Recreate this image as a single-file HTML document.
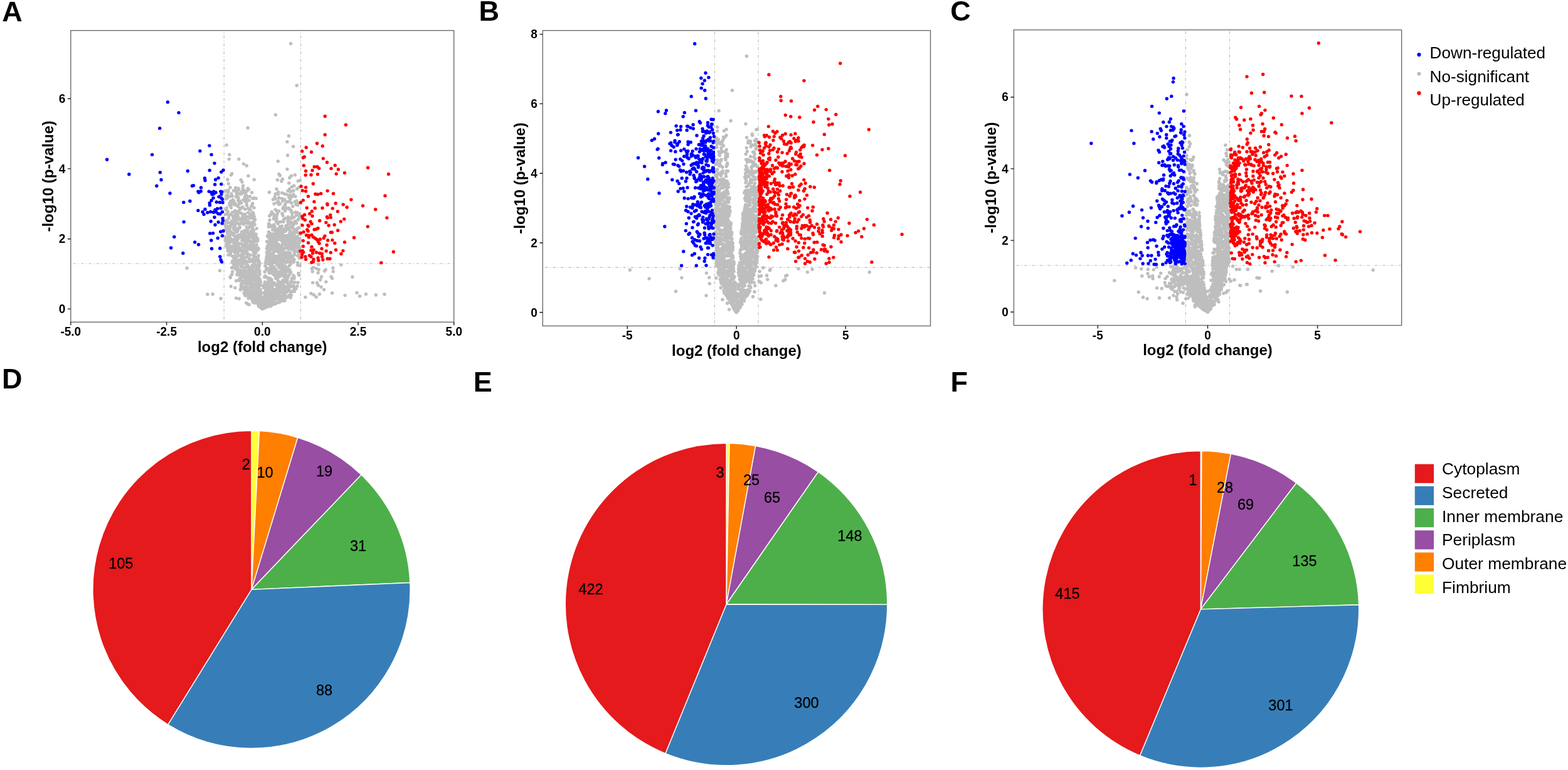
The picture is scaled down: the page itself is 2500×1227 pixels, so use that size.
<!DOCTYPE html>
<html lang="en"><head><meta charset="utf-8"><title>Figure</title>
<style>html,body{margin:0;padding:0;background:#fff}body{width:2500px;height:1227px;overflow:hidden}svg{display:block}text{font-family:'Liberation Sans', Arial, Helvetica, sans-serif}</style>
</head><body>
<svg width="2500" height="1227" viewBox="0 0 2500 1227">
<rect width="2500" height="1227" fill="#fff"/>
<g font-weight="bold" font-size="45" fill="#000">
<text x="3.3" y="33.8">A</text>
<text x="763.6" y="32.9">B</text>
<text x="1515.3" y="33.1">C</text>
<text x="3" y="618.9">D</text>
<text x="754.8" y="623.9">E</text>
<text x="1515.6" y="623.9">F</text>
</g>
<g id="plotA">
<path d="M357.20 513.3V48.6" stroke="#b9b9b9" stroke-width="1.13" fill="none" stroke-dasharray="1.13 3.39 4.52 3.39"/>
<path d="M479.40 513.3V48.6" stroke="#b9b9b9" stroke-width="1.13" fill="none" stroke-dasharray="1.13 3.39 4.52 3.39"/>
<path d="M112.8 420.00H723.8" stroke="#b9b9b9" stroke-width="1.13" fill="none" stroke-dasharray="1.13 3.39 4.52 3.39" stroke-dashoffset="0.6"/>
<path d="M411.4 398.1h0M405.6 442.2h0M404.8 356.3h0M398.3 413.7h0M371 384.9h0M395.3 404.6h0M405.7 376.7h0M391.2 431.9h0M410.2 446.5h0M376.3 337.6h0M415.1 489.5h0M398.7 370.8h0M372.5 303.7h0M402.7 446.2h0M413 486h0M415 477.7h0M388.1 436.1h0M401.4 472.2h0M415.9 454.7h0M372.7 375h0M405.9 405.2h0M399.2 346.5h0M412.2 396.3h0M359.8 351.7h0M415.7 472.8h0M409.2 378.6h0M397.1 319.3h0M385 421.9h0M375.7 354.4h0M387.6 403.2h0M411.7 457.9h0M364.9 384.6h0M403.7 368.9h0M404.3 445.7h0M375 343h0M383.2 332.4h0M402.4 422.7h0M404.2 407.3h0M394.4 405.1h0M402.7 394.4h0M410.6 468h0M358.6 304.7h0M395.7 364.3h0M407 395.1h0M364 303.3h0M386.5 390h0M383.9 416.4h0M405.5 399h0M387.5 457.3h0M411.8 433.4h0M404.2 341.2h0M413.5 465.7h0M404.8 415h0M380.1 300.2h0M369.6 352.3h0M390.4 380.9h0M359.1 377h0M389.9 379.1h0M377.7 376.9h0M386.5 436h0M403.2 338.6h0M389.1 374.5h0M380.7 336.7h0M403.3 345.2h0M374.5 364.9h0M412.2 442.3h0M364 406.1h0M369.8 395.6h0M376.4 313.5h0M404.8 375.6h0M366.7 375h0M368.2 383.9h0M417.2 489.5h0M411.7 420.1h0M390.1 449h0M375.7 369.6h0M410.5 465.1h0M382.9 395.8h0M368.7 341.8h0M396.8 437.4h0M380.6 302.8h0M415.4 461.6h0M378.5 387.2h0M403.3 460.2h0M381.8 363.5h0M400.4 438.5h0M374.4 402.2h0M402.1 339.6h0M402.7 479.5h0M370.5 417.4h0M385.8 383.1h0M379.3 340.5h0M405.9 456.5h0M380 430.3h0M367.6 397.9h0M379.5 318.9h0M372.7 374.6h0M375.7 338.5h0M411.7 479.4h0M381.7 437.2h0M385.3 305.5h0M363.2 390.6h0M380.4 435.8h0M413.3 454.7h0M383.6 436.3h0M375.1 364.2h0M397.3 435.3h0M405.8 417.3h0M413.5 423.2h0M394 364.2h0M389.5 440.5h0M391.4 392.4h0M394.1 449.4h0M397.5 470.5h0M388.2 400.7h0M381.2 445.3h0M408.1 427.8h0M391.8 451.3h0M400.8 428.9h0M405.3 458.6h0M362 386.7h0M380.6 429.1h0M384.7 339.8h0M371.1 397.1h0M409.2 464.7h0M374.2 385h0M403.5 399.6h0M367 402.7h0M386.7 459.7h0M386.5 411.1h0M381.9 357.7h0M360.2 365.9h0M402.3 458.7h0M374.5 419.1h0M392.5 445h0M402.7 361.2h0M402.2 474.8h0M383 414.7h0M383 332.9h0M373.9 346.5h0M390.4 400.2h0M396.5 426.2h0M388.1 412.2h0M386.3 403.8h0M394.6 466.9h0M394 403h0M371.7 385h0M413.8 433.4h0M390.2 415.2h0M385.9 401.4h0M374.5 359.4h0M366.5 313.1h0M404.6 403.5h0M375.6 304.6h0M408.3 459.4h0M388 318.5h0M407.8 451.4h0M371.3 382.4h0M372.5 421.3h0M390.1 346.7h0M402.7 465.1h0M391.2 320.9h0M395.1 444.3h0M400.6 427h0M364.3 365.9h0M404.2 446.6h0M414.9 464.6h0M392.5 434.9h0M360.9 389.4h0M412.2 452h0M398.5 415.2h0M375 337.9h0M392.8 443.5h0M388.3 379.5h0M401.9 369.3h0M359 358.3h0M407.1 478.5h0M410.5 410h0M399.6 385.5h0M396.7 443.7h0M397.8 472.1h0M371.4 408.8h0M382.7 309.2h0M401.9 394.5h0M401.6 362.2h0M414.8 487.1h0M375.7 379h0M382.8 413.4h0M410.1 468.9h0M393.4 445.7h0M407.2 410.1h0M405.3 376.3h0M359.4 383.8h0M388.4 369.8h0M390.1 416.8h0M401.1 450.4h0M392.8 457h0M405.9 475.6h0M371.3 318.4h0M407.3 433.8h0M390.7 442.2h0M381.8 357.7h0M391.5 436.7h0M397.4 416.8h0M407.5 472.1h0M374.1 410.7h0M391.8 426h0M402.7 324.3h0M374.5 323.9h0M379.7 407.3h0M361.6 360.8h0M369.2 399.6h0M396.7 436.8h0M394.3 470.6h0M365.6 391.4h0M410.8 470.3h0M398.7 359.2h0M365.8 367h0M362.6 362.8h0M363.1 377.1h0M361.4 351.5h0M406.7 379.1h0M394.3 417.2h0M360.6 392h0M380.3 377.2h0M377.4 353.8h0M410.6 427.7h0M411.8 430.5h0M408.1 373.2h0M372.2 347.3h0M361.3 383.2h0M412.8 457.1h0M362.6 370.9h0M391.2 368.3h0M364.9 343.4h0M365.6 398.5h0M359.5 360h0M395.6 458.8h0M361.9 382.5h0M362.8 368.4h0M406.1 358h0M412.2 426.9h0M374.5 415.6h0M395.8 431.7h0M392 453.3h0M409.3 462.6h0M377.8 409.2h0M387.9 439.2h0M367.8 360.6h0M402.7 365.1h0M383.5 416.7h0M409.4 381.9h0M375.6 299.3h0M379.8 346h0M406.2 471.2h0M389.2 411h0M376.9 429.6h0M378.5 369.1h0M406.9 473.2h0M374.8 393.7h0M392 455.6h0M394.1 396.8h0M379.9 392.4h0M393.5 461.5h0M367.3 401.9h0M396.9 452.6h0M405.2 399.7h0M393.9 417h0M389 450.9h0M402.6 427.8h0M401.7 438.5h0M405.8 469.8h0M398.1 462.7h0M392 469h0M400.7 370h0M378.3 438h0M411.6 484.8h0M368.5 382.6h0M410.2 429.2h0M377.5 307.8h0M400.5 357.7h0M388.2 357.3h0M377.3 351.7h0M392.6 436.1h0M383.6 378.3h0M364.6 384.4h0M399 389.7h0M370.8 399.2h0M398.4 376.7h0M394.4 355.7h0M383.4 432.6h0M409.2 364.1h0M383.7 437.6h0M375.7 420.4h0M416 482.6h0M412.6 474.9h0M361.5 331.1h0M373.1 355h0M388.7 410.1h0M400.4 368.1h0M372.8 320.7h0M362.1 368.1h0M363.5 368.1h0M401.4 441.6h0M383.6 373.6h0M389.9 384.5h0M397.2 362.2h0M383 350.9h0M368.4 380.4h0M392.4 458.1h0M384 418.2h0M395.2 423.1h0M400 433.3h0M392.7 462.9h0M378.5 424.9h0M415.1 484.2h0M393 439.7h0M390.2 410.8h0M397 440.6h0M395.1 385.2h0M391 319h0M402.4 373h0M377.5 389.5h0M392.4 347.5h0M399.7 387h0M393.8 376.5h0M370.5 357.4h0M400.6 328.7h0M404.6 366.9h0M390.2 389.7h0M404.1 370.7h0M406.8 403.3h0M377.4 421.2h0M372 373.6h0M382.1 420.2h0M379.8 430.7h0M412.6 417.2h0M379.7 436.5h0M410.6 453.4h0M395.1 371h0M405.1 423.4h0M385.2 447.1h0M406.4 422.9h0M408.3 401.7h0M409.2 415.2h0M394.4 449.5h0M391 388.8h0M403.1 388h0M404.4 424.1h0M390.3 416.8h0M397 437.4h0M385 308.9h0M367.8 320.4h0M389.8 448.3h0M394.6 352.2h0M373.1 427h0M406.4 459.2h0M390.1 426.9h0M368.8 381.2h0M405.9 445.3h0M396.7 395.6h0M379.8 400.5h0M393.6 442h0M369.9 393.3h0M364.3 392.2h0M365.7 326.3h0M404 459.7h0M371.1 371.6h0M382 388h0M399 396.7h0M364.6 384h0M399.7 467h0M401.5 306.8h0M402.1 361.3h0M376.9 398.6h0M393.2 324h0M378.9 328.5h0M384.7 452.2h0M404.3 384.6h0M372.2 322.7h0M394.9 404.6h0M396.5 428.4h0M406.9 441.5h0M415.5 449.5h0M392.6 403.3h0M373.8 420.1h0M375.1 411.4h0M380.4 356.7h0M393.4 446.3h0M390.9 436.5h0M376.5 384.4h0M380.9 375.3h0M377.3 397.9h0M385.3 388.7h0M379.2 374.9h0M395.6 338.9h0M390 400.7h0M400.9 377.2h0M393.8 447.4h0M374.7 326.4h0M358.6 355.7h0M384 431.5h0M399 393.4h0M393.1 353.2h0M410.8 467h0M393.9 317.2h0M389.5 349.4h0M395.9 375.1h0M387.2 354h0M393.7 409.3h0M391.6 307.4h0M389.7 367.4h0M390 459.9h0M372.9 375.3h0M396.7 354.2h0M390.9 402.9h0M407 436.5h0M412.9 462.9h0M372.6 350.6h0M369.8 371.2h0M398.1 347.9h0M403.8 469.5h0M408 391.9h0M398.5 442.6h0M409.6 470.3h0M398.9 406.5h0M379.2 403.9h0M374.6 407.6h0M384.8 407h0M380.4 375.7h0M368.5 331h0M402.4 413h0M390.1 372.4h0M363.2 399.7h0M393.7 304.2h0M413.2 449.8h0M390.6 438.8h0M374.2 390.4h0M386 331.1h0M372.8 419h0M374.1 371.1h0M374.9 400.6h0M391.2 471h0M405 352.9h0M399.2 334.5h0M377.9 436.8h0M386.9 392.8h0M378.8 327.2h0M379.8 396.7h0M410.7 412.5h0M379.4 432.1h0M398.4 434h0M367.8 341.6h0M402.4 444.6h0M384.7 378.4h0M360.4 334.5h0M382.1 445.5h0M376 409.1h0M372.5 362.9h0M401.2 385.2h0M362.9 340.2h0M402.4 326h0M382.5 331.3h0M410.3 453.4h0M378.8 363.9h0M377.7 402.1h0M401.5 469.3h0M372.4 410.4h0M363.3 337h0M412.4 442.7h0M391.6 445.9h0M396.6 411.5h0M387.1 414.6h0M405.7 385.1h0M390.9 333.5h0M393.2 361.4h0M387 391.9h0M405.2 433.1h0M390.4 398.5h0M384.2 397.4h0M386 442h0M387.3 399.8h0M417.4 473.3h0M367 368.7h0M390.1 395.3h0M391.8 467.7h0M413.7 419.1h0M414.6 472.3h0M377 421.1h0M397.9 431.6h0M395.8 331.9h0M368 329.7h0M403.1 393.4h0M397.2 333.3h0M390 396.9h0M377.9 383.2h0M375.8 336.1h0M364.7 347.9h0M385.5 369.5h0M391.5 309h0M401.2 453.6h0M362.9 371.7h0M406.9 398.3h0M376.6 348h0M392.4 448.3h0M384.3 419.2h0M400.3 340.9h0M404.8 471.3h0M386.8 435.4h0M389.1 305.2h0M401.5 424.9h0M364.3 361.1h0M390.2 461.7h0M411.6 476.3h0M384.6 323.5h0M408.7 411.4h0M393.1 454.1h0M382.3 362.5h0M376.8 417.5h0M363.3 393.5h0M373 387.3h0M394 345.5h0M398.8 342.9h0M394.6 385.5h0M404.3 469.8h0M362.1 368.1h0M379.2 391.8h0M384.5 454h0M393.6 312.5h0M380.1 314.9h0M383.1 356.1h0M390.4 320.2h0M366.1 323.5h0M401.8 426.4h0M366.3 379.2h0M387.2 348.2h0M362.2 361.9h0M364.2 384.8h0M389.3 437.5h0M400.3 437.3h0M359.5 341.6h0M393.2 439.4h0M409.1 390h0M362.6 395.4h0M373.2 413.2h0M391.9 393.9h0M409.5 380.1h0M394.4 368.7h0M406.8 480.3h0M386.6 409.8h0M371.6 344.9h0M403.3 416.3h0M374 349.6h0M383.8 435.5h0M374.5 426.3h0M360 377.9h0M367.8 328.6h0M390.2 355.8h0M374.8 366.3h0M407.4 375.4h0M362.7 354.3h0M396.9 458.5h0M411.9 414.3h0M386.2 306.6h0M391.7 470.6h0M393.2 449.8h0M398.3 371.7h0M385.7 347.3h0M414.1 451.1h0M368 395.9h0M370.3 324.1h0M386.6 342h0M399 444.2h0M378.4 415.1h0M386.9 424.9h0M396.6 302h0M400 432h0M412.3 418.5h0M408.3 447.2h0M372.9 397.5h0M362.5 309.9h0M388.8 303.5h0M372.5 425h0M400.2 456.9h0M389.1 448.9h0M406.1 432.7h0M367.9 354.9h0M407.1 393.3h0M362.7 311.4h0M375.8 394.9h0M379.2 308.8h0M405.3 345.3h0M362.9 384.9h0M375.5 415h0M385.8 431.9h0M411.8 441.6h0M404 436.9h0M401.9 442h0M393.5 441.2h0M395.4 395.9h0M403.5 348h0M367.1 298.8h0M402.3 437.2h0M404.6 452.2h0M386.1 451.9h0M388 404.4h0M381.4 324.8h0M380.1 433.4h0M360 365.3h0M412.5 426h0M375.9 396.5h0M387.1 371h0M390.9 401.2h0M373.1 337.7h0M377.8 342.7h0M384.1 399.6h0M385.8 415.7h0M416.2 466.3h0M373.6 357.8h0M385.7 418.5h0M389.5 306.4h0M385.7 306.1h0M368 406.6h0M411 422.2h0M379.3 381.2h0M389.2 371.4h0M386.1 458.3h0M374.2 381.1h0M384.4 437.6h0M395.8 392.3h0M375.5 356.1h0M405.1 331.1h0M366.4 364.7h0M391.8 402.9h0M392.9 390.3h0M378.6 418h0M410.2 384.3h0M363.3 379.2h0M382.4 320.1h0M398.7 474.3h0M410.9 380.9h0M389.6 345.9h0M365.7 395h0M406.1 466.7h0M389.7 432.7h0M375.1 335.6h0M401 390h0M365.2 384h0M404.5 440.8h0M374 381.8h0M401.9 444.2h0M406.9 382.5h0M372.9 388.8h0M370.3 312.6h0M409.8 476.7h0M388.9 405.1h0M397 380.9h0M385.5 409.6h0M406.3 466.3h0M370.4 338.4h0M368.2 357.4h0M388 417.4h0M407.3 437.2h0M396.4 447.7h0M402.7 431h0M378.9 327h0M372.8 365.9h0M406.7 434.3h0M394.5 434.1h0M410.8 383.8h0M381.8 435.3h0M411.5 427.8h0M392.2 383.3h0M394.7 397h0M402.5 474.8h0M402.6 383.7h0M408.6 426.5h0M360.1 317.1h0M386.4 418.6h0M379.4 344.8h0M370.5 416.2h0M390.5 446.1h0M401.7 416.3h0M398.3 377.1h0M405.3 408.4h0M403.8 376h0M399.1 431.3h0M383.1 440h0M396.1 475.2h0M408.4 439.9h0M387.1 348.7h0M396.3 428.2h0M386.1 377.5h0M363.9 365.7h0M400.2 346.5h0M398.3 452.5h0M412.3 444.9h0M374.8 427h0M380.1 347.9h0M371.7 384.7h0M411.4 463.4h0M372.3 325.2h0M409.7 478.5h0M392.4 458.3h0M394.8 352.5h0M387.6 404.1h0M413 437.3h0M405.8 378.7h0M382.3 333.7h0M385 430.2h0M409.5 440.3h0M403.2 380.3h0M406 466.2h0M407.3 444.8h0M390 469h0M363.1 354.2h0M380.9 394h0M414.7 466.6h0M401 434.7h0M385 408.4h0M397.2 459.2h0M368.7 392.8h0M394.5 381.3h0M389.8 466.3h0M404.1 371.5h0M411.4 409.3h0M381.9 420.4h0M405.9 436.3h0M392.4 321.6h0M373.7 326.3h0M412.6 469.1h0M406 420.4h0M403 316.4h0M390.4 341.3h0M414.9 449.9h0M406.9 473.1h0M386.9 330h0M386.3 401.3h0M384.8 442.3h0M406.6 349.9h0M380.7 321.5h0M404.1 417.7h0M367.3 360.2h0M407.3 478.3h0M372.5 372h0M378 387.4h0M366.3 386.8h0M393.3 327.3h0M394.3 398.1h0M411.9 407.1h0M393.6 461.5h0M376.2 351.7h0M367.9 402.5h0M413.6 463.6h0M383.2 407.3h0M401.1 439.3h0M400.8 397.8h0M395.6 423.6h0M413 417.1h0M401.9 354.2h0M379.2 367.1h0M407.3 402.9h0M405.7 464.5h0M371.7 384.2h0M363.9 355.1h0M401.1 475.9h0M408.3 458.6h0M376.6 384.7h0M411.6 395.3h0M406.9 391h0M379.4 377.1h0M411.1 478.8h0M390.5 450.7h0M395.8 396.8h0M384.1 424.6h0M359.5 379.1h0M381.6 447.1h0M454.2 465.8h0M419.1 491.2h0M457.7 427.3h0M431.6 391.2h0M428.7 477.9h0M465.5 384h0M464.1 379.3h0M478.1 403.7h0M463.8 449.8h0M437 324.8h0M478.2 371.2h0M423 473.9h0M450.7 371.7h0M430.8 453.6h0M455.1 410.7h0M431.7 446.8h0M428.8 447.1h0M423.6 468.7h0M449 405.1h0M445.4 440.5h0M425.1 426.7h0M432.2 419.9h0M436.7 384.7h0M424.2 451.1h0M428 456.2h0M436.9 362.3h0M445.1 468.3h0M469.4 464.6h0M459.3 411.2h0M453.2 376.1h0M455.8 387h0M444.9 368.8h0M437.2 464h0M426.3 476.3h0M446.7 397.4h0M462.6 313.7h0M434.2 404.5h0M424.4 475.7h0M435.3 461.9h0M433.9 416.9h0M428.8 448.6h0M429.7 483.6h0M467.8 455h0M434 467.2h0M425.2 441.9h0M460.2 349.1h0M470.4 391.3h0M449.4 367.7h0M449.8 415.9h0M445.3 437.4h0M429.7 378.2h0M449.7 307.4h0M435.6 390.3h0M449.5 409h0M437.1 345h0M449.9 435h0M446.6 324.9h0M458.9 321.2h0M452.5 386.7h0M426.6 413.1h0M458.2 448h0M459.9 432.5h0M443.8 306.3h0M472.4 386.7h0M425.3 401.9h0M420.9 456.2h0M443.9 467.4h0M453.4 431.2h0M435.4 475.5h0M431.5 408.1h0M457.2 432.8h0M462.8 316.9h0M434.7 366.3h0M432.6 469.2h0M425.6 457.8h0M462.3 434h0M467.1 389h0M421.8 441.2h0M433.8 417.9h0M475.2 392.7h0M461.5 388.1h0M456.7 432.1h0M434.6 340.2h0M462.3 374.5h0M452.3 459.6h0M458.7 443.2h0M458 331.9h0M422 433.2h0M453.1 415.7h0M445 433.6h0M424.5 487.8h0M476.5 404.2h0M426.6 392h0M440.7 380.4h0M424.2 470.1h0M439.4 476.4h0M441.6 408.1h0M437.6 389.7h0M443.4 475.6h0M447.9 437h0M461.6 406.3h0M444 353.7h0M422.7 475.6h0M464.3 385.7h0M453.5 457.7h0M434.8 473.9h0M445.2 401.1h0M449.7 449.3h0M454.9 364.3h0M443.6 442.1h0M465.3 443.7h0M475 450.3h0M437.2 379.3h0M428 443.2h0M460.6 471.9h0M453.1 411.2h0M424.1 459.3h0M447.7 480h0M428.7 462.7h0M456.7 457.4h0M450.2 408.7h0M446.6 439.7h0M433.1 486.2h0M464.8 346.6h0M477.2 372.9h0M445.9 361.2h0M469.3 366.1h0M471.6 394.8h0M461.9 430h0M445.8 459.7h0M423.7 476.5h0M455.4 417.8h0M447.4 455.3h0M442.3 340.1h0M441.9 458.6h0M454.3 328.8h0M463.1 361.2h0M461.9 392.9h0M465.4 348h0M463.2 417.7h0M460.8 314.7h0M472.6 342.9h0M421.9 490.7h0M428.8 486.4h0M429.9 350.8h0M426.8 394.9h0M433.5 478h0M443.3 397.9h0M438.6 375.3h0M469.8 406.1h0M440.3 436.2h0M437.8 416.4h0M465.6 464.7h0M456.2 448.4h0M454.4 348h0M465.2 338.3h0M434.7 412.5h0M424.9 412.9h0M440.4 440.2h0M455.9 418.3h0M467.8 439h0M435.9 476.8h0M453.3 332.7h0M443.7 471.6h0M433 420.9h0M438.9 473.3h0M436.8 482.9h0M457.3 416.8h0M432 421.4h0M456.4 402.3h0M428.7 451h0M445.5 456.8h0M439.8 418.8h0M461.9 321.4h0M439.7 399.8h0M441.1 381.2h0M429.6 373.2h0M454.3 376.1h0M453.3 460.9h0M432.1 470h0M438.2 367.1h0M448.7 416.4h0M443.9 469.3h0M428.1 454.9h0M465.6 371.3h0M427.4 420.2h0M469.6 402.7h0M474.1 370h0M448.5 398.7h0M460.4 348.2h0M437.7 431.1h0M443 472.9h0M450.8 415.7h0M475 350.5h0M445 315.1h0M464.6 381.8h0M428.7 468.2h0M451.8 479.2h0M457.7 473.9h0M427.3 471.4h0M453.3 469.2h0M440.7 419.1h0M450.5 365.7h0M451.3 462.1h0M432.9 472.1h0M433.2 390.5h0M471 338.3h0M436.4 389.4h0M460.6 417.1h0M444.8 465.7h0M444.3 366.7h0M442.6 355.9h0M425.7 482.4h0M450.2 411h0M454 457.7h0M442 382.5h0M421.4 484.8h0M440.6 372h0M451.7 439.1h0M432.3 434.9h0M458.4 427.5h0M439.7 430h0M429.6 418.6h0M440.5 383.4h0M454.2 441.5h0M471 313.1h0M418.9 475.9h0M446.9 452.9h0M461.2 431.2h0M436.5 358.3h0M465.8 313.3h0M425.4 384.9h0M450.4 416.5h0M466.9 355.1h0M425.8 396.1h0M451 452.3h0M472.7 386.3h0M434.7 418.3h0M451.3 430.5h0M421.4 481.6h0M468.9 443.7h0M477.4 340.8h0M450.4 425.5h0M461.3 423.4h0M457.7 385.7h0M422.9 423.8h0M453.2 470h0M462.1 452.9h0M428.6 390h0M458.4 440.7h0M448.2 353.5h0M466.4 392.6h0M443.5 432.7h0M437.5 344.9h0M459 461.7h0M433.9 474.7h0M427.4 408.2h0M463.3 455.3h0M443.2 356.3h0M465.9 339.9h0M458 464.7h0M471.1 387.9h0M437.7 478.5h0M429.1 447.9h0M420.3 466.9h0M430 417.4h0M444 396.5h0M460.8 378.9h0M424.6 429.3h0M464.6 323.4h0M427.7 482.6h0M476.4 392.5h0M454.1 447.1h0M427.1 375h0M456.6 322h0M465.1 397.4h0M432.1 408h0M423.7 465h0M433.7 422.8h0M459.8 355.7h0M455.5 466.3h0M476.8 438.6h0M467.7 463.4h0M428.1 398.9h0M468.4 356.6h0M447.2 372.8h0M428.7 386.4h0M437.2 469.7h0M426.9 386.1h0M436.7 451.7h0M440.3 454h0M439.8 432.2h0M439 465.1h0M443.5 375.7h0M460.4 439.2h0M433.8 459.1h0M429.5 416.4h0M423.3 457h0M444.2 374.2h0M458.8 393.6h0M468.5 384.6h0M451 477.5h0M437.7 395h0M468 378.5h0M470.4 388.1h0M430.2 371.8h0M453.9 378.3h0M459.2 412h0M446.2 324.5h0M454.4 325.6h0M463.1 421.6h0M451.1 375.6h0M425.9 453.1h0M437.8 362h0M474.8 400h0M458.8 392.8h0M446.7 474h0M436.5 360h0M476.2 380.2h0M434.1 449.1h0M430.6 360.5h0M439.6 436.6h0M442.5 456.8h0M426.5 406.7h0M450.2 365h0M454.4 464.2h0M430.1 401.6h0M447.8 407h0M436.7 484.6h0M420.6 458.4h0M443.6 368.7h0M460.5 388.3h0M469.9 386.5h0M448 439.1h0M442.6 400.9h0M431.2 455.6h0M455.8 408.1h0M454.8 423.9h0M467.8 462.9h0M456.9 362.1h0M426.9 458.7h0M443.3 470.4h0M451.7 473.8h0M461.9 463.1h0M452.8 435.1h0M463.5 374.1h0M439.5 467.1h0M432.8 384.5h0M457.8 388.6h0M443.6 320.8h0M437.9 364h0M439.8 395.2h0M460 429.4h0M431.5 397.2h0M447.2 458.5h0M448.6 437.3h0M436.3 453.7h0M430.6 358.4h0M462.1 310.9h0M450.8 421.9h0M453.5 385.5h0M449.5 391.3h0M444.7 336.4h0M440.1 463.4h0M419 473.9h0M431.4 488.1h0M477.4 411.4h0M432.6 456.1h0M451.9 370h0M460.7 457.1h0M450.8 387.1h0M463.3 474.3h0M463.5 353.6h0M455.1 444h0M458.2 375.6h0M419.3 483.5h0M429.6 435.1h0M476.4 382.4h0M466.8 382.1h0M439.5 410.1h0M430.5 414.1h0M455.5 347.9h0M429.8 380.2h0M432.1 465.8h0M473.5 326.2h0M458.8 440.5h0M428.6 433h0M443.4 447.8h0M464.6 447.5h0M451.5 412h0M464.5 456.8h0M450.9 365.8h0M462 371.2h0M464 335.5h0M453.1 448.6h0M429.8 344h0M438.7 410.2h0M425.6 471.4h0M471.4 377.6h0M443.8 408.3h0M472.1 400.5h0M459.6 396.7h0M463.6 466.1h0M440.3 353.2h0M436.4 425.3h0M448.1 418.9h0M425.4 455.4h0M464.2 362.2h0M447.5 478.6h0M478.1 395.4h0M426.8 411.5h0M468.4 417.2h0M458.5 430h0M453.2 441.7h0M431.5 427.4h0M445.8 365.1h0M460.4 375.8h0M446.8 362.5h0M432.3 423.2h0M446 466h0M423.1 439.6h0M441.5 472.9h0M420.7 455.2h0M462.4 435.9h0M435.7 398.6h0M424.4 464.6h0M466.1 416.1h0M428.6 378.5h0M450.6 447h0M463.1 412.5h0M442.5 378.1h0M457.6 310.1h0M431.9 471.3h0M462.6 407.8h0M447.5 455.6h0M426.5 376.4h0M448.9 421.8h0M463.2 305.4h0M425.5 481.5h0M451.8 429.9h0M443.5 452.1h0M435.7 394.5h0M439 334.1h0M441.7 410.4h0M451.2 478.2h0M427.8 385.9h0M443.4 470h0M446.5 472.7h0M443.5 309.6h0M428.6 356.4h0M437.6 388.8h0M435.5 435.9h0M451 472.9h0M456.6 408.2h0M469.2 375.6h0M430.4 382.3h0M435 433.2h0M476 435.4h0M436.5 438h0M461.7 301.2h0M436 358.9h0M445.6 421.8h0M451.2 389.4h0M432.1 466.6h0M468.9 355.4h0M431.1 471.5h0M454.6 334.6h0M466 449.3h0M428 445.5h0M424.8 482.2h0M461.2 396.4h0M439.2 484h0M460.4 350.4h0M472.2 326.1h0M423.4 463.3h0M464.9 384.4h0M434.7 411.4h0M447.5 477.1h0M444.4 448.4h0M429.2 448h0M436.9 384.5h0M443.3 410.6h0M428 405.9h0M475.4 400.4h0M460.8 382.1h0M423.2 474.6h0M427.8 469.3h0M474.6 422.5h0M433.4 407.1h0M450.7 320.4h0M434 473.7h0M425.4 409.4h0M436.1 428.4h0M436 470.3h0M444.8 449h0M434.5 385.6h0M429 412.2h0M465.2 372.4h0M437.5 466.9h0M478.1 380.4h0M446.2 367.2h0M450.8 424.9h0M425.3 463.5h0M469.4 400.7h0M453.2 455.2h0M440.9 419.1h0M425.4 478.3h0M461.7 456.9h0M441.3 398.5h0M447.3 382.2h0M429.2 448.6h0M468.2 379.6h0M450 432h0M476 388.7h0M437 407.7h0M426 406.7h0M423.9 474.6h0M439.4 369.3h0M441.5 468.6h0M449.1 370.6h0M439.8 366.4h0M434.6 410.1h0M437.4 418.6h0M466.4 410.1h0M427.3 393h0M431.3 395.6h0M465.6 356.1h0M434.5 483.1h0M467.9 303.8h0M451.8 398.5h0M465.1 373.3h0M450.3 388.6h0M460.5 402.6h0M462.1 470.8h0M446.9 376.7h0M445 425h0M443.7 389.1h0M441.3 455.6h0M459.7 363.4h0M447.4 362.1h0M443.6 439.9h0M442.3 441.3h0M453.8 318h0M446.7 369.2h0M437 478.9h0M440.8 437.4h0M454 449h0M435.4 474.2h0M473.7 338.7h0M452.4 387.1h0M459.6 417.3h0M464 418.1h0M475.4 324.1h0M428.3 369.7h0M453.7 466.8h0M458.9 352.8h0M442.9 461.5h0M430.1 484.5h0M474.1 377.2h0M456 359.7h0M458.8 461.6h0M438.1 313.6h0M454.7 408.6h0M441.6 369.2h0M435.3 412.4h0M449.2 394.1h0M439.4 308.9h0M437.3 362.9h0M460 376.9h0M423.2 449.8h0M440.7 397.4h0M447.3 403.1h0M449.9 415.1h0M454.7 336.3h0M452.6 386.5h0M448.7 429.4h0M435.2 479.1h0M431.6 342h0M432.6 459.9h0M460.4 331.8h0M469.1 367.4h0M450.9 451.1h0M421.7 441.2h0M442.1 439h0M453.6 409.5h0M472 460h0M467.3 371.6h0M473.9 455.9h0M437.9 413.6h0M432.9 445.4h0M430.2 486.2h0M441.9 365.3h0M458.5 365.5h0M447.1 402h0M424.5 451h0M450 438.1h0M445.8 363.3h0M477.7 344.9h0M456.9 394h0M449.7 316.5h0M477.7 386h0M452.3 468.2h0M448.4 463.5h0M419 482.1h0M445.2 412.6h0M464.5 470.6h0M465.5 344.7h0M449.9 384.1h0M444.3 473.8h0M424.3 415.3h0M453.2 437.1h0M446 422.8h0M419.7 480.7h0M429.9 382.6h0M446.8 440.3h0M427.9 430h0M444.3 377.6h0M452.6 349.3h0M428.9 405.5h0M428.9 448.8h0M453.6 412.7h0M422.6 440.9h0M442.4 475.7h0M428.8 458.2h0M426.8 452.2h0M427.3 407h0M429 407.5h0M475.3 394.8h0M449.9 416.4h0M455.6 438.5h0M440.3 440.6h0M426.9 472h0M434.3 458.9h0M444.3 409.3h0M474.7 363.9h0M457.7 358.9h0M446.6 424.3h0M430.9 443.7h0M444 414.6h0M438.4 427.6h0M441.7 422.3h0M454 479h0M451.7 429.4h0M449.8 407.9h0M441.1 348.5h0M457.9 403.3h0M469.1 441.4h0M430.2 388.5h0M430 427.6h0M441.5 468.5h0M466.8 328.8h0M456.1 426.8h0M470.3 352.5h0M432.6 391.8h0M451.8 381.6h0M452.3 366.4h0M441.4 482.6h0M443.6 367.1h0M431.1 454.3h0M442.8 443h0M437.7 342.4h0M440.5 386.8h0M455.8 375.4h0M456.3 440.8h0M470.1 321.8h0M445.2 481.7h0M438.2 474h0M426.6 484.6h0M462.6 388.2h0M451.1 456.8h0M442.9 422.9h0M470.6 390.5h0M466.6 394h0M430.5 445.9h0M468.5 398.9h0M448.6 429.2h0M433 418.5h0M449.9 340.3h0M459.4 452.9h0M434.6 372.8h0M427.9 467.9h0M467.9 385.9h0M433.2 449.5h0M429.2 473h0M472.7 378.2h0M452.2 403.4h0M455.5 368.3h0M469.2 458.4h0M436.4 385.3h0M447.3 380.5h0M445.4 403.6h0M450.3 379.6h0M428.5 361.5h0M426.5 466.1h0M432.6 450.5h0M450.1 474.1h0M448.3 437.9h0M472.5 355.8h0M432.8 340.2h0M428.7 360.2h0M450.4 428.4h0M429.7 480.3h0M439 365.2h0M444.6 315.4h0M470.6 370.2h0M447.4 401.5h0M433.4 361.3h0M432.9 457.2h0M454.1 388.4h0M436.4 462.6h0M449 472.2h0M445.8 366h0M443.7 393.6h0M452.6 471.8h0M455.7 383.5h0M465.1 387.1h0M469 413.8h0M474.8 326.9h0M435.6 391h0M430.2 398.9h0M436.4 413.4h0M465.4 407.8h0M437.2 376.2h0M451 332.5h0M455.8 449.5h0M458.7 388.7h0M435.4 318h0M422.6 470.7h0M440.5 370.4h0M429.6 370.8h0M426.5 392.4h0M428.2 475.2h0M445.5 439.1h0M474.5 418.6h0M444.6 372.7h0M461.7 333.3h0M436.4 349h0M462.9 403.3h0M471 377.2h0M429.6 473.2h0M437.2 386.7h0M440.7 413h0M423.9 455.5h0M438 360.9h0M459.2 345.6h0M433.5 475.4h0M472.8 365.2h0M461 462.5h0M433.2 337.7h0M470.4 394.9h0M439.2 316.7h0M445.9 470.8h0M450.8 405.5h0M461.6 375.1h0M446.9 457.1h0M460.3 397.3h0M476.7 362.6h0M426 404.8h0M423.3 418.8h0M436.2 386.4h0M459.3 385.4h0M433.2 375.6h0M424.9 410.2h0M439.5 439h0M469.7 394h0M444.9 426.6h0M444.7 325.8h0M441.3 343.4h0M446.2 417.3h0M456.3 393.8h0M448.4 451.8h0M454.3 384h0M451.7 330.4h0M420 489h0M450.4 476.8h0M437.8 451.3h0M454.5 472.3h0M450.9 343.3h0M460.7 363.6h0M454.6 382.1h0M428 469.1h0M439.3 440.6h0M471 381.8h0M436.9 478.2h0M429.2 398.1h0M458.4 381.1h0M457 405.2h0M473 319.9h0M477.2 408h0M445 398.1h0M433.3 470.6h0M462.8 367.9h0M445.3 424.4h0M430.7 471.2h0M450.8 474.3h0M443.9 414.8h0M455.9 442.3h0M455.2 377.3h0M429.9 415.5h0M452.2 425.7h0M428.7 472h0M462 390.6h0M440.7 391.1h0M446.6 392.4h0M446.8 451.4h0M461.2 373.1h0M422.4 449.5h0M466.8 363.4h0M457.8 383.4h0M437.6 473.8h0M439.1 398.6h0M434.1 379.8h0M448 406.5h0M421.7 453h0M438.7 452.6h0M456.5 438.1h0M451.4 407.2h0M439.1 412.6h0M440.3 335.2h0M452 353.2h0M443.4 468h0M468.9 379.1h0M444.3 439.3h0M438.4 461.6h0M441.8 322.8h0M449.1 373.6h0M465.4 385h0M454.1 395.8h0M429.3 415h0M450.3 372.2h0M467.2 359.4h0M463.7 433.9h0M422.9 465.5h0M453.5 435.2h0M437.7 473.2h0M456.3 405.3h0M449.9 370.9h0M474.9 407.7h0M467.9 388.8h0M478.1 423.2h0M445.5 392.6h0M455.7 392.7h0M440.8 410.3h0M454.8 325.4h0M457.1 447h0M469.9 449.9h0M449.1 423.1h0M468.5 376.2h0M460.2 470.6h0M439.5 414h0M446.5 362.5h0M436.1 402.6h0M460.7 356.5h0M466.5 385.5h0M471.6 457.9h0M449.8 394.6h0M466.6 386.8h0M469.1 345.9h0M478 383.5h0M427 411.7h0M469.1 376.9h0M435.1 361h0M438.1 373.4h0M423.4 486h0M438.6 415.7h0M427.1 385.6h0M449.4 360.3h0M477 347.4h0M423 451.5h0M444.8 468h0M446.6 412h0M431.2 430.9h0M467.8 309.8h0M439.7 443.7h0M463.3 386.5h0M431.5 423.2h0M428.5 457.3h0M461.3 457.5h0M452 430.7h0M448.5 450.2h0M436.1 365.2h0M453.4 417.1h0M425.3 396h0M446.3 324.9h0M470.6 370.7h0M465.3 374.4h0M414.4 445h0M415.1 465.2h0M376.5 475.1h0M384.4 420.7h0M367.1 441.1h0M369.4 426.6h0M383.4 461.7h0M379.1 433h0M403.5 481.8h0M385.9 421.3h0M413.7 431.2h0M394.5 445.3h0M390.1 430.8h0M369.7 437.5h0M403 437.4h0M381.2 475.9h0M401.6 427.1h0M397.1 485.4h0M384.2 458.9h0M395.1 423.1h0M395.6 484.8h0M388.7 419.9h0M376.7 447.4h0M367.4 442.6h0M397.4 427.5h0M392.7 482.7h0M374.8 458.6h0M397.4 446.7h0M415.1 477.1h0M384.5 455.3h0M395 440.2h0M370.7 433h0M402 472.7h0M392.3 420.5h0M395.3 443.7h0M392.2 461.5h0M412.2 478.6h0M414 437.2h0M405.9 456.7h0M368.2 456.2h0M375.6 425.8h0M419.1 491.1h0M433.6 480.2h0M444.1 480.4h0M412.3 488.1h0M423 489.3h0M425.6 468.9h0M419.9 485.2h0M446.2 479h0M414.4 486.2h0M416.6 488.9h0M419.6 482.5h0M429.8 460.4h0M417.8 491.7h0M427.1 485.3h0M415.8 478.6h0M419.6 487.3h0M433.3 482h0M417.9 490.5h0M417.1 490.8h0M408.8 473.9h0M418.2 492.2h0M416 490.2h0M432.3 465.9h0M435.1 481.1h0M436.2 475.9h0M421.2 486.8h0M419.9 491.8h0M426.3 489.1h0M421.9 484.6h0M418.6 492.2h0M414.7 485h0M408.4 480.7h0M426.4 476.3h0M418.3 491.5h0M416.2 484.3h0M450 466.1h0M413.6 463.7h0M418.7 490.1h0M418.3 492.3h0M431.9 474.1h0M417.6 490.5h0M419.3 479.6h0M421.7 490.6h0M426.3 488.5h0M401.8 469.8h0M389.2 466.8h0M408 478.7h0M420.9 491.2h0M427.5 486.9h0M417.3 489.6h0M415.5 488.1h0M419.1 485.6h0M434.7 483h0M420.4 491.6h0M417.6 491.6h0M413 487.9h0M417.5 489.4h0M416.6 491h0M417.9 492h0M396.6 467.8h0M415.2 469.2h0M445.8 469.7h0M425.3 468.5h0M418 489.4h0M413.4 487.2h0M420.8 491h0M418.2 477.1h0M406 482.8h0M413.2 486.4h0M414.2 483.4h0M425.5 488.3h0M426.7 488.6h0M454.5 471.2h0M418.9 491.3h0M416 478.7h0M416.4 490.9h0M420.6 488.5h0M453.3 476.6h0M418 491.7h0M407.2 482.2h0M424 489.3h0M418.3 492.1h0M417 489.3h0M418.1 491.2h0M399 464.2h0M395.1 203.7h0M361.2 231.1h0M365.8 246.4h0M365.2 253.6h0M380.8 253.6h0M388.3 261.1h0M393.2 264h0M369.7 276.7h0M368.4 278.7h0M395.8 280.3h0M405.2 286.2h0M362.9 286.2h0M384.1 286.8h0M386 290.1h0M364.2 292.7h0M387.6 296h0M387 300.2h0M395.1 300.2h0M377.9 302.5h0M360.9 304.1h0M364.2 305.7h0M369.1 309h0M380.5 308.4h0M377.2 311.6h0M390.2 313.9h0M398.4 313.2h0M404.9 315.5h0M408.2 316.2h0M362.5 315.5h0M360.9 312.3h0M429.3 306.4h0M298 427.3h0M350.5 431.2h0M330.9 469h0M339.1 468.7h0M352.1 475.8h0M463.6 69.5h0M473.2 136.3h0M439.3 182.9h0M460.5 216.8h0M457.9 225.9h0M467.7 233.4h0M458.6 247.4h0M443.2 256.9h0M457.9 269.6h0M444.9 277.4h0M446.5 279.7h0M470.3 278.7h0M464.4 280.3h0M461.8 283.3h0M442.3 286.8h0M450.4 285.5h0M448.8 288.8h0M478.4 287.5h0M475.2 288.5h0M460.8 291.7h0M441 301.2h0M468.7 296h0M465.4 297.6h0M476.8 298.6h0M458.9 304.1h0M462.1 305.1h0M454 309h0M429.6 306.4h0M473.5 300.9h0M543.9 422.1h0M530.9 427h0M531.2 432.8h0M507.8 421.4h0M519.2 429.6h0M561.9 441.3h0M528 441h0M529.6 443.6h0M519.8 449.1h0M529.6 467h0M550.1 470.6h0M569 466.4h0M573.6 471.9h0M583.4 468.7h0M599.3 470h0M613 469h0M509.4 468.7h0M504.2 473.2h0M496 467.7h0M500.3 469.7h0M486.9 473.6h0M516.6 461.5h0M512 457.3h0M507.4 454.7h0M505.5 450.8h0M498.6 450.4h0M510.7 445.9h0M512.6 441h0M507.1 434.8h0M498.3 432.8h0M497.3 427.9h0M499.6 426.3h0M504.5 427.9h0M508.4 429.6h0M517.5 431.9h0" fill="none" stroke="#bebebe" stroke-width="5.4" stroke-linecap="round"/>
<path d="M267.4 162.7h0M285 179.6h0M254.7 204.4h0M333.9 232.1h0M318.9 240.6h0M337.1 246.4h0M242.6 246.4h0M170.6 254.3h0M342 260.1h0M334.2 271.5h0M299.3 272.5h0M356 271.2h0M352.8 274.1h0M205.8 277.7h0M255.3 274.8h0M326.4 283.9h0M348.2 283.6h0M343.6 286.2h0M327 287.5h0M257 286.5h0M342.7 294h0M352.8 293.4h0M249.8 296.3h0M308.5 295.6h0M306.5 296.3h0M320.5 298.9h0M333.2 305.1h0M337.1 306.7h0M340.7 305.1h0M344 306.7h0M351.8 305.1h0M353.7 305.7h0M315.9 305.1h0M320.2 304.8h0M316.9 306.7h0M271 308h0M338.1 309.7h0M340.7 309h0M352.8 309.7h0M348.9 313.6h0M340.1 315.5h0M352.8 315.5h0M354.4 317.5h0M337.1 319.4h0M302.9 320.4h0M292.8 322.4h0M345.3 322h0M350.5 322.4h0M355.1 322.7h0M334.2 323.7h0M334.5 326.9h0M346.6 332.5h0M352.1 331.8h0M327 333.4h0M343 334.4h0M315.9 335.4h0M323.1 337.7h0M330.9 338.7h0M335.8 337.4h0M340.4 338.3h0M344.6 337.7h0M354.4 337.7h0M325.1 341.6h0M347.9 340.6h0M350.8 340.9h0M342 346.2h0M355.1 348.1h0M355.4 351.4h0M336.2 352.7h0M293.1 353.6h0M348.2 354h0M354.1 355.9h0M343 358.2h0M356 368h0M351.8 369.3h0M334.8 371.9h0M339.7 371.6h0M354.4 375.8h0M277.8 377.4h0M347.2 379.4h0M336.8 383h0M310.7 385.9h0M316.6 389.8h0M272.6 395h0M337.5 396.3h0M350.8 395.7h0M291.8 403.5h0M350.8 409h0M352.1 414.3h0M353.4 417.2h0" fill="none" stroke="#0000ff" stroke-width="5.4" stroke-linecap="round"/>
<path d="M518.2 185.2h0M551.4 198.9h0M518.2 214.8h0M505.5 228.5h0M514.3 232.7h0M488.2 235h0M481.7 240.9h0M496.4 242.2h0M485.3 250h0M483.3 251.3h0M515.3 252.6h0M521.4 258.8h0M484.3 263.7h0M534.2 263.4h0M501.2 265.7h0M505.8 265.7h0M508.7 268.3h0M528 268.6h0M539.4 269.9h0M498 271.5h0M487.6 272.5h0M586.6 267.3h0M549.5 275.4h0M619.5 277.4h0M536.1 277.1h0M506.5 277.7h0M496 278.7h0M487.2 279h0M499.3 292.7h0M480.1 296.9h0M487.6 298.6h0M482.3 303.8h0M487.6 304.8h0M522.1 304.1h0M531.5 308.4h0M502.9 309.3h0M506.8 309.7h0M511.7 308.4h0M491.5 312.9h0M614 311.9h0M559.9 318.1h0M483.3 319.1h0M479.4 322.7h0M500.9 321.4h0M535.1 324h0M521.8 325h0M522.1 326.3h0M547.2 325.9h0M578.5 327.9h0M553.1 330.2h0M489.2 331.2h0M502.2 331.8h0M514 331.5h0M530.2 332.1h0M598.7 333.8h0M497.3 336.7h0M538.4 337h0M493.7 340.6h0M485.6 342.2h0M482 344.8h0M498 344.2h0M526.7 342.6h0M521.4 345.8h0M527.3 346.5h0M522.1 347.1h0M482.7 348.1h0M486.3 350.4h0M616.9 347.1h0M548.8 349.1h0M509.7 351.7h0M543.3 353h0M495.1 353.3h0M519.8 354.6h0M497 356.6h0M482 358.9h0M491.1 358.9h0M492.1 360.2h0M524.1 359.2h0M533.2 358.2h0M586.3 361.1h0M507.1 363.7h0M501.2 365.7h0M504.5 365.1h0M489.8 366h0M491.1 368.3h0M538.7 367.3h0M484 369.6h0M479.4 371.6h0M527.3 370.3h0M529.3 370.3h0M488.5 374.8h0M492.1 375.5h0M497 374.5h0M517.9 376.1h0M499.3 377.8h0M492.4 378.1h0M502.5 379.7h0M505.2 381.7h0M510.4 381.3h0M516.2 379.4h0M564.5 378.7h0M483.3 383.6h0M522.7 383h0M529.9 382.6h0M507.4 385.3h0M509.1 387.9h0M491.5 386.9h0M533.8 387.5h0M549.5 385.9h0M521.1 390.5h0M483.3 392.4h0M497 393.4h0M496 398.9h0M500.3 398.3h0M513 396.3h0M482.3 399.6h0M478.8 400.2h0M520.1 399.9h0M535.5 398.3h0M546.9 399.6h0M483.6 401.9h0M504.5 402.2h0M509.7 403.5h0M513.3 404.5h0M527.3 402.5h0M543.9 404.5h0M481.7 405.5h0M498.6 403.5h0M493.4 407.1h0M486.9 409h0M496 409h0M513.6 409h0M481 410h0M499.9 413.3h0M507.1 411h0M514.9 413.9h0M522.1 412.3h0M526 412.3h0M487.6 413.3h0M507.8 414.9h0M496.7 418.2h0M499.3 417.2h0M627.4 401.2h0M607.8 418.8h0" fill="none" stroke="#ff0000" stroke-width="5.4" stroke-linecap="round"/>
<rect x="112.8" y="48.6" width="610.9" height="464.7" fill="none" stroke="#6c6c6c" stroke-width="1.4"/>
<path d="M112.8 513.3v4.9M265.6 513.3v4.9M418.3 513.3v4.9M571 513.3v4.9M723.8 513.3v4.9M112.8 492.4h-4.9M112.8 380.7h-4.9M112.8 268.9h-4.9M112.8 157.2h-4.9" stroke="#1a1a1a" stroke-width="1.4" fill="none"/>
<g font-weight="bold" font-size="19" fill="#000">
<text transform="translate(112.8 535.3) scale(1 1.02)" text-anchor="middle">-5.0</text>
<text transform="translate(265.6 535.3) scale(1 1.02)" text-anchor="middle">-2.5</text>
<text transform="translate(418.3 535.3) scale(1 1.02)" text-anchor="middle">0.0</text>
<text transform="translate(571 535.3) scale(1 1.02)" text-anchor="middle">2.5</text>
<text transform="translate(723.8 535.3) scale(1 1.02)" text-anchor="middle">5.0</text>
<text transform="translate(104.2 499.1) scale(1 1.02)" text-anchor="end">0</text>
<text transform="translate(104.2 387.4) scale(1 1.02)" text-anchor="end">2</text>
<text transform="translate(104.2 275.7) scale(1 1.02)" text-anchor="end">4</text>
<text transform="translate(104.2 163.9) scale(1 1.02)" text-anchor="end">6</text>
</g>
<text x="418.3" y="560.5" text-anchor="middle" font-weight="bold" font-size="24">log2 (fold change)</text>
<text transform="translate(84.8 280.9) rotate(-90)" text-anchor="middle" font-weight="bold" font-size="24">-log10 (p-value)</text>
</g>
<g id="plotB">
<path d="M1139.45 519.4V48.6" stroke="#b9b9b9" stroke-width="1.13" fill="none" stroke-dasharray="1.13 3.39 4.52 3.39"/>
<path d="M1209.05 519.4V48.6" stroke="#b9b9b9" stroke-width="1.13" fill="none" stroke-dasharray="1.13 3.39 4.52 3.39"/>
<path d="M865.3 426.10H1483.5" stroke="#b9b9b9" stroke-width="1.13" fill="none" stroke-dasharray="1.13 3.39 4.52 3.39" stroke-dashoffset="0.6"/>
<path d="M1168 445.2h0M1163.3 457.2h0M1162.6 342.4h0M1164 336.1h0M1148 404.7h0M1150.3 240.3h0M1163.6 418.6h0M1163.8 404.6h0M1143.5 335.4h0M1152.9 288.7h0M1162.9 397.2h0M1158.9 434.1h0M1163.5 470.5h0M1151.9 298.9h0M1173.6 473h0M1141.3 280.7h0M1168.9 484.7h0M1153.1 408.4h0M1142.3 398.5h0M1158.7 298.3h0M1150.8 434.5h0M1160 305.3h0M1167.5 397.1h0M1156.3 445.8h0M1150.2 317h0M1157.8 431.6h0M1158.9 423h0M1158.6 423.7h0M1154.4 450.9h0M1169.9 471.3h0M1164.5 355h0M1154.9 351.2h0M1141 262.1h0M1154.6 418.8h0M1149 279h0M1144.5 255.7h0M1153.4 232.2h0M1147.1 264.4h0M1163.7 434.7h0M1153.8 430.5h0M1158.8 340.7h0M1172.6 465.6h0M1156.9 374.7h0M1151.4 225.1h0M1147.5 365.9h0M1143.1 401.8h0M1153.5 218.5h0M1167.2 412h0M1161.2 434.5h0M1150.9 441.3h0M1145.3 395.4h0M1157.1 248.6h0M1161.3 431.4h0M1164.2 459.6h0M1141.1 388.7h0M1155 359.5h0M1158.8 314.4h0M1159.8 249.4h0M1161.2 415.5h0M1147.9 429.1h0M1146.4 295.7h0M1156.4 416.3h0M1159.7 245.3h0M1166.1 380.3h0M1172 473.9h0M1157.8 356.5h0M1170.7 469.7h0M1162.7 478.3h0M1148.3 288.6h0M1145.3 318.5h0M1154.9 433.8h0M1159.6 357h0M1148.2 397.4h0M1152.1 315.9h0M1145.4 421.6h0M1144.1 406.3h0M1155.1 323.5h0M1143.8 407.5h0M1159.6 259.9h0M1143.3 363.7h0M1156.4 305.8h0M1170.8 491.7h0M1151.9 414.4h0M1157.4 354.6h0M1157.1 421.4h0M1145.5 286.1h0M1141.4 339h0M1146 275.9h0M1160.1 293.1h0M1143.1 378.6h0M1154 446h0M1158.7 398.3h0M1156.4 449.9h0M1153.4 433.6h0M1147.1 316.8h0M1159.1 452.1h0M1160.4 376.2h0M1161.3 457.4h0M1156.3 241.5h0M1160.8 384.8h0M1162.4 388.1h0M1154.2 379.5h0M1165.2 388.6h0M1147 325.6h0M1161.8 427.1h0M1156.4 444.7h0M1155.4 324h0M1168.1 458.7h0M1162.2 450h0M1155.7 381.9h0M1144.2 402.2h0M1153.1 440.5h0M1142.6 361.7h0M1170.7 455.1h0M1150.8 450.2h0M1144.5 395.7h0M1152.1 439.1h0M1140.9 278.8h0M1154.7 383h0M1159.8 317.8h0M1147.3 227.3h0M1160.6 317.3h0M1140.8 412.9h0M1152.2 414.7h0M1169.9 471.6h0M1150.2 275.3h0M1146.7 340.9h0M1148 351.9h0M1143.6 208.9h0M1153.8 340.5h0M1157.6 344.5h0M1154.9 334.8h0M1147.5 261h0M1146.8 246.5h0M1146.9 333.8h0M1154.8 419.9h0M1151.5 312.9h0M1144.7 413.4h0M1157.4 288.2h0M1166.1 446.2h0M1151.4 367.1h0M1167.7 440.8h0M1147 415.5h0M1159.6 454.8h0M1156.8 423h0M1152.8 295.3h0M1154.7 335.5h0M1142.4 336.3h0M1162.4 365.1h0M1165 358.9h0M1158.1 215.7h0M1146.6 420.6h0M1154.5 405.6h0M1148.3 445.2h0M1154.9 375.8h0M1162.1 338.5h0M1147.6 379.4h0M1145.1 364.8h0M1157.5 370.6h0M1166.8 484.7h0M1160.3 440.5h0M1144 397.8h0M1157.1 254.4h0M1159.3 347.8h0M1142.8 290.8h0M1172.1 450.2h0M1156.8 393.3h0M1143 234.8h0M1150.9 325.4h0M1158.1 378.9h0M1161.3 341.7h0M1145.6 418.5h0M1162.3 336h0M1155.4 219.1h0M1161.6 298.1h0M1154.4 208.4h0M1159.7 292.9h0M1156.2 399.6h0M1159.5 437h0M1151.1 434.7h0M1161.2 320.1h0M1161.5 293h0M1161.3 362h0M1168.1 456.7h0M1162.5 416.5h0M1169.8 477.5h0M1152.8 223.2h0M1146.4 434.9h0M1155.9 467.6h0M1162.3 437.7h0M1147.7 427.6h0M1156.5 354.8h0M1159.2 445.9h0M1147 387.4h0M1150.8 431h0M1167.1 466h0M1152.7 358.6h0M1164.7 422.4h0M1145.2 222.2h0M1147.5 422.5h0M1143.1 358.8h0M1152.8 346.6h0M1162.2 476.8h0M1160 441.2h0M1161.1 415.4h0M1150.2 412.3h0M1162.8 466.1h0M1152.6 299.4h0M1168.2 407.7h0M1148.6 404.2h0M1148.1 339.1h0M1149.8 299.6h0M1155.8 396h0M1159.2 370.3h0M1159.5 377.8h0M1158 435.7h0M1154.7 434.5h0M1154.9 397.9h0M1141.2 324h0M1155.2 447.2h0M1157.3 456h0M1143.2 229.4h0M1146.8 384h0M1153.1 399.7h0M1161.6 475.6h0M1149.1 371.4h0M1153.3 311.6h0M1158.6 357.2h0M1153.7 325.4h0M1154.7 455.4h0M1153.6 380.2h0M1154.2 314.4h0M1161.4 351.4h0M1162.9 363.3h0M1158 308.5h0M1155.5 432.8h0M1145.1 262.2h0M1173 469.6h0M1147.4 339.8h0M1148.7 229.5h0M1150 254.3h0M1144.9 403.9h0M1156.2 390.6h0M1162.6 430.7h0M1166.4 455.4h0M1173.5 474.9h0M1143.1 280.5h0M1146.4 310.8h0M1158.9 316.7h0M1152.1 431.4h0M1141.8 290.2h0M1160 364.7h0M1145 433.5h0M1141.3 352.2h0M1144.9 306.4h0M1153.8 357.3h0M1140.7 332.4h0M1146.8 350.2h0M1142 316.3h0M1149.8 373.4h0M1166 434.5h0M1156.8 364h0M1149.2 312.9h0M1148.4 318.6h0M1159.2 290.4h0M1143.4 299.5h0M1153.3 285.1h0M1162.8 429.2h0M1160.7 345.7h0M1159.9 315.4h0M1143.3 351.1h0M1159.9 246.2h0M1157.3 314.3h0M1154 463.1h0M1147.3 247.8h0M1154.6 445.3h0M1160.3 435.9h0M1151.9 266.4h0M1142.1 333h0M1162.8 357h0M1157.5 406.4h0M1162.1 391.1h0M1171.2 455.4h0M1154.8 394.6h0M1161 308.7h0M1155.5 457.7h0M1151.3 312.6h0M1156.9 308.5h0M1140.6 234.7h0M1144.9 412.7h0M1161.6 379.6h0M1155 290.8h0M1156.6 448.2h0M1159.2 314.8h0M1156.1 416.6h0M1159.1 419.5h0M1167.1 419.1h0M1145.7 387.7h0M1151.1 435.4h0M1163.1 367.1h0M1151.2 438.4h0M1140.9 338.7h0M1164.6 456h0M1167.9 437h0M1147.9 430.9h0M1151.8 353.8h0M1169 477.2h0M1144.1 324.1h0M1163.9 375.6h0M1161 461.9h0M1150.2 396.6h0M1166.5 429.3h0M1169.9 417h0M1162.2 475.9h0M1163 331.1h0M1167.9 475.1h0M1150.8 389.2h0M1149.1 316.1h0M1157.7 280.9h0M1144.7 322.2h0M1157.2 329.9h0M1154.8 392.8h0M1166.9 370.4h0M1146.3 359.5h0M1154.1 419.6h0M1164.1 472.7h0M1151.5 275.9h0M1149.9 438.7h0M1145.8 426.8h0M1144.2 324.5h0M1148.2 387.8h0M1164.3 395.6h0M1143 319.4h0M1153.3 454h0M1168.4 397.9h0M1157.3 349h0M1142.4 377.8h0M1168.2 424.8h0M1155.6 374.4h0M1153.1 325.6h0M1156.4 296.8h0M1151.8 401.4h0M1149.3 385.7h0M1163.9 386.6h0M1152.3 419.8h0M1161.3 450.1h0M1148.2 349.4h0M1151.3 397.4h0M1172.3 467.2h0M1172.4 471.6h0M1148.2 414.4h0M1142.9 260.2h0M1151.2 399.1h0M1152.8 344.9h0M1153 454.4h0M1147.3 326.5h0M1144.8 329.2h0M1157.6 309.2h0M1170.1 478.3h0M1170.1 456.5h0M1150.9 426.9h0M1146.7 379.7h0M1145.6 412.1h0M1157.9 303.6h0M1144.9 411.8h0M1164.1 437.5h0M1157.6 468.7h0M1164.8 364h0M1148 398.3h0M1158 206.3h0M1153.3 374h0M1147.3 415.5h0M1155.1 326.2h0M1151.8 341.8h0M1159.2 460.5h0M1146.6 351.3h0M1166 430.5h0M1162.9 315.1h0M1161.2 321h0M1166.4 373.7h0M1151.6 338.9h0M1154 374.8h0M1158.8 294.3h0M1156.1 312.2h0M1141.5 355.3h0M1146 437.5h0M1153.4 358.8h0M1153.8 381.4h0M1156.7 367.3h0M1170.5 440.5h0M1158.6 449.7h0M1156.8 453.2h0M1158.9 399.5h0M1145 390.8h0M1145.7 364.1h0M1144.1 320.5h0M1145 364.2h0M1155.7 416.4h0M1168.8 410.3h0M1148.6 410.6h0M1160.8 446.1h0M1166.1 422.3h0M1141.8 386.4h0M1146.9 378.8h0M1158 421.3h0M1151.3 395.5h0M1156.3 252.4h0M1162.4 392h0M1160.9 426.5h0M1143.6 332.3h0M1149.6 280h0M1167.7 389.9h0M1151.6 331.7h0M1167.2 393.1h0M1160.4 454.6h0M1162.7 425.8h0M1155.4 426.6h0M1151.8 330.4h0M1142.5 395.8h0M1158.4 391.9h0M1146.6 319.9h0M1160.1 395h0M1155.5 337.8h0M1148.5 323h0M1168 411.8h0M1164.3 422.1h0M1143.5 329.5h0M1143 393.9h0M1155.2 365.1h0M1141.3 369.4h0M1162.8 317h0M1159.5 350.3h0M1141 336.9h0M1153.4 324.8h0M1141.6 343.1h0M1158.6 327.7h0M1165.3 380.2h0M1159.6 374.5h0M1142.4 225.2h0M1141.5 380.5h0M1174 480h0M1152.4 272.5h0M1162.9 449.2h0M1153.4 311.9h0M1160.8 470.2h0M1146.1 366.3h0M1159.2 338.6h0M1146.5 383.6h0M1158.6 420.4h0M1166.7 484.4h0M1159 334.9h0M1151.5 311h0M1172.1 457.4h0M1161.6 358.3h0M1143.2 355h0M1158.8 380.4h0M1149 316.9h0M1142.4 376.1h0M1168.4 394.8h0M1155.1 458h0M1159.6 370.8h0M1150.9 294.1h0M1150.5 404.1h0M1162.6 336.8h0M1158.3 272.5h0M1156.7 454.9h0M1158.8 388.6h0M1148.7 418.9h0M1156.5 458.1h0M1146.6 430h0M1156.9 447.1h0M1154.5 380h0M1141.2 311.4h0M1153.9 462.7h0M1151.2 352.4h0M1172.1 461.3h0M1156.6 292.3h0M1167 430.8h0M1161.8 385.1h0M1143.4 255h0M1158.7 467.2h0M1145.9 397.3h0M1157.2 344.9h0M1149.8 308.4h0M1158.5 349.9h0M1159.4 378.3h0M1172.2 451.8h0M1167 393.9h0M1148.8 378.2h0M1159.6 461.1h0M1147 333.6h0M1142.9 298.7h0M1166 401.5h0M1149.4 243.1h0M1147.3 411.9h0M1157.5 437.3h0M1143.7 391.7h0M1158.3 238.5h0M1163.9 368.8h0M1145.3 314.1h0M1165.7 462.7h0M1168.2 453.1h0M1160.9 379.7h0M1166.6 471.8h0M1163.3 378.9h0M1141.5 359.1h0M1147 303.2h0M1151.1 381.8h0M1153.7 347.4h0M1155.2 288h0M1166.8 405.4h0M1144 305h0M1149.5 346.4h0M1170.1 420.5h0M1152.1 410.1h0M1140.5 222.7h0M1145 323.8h0M1155.9 334.5h0M1171.3 455.6h0M1170.3 477.2h0M1168.3 387.6h0M1165.9 436.7h0M1162.5 451.1h0M1149.5 255.9h0M1151.9 389.9h0M1161.4 318.5h0M1168.3 393.3h0M1158.3 352.4h0M1161.3 328.9h0M1154.5 425.3h0M1149.2 264.2h0M1172.1 461h0M1144.6 324.3h0M1160.9 462.2h0M1165.9 442.2h0M1163.4 432.6h0M1159.4 457.6h0M1159.4 470.2h0M1148.7 373.1h0M1158.8 462.9h0M1152.4 419.1h0M1161 319.3h0M1169.7 454.9h0M1170.5 441.9h0M1152.2 286h0M1159.7 262.1h0M1147.9 372.5h0M1149.5 291.9h0M1148.2 432.4h0M1153.9 435.2h0M1157.5 423h0M1153.6 311.4h0M1152.3 345h0M1166.3 397.8h0M1157.8 333h0M1160.4 364.6h0M1147.1 358.4h0M1159.4 407.9h0M1158.6 335.8h0M1159.9 406.4h0M1163.2 372.1h0M1152.3 318.2h0M1149.9 235.8h0M1163.7 337.8h0M1164.9 439.1h0M1169.3 422.6h0M1160.2 437.4h0M1166 393h0M1155.8 400.8h0M1154.1 350.1h0M1152.8 318.9h0M1147.9 383.9h0M1168.6 428.6h0M1156.6 252.9h0M1143.8 388h0M1142.1 410.4h0M1163.4 329.7h0M1158.9 443.8h0M1157 322h0M1163.3 451h0M1167.9 443.6h0M1143.6 308.9h0M1166 481.9h0M1153.1 419.9h0M1163.3 399.2h0M1153.5 309h0M1155.6 396.9h0M1146.8 399.9h0M1157.6 470.2h0M1165.2 455.2h0M1148 367.7h0M1150.3 444.8h0M1151.5 401.5h0M1171.5 457.2h0M1171.2 469.7h0M1149.5 368.5h0M1166 393.8h0M1165.2 399.2h0M1147.2 432.2h0M1170 432.4h0M1141.5 226.7h0M1169.3 465.4h0M1169.4 427.3h0M1151.1 437.1h0M1157.4 383.8h0M1155.1 358.8h0M1146.1 241.7h0M1166 402.8h0M1142.2 359.3h0M1148.9 438.8h0M1143.9 285.3h0M1160.2 342.8h0M1141.4 405.7h0M1152.8 298.9h0M1142.4 346.5h0M1147.6 243h0M1167.1 399.7h0M1155.9 308.5h0M1167.2 380.6h0M1163.1 439h0M1164.7 366.8h0M1157.1 276.9h0M1159.5 360.2h0M1165.1 385.8h0M1153.4 392.5h0M1157.3 446.9h0M1148.7 383.8h0M1143.5 358.5h0M1146.2 411.1h0M1155.6 288.4h0M1164.6 450.9h0M1170.9 441.5h0M1150.5 415.7h0M1157.4 297.8h0M1143.9 409.4h0M1167.1 475.8h0M1155.2 408.8h0M1161.3 316.1h0M1147.7 422.3h0M1158.2 265.2h0M1159.1 361.3h0M1144.3 388.9h0M1145.4 389.6h0M1160.8 469.2h0M1160.4 272.8h0M1157.2 243.7h0M1143.6 345.3h0M1161.7 465.9h0M1143.5 378.7h0M1169.4 461.3h0M1174.2 491h0M1153.3 388.8h0M1151.3 372.7h0M1167.1 385.8h0M1144.6 314.2h0M1157.7 433.5h0M1140.9 390.3h0M1163.8 337.8h0M1148.5 407.2h0M1159.5 289h0M1147.6 293.9h0M1162.5 335.5h0M1165.7 475.8h0M1160.6 401.7h0M1148 415.9h0M1160.4 358.2h0M1161.5 418h0M1147.9 372.9h0M1144.3 388h0M1142.2 372.7h0M1156.4 416.5h0M1166.2 440.9h0M1142.5 361.4h0M1147.3 430.2h0M1143.9 269.9h0M1148.1 354.1h0M1164.2 419.4h0M1153.6 355.6h0M1145.2 276.9h0M1171 464.8h0M1154.3 413.3h0M1152.7 446.5h0M1143.3 385.4h0M1163.5 408h0M1152.6 288.8h0M1153.8 406.8h0M1140.6 295.7h0M1161.5 366h0M1151.9 286.7h0M1144.2 393.4h0M1149.3 286h0M1155.7 347.1h0M1151 331.7h0M1164.7 480.4h0M1142.3 351.4h0M1165.2 376.9h0M1141.7 287.4h0M1155.5 366.5h0M1162.2 344.3h0M1158.4 263.8h0M1169.1 429.9h0M1149.8 409.8h0M1148.2 359.1h0M1148.2 439.4h0M1159.4 435.7h0M1156.9 375.8h0M1166 451.3h0M1152.5 354.9h0M1167.3 428.5h0M1169.5 444.6h0M1164.3 427.6h0M1154.8 467.1h0M1158.7 301.7h0M1152.8 422.8h0M1150.6 337.5h0M1142.8 415.7h0M1150.1 401.5h0M1168.5 393.4h0M1141.7 327.2h0M1140.6 343.8h0M1159.2 378.3h0M1163.5 431.4h0M1155 432.2h0M1169.3 441h0M1147 386.1h0M1158.8 376.1h0M1150.9 372.4h0M1147.7 338.1h0M1160.4 378.5h0M1151.5 421.6h0M1153 433.3h0M1142.5 314.8h0M1141.7 272.6h0M1144.4 411h0M1170.8 449.9h0M1143.8 348.4h0M1152.7 355.3h0M1162 370h0M1161.7 322.3h0M1173.1 470.7h0M1141.4 339.4h0M1168.1 439.4h0M1146.4 366.3h0M1150.7 331.4h0M1161.2 333.8h0M1164.7 414.5h0M1155.4 372.8h0M1169.4 468h0M1149.2 410h0M1147.5 408.8h0M1164.5 448.2h0M1149.2 335.4h0M1153.9 389.7h0M1151 227.4h0M1169.2 487.6h0M1168 426h0M1145.9 357.1h0M1147.1 318.8h0M1140.6 302.3h0M1159.1 447.4h0M1156 443h0M1143.6 396.7h0M1152.1 241.6h0M1143.2 388.2h0M1144 298.4h0M1150.8 274.2h0M1160.2 475.1h0M1144.6 334.6h0M1165.7 421.8h0M1163.6 473.3h0M1156.1 369.7h0M1141.4 358.5h0M1158 396.3h0M1165.3 355.7h0M1150.8 313.1h0M1159.9 455h0M1156.9 399.3h0M1154.9 401.3h0M1150.3 442.7h0M1148.9 388.2h0M1143.8 202.4h0M1149.4 449.4h0M1153.7 335h0M1145.5 372.6h0M1150.4 451.9h0M1160.4 336.6h0M1162.7 334.4h0M1156.7 370.2h0M1164 391.8h0M1144.5 303.6h0M1147.2 344.7h0M1169 431.5h0M1142.7 354.7h0M1167.6 456.1h0M1162.9 388.3h0M1155.2 327.3h0M1170.4 420.3h0M1164.9 380h0M1158.7 445.4h0M1152.7 390.2h0M1140.7 385.1h0M1152 399h0M1172.7 485.6h0M1153.9 306.3h0M1162.5 368.4h0M1172.5 475.4h0M1149.6 388.1h0M1152.1 421.1h0M1158.7 321.9h0M1150.1 358.7h0M1141.9 220h0M1160.5 393.8h0M1167 468.9h0M1198.1 335.5h0M1179.2 445.3h0M1196.5 413.5h0M1194.4 292.1h0M1204.2 282.8h0M1201.9 351.5h0M1191.4 470.8h0M1197.9 404.3h0M1204.5 286h0M1189.6 254.2h0M1186.2 439.6h0M1179.3 418.6h0M1184.7 476h0M1189.4 264.5h0M1186.8 307.3h0M1208 367.6h0M1198.1 400.8h0M1204.2 298.5h0M1182.3 420.6h0M1204 298.9h0M1187.3 446h0M1187.4 462.4h0M1182.1 425.6h0M1194.5 415.6h0M1205.6 324.7h0M1186.5 337.5h0M1193 368.1h0M1187.5 472.7h0M1189.7 328.5h0M1199.6 399.6h0M1194.6 412.8h0M1205.4 424.7h0M1195.6 322.7h0M1188.6 420.4h0M1199.3 387.7h0M1198.6 355.2h0M1193.5 361.3h0M1202.5 345.1h0M1180.5 462.6h0M1194.7 384.8h0M1201.7 431.6h0M1196.8 458.2h0M1199.7 345.3h0M1197.7 450.3h0M1189.2 443.2h0M1207.2 334.1h0M1184 392h0M1197.4 344.9h0M1185 351.3h0M1190.1 441.1h0M1176.6 453.3h0M1180.3 461.9h0M1184.2 431.7h0M1188.7 370.4h0M1182.6 422.9h0M1188.4 409.2h0M1206.5 382.8h0M1187.2 383.5h0M1201.1 335.8h0M1179.6 488.7h0M1193.3 393.4h0M1183.4 396.9h0M1192.6 443.6h0M1180.7 474.5h0M1188.3 345.2h0M1196.7 442.8h0M1194.1 404.9h0M1189.9 436.4h0M1189.7 394.3h0M1190.8 357.5h0M1189.1 285.2h0M1180.4 425.1h0M1203.3 298.1h0M1207.7 399.6h0M1188 411h0M1184.5 456.7h0M1184 453.3h0M1197.3 422.1h0M1204.4 316.7h0M1199.6 335h0M1197.2 418.8h0M1185.4 412h0M1196.6 257.4h0M1192.7 316.4h0M1205.7 322.2h0M1192.4 370.7h0M1200.4 406.9h0M1204.8 298.9h0M1184.5 349.9h0M1198.1 438h0M1188.1 438.3h0M1204.4 314.6h0M1181.5 413h0M1189.2 336.5h0M1205.3 387.1h0M1177.4 456.7h0M1175.3 487.9h0M1192.1 388h0M1190.6 328.4h0M1182.4 455.7h0M1205.3 304.7h0M1192.4 440.7h0M1198.1 289.8h0M1192.9 303.3h0M1203.4 411.5h0M1192.4 384.6h0M1204.7 348.6h0M1194.5 348.3h0M1194.8 326.2h0M1190.3 337.7h0M1195.4 397h0M1182.7 448.5h0M1202 286.1h0M1182.6 379.4h0M1199.6 215.4h0M1182.2 392.3h0M1205.2 274.2h0M1203.6 429.7h0M1185.1 453.9h0M1185.4 371.4h0M1206.5 382.1h0M1183.7 370.2h0M1203.7 370.1h0M1178.1 423.4h0M1191.7 380.8h0M1203.9 317.1h0M1178.4 457.1h0M1186.7 377.3h0M1191.1 442.4h0M1189.9 303.8h0M1190.9 344.2h0M1189.7 449.6h0M1192.2 425.2h0M1196.4 369h0M1200.3 403.4h0M1192.6 365.2h0M1200.9 343.8h0M1207.4 321.6h0M1205.6 360.2h0M1191.9 332.3h0M1182.6 406.1h0M1190.4 310.8h0M1196.3 367.1h0M1192.6 367.1h0M1199.1 357.4h0M1198.5 297.3h0M1189.4 403.9h0M1196.5 369.1h0M1194.9 342.5h0M1198.5 335.1h0M1186.4 447.1h0M1190.9 297.4h0M1198.4 405.3h0M1206 399.5h0M1192.8 425.7h0M1195.9 327h0M1204.1 253h0M1196.2 434.7h0M1190.2 304.5h0M1204.3 230.2h0M1191.4 395h0M1201.4 261.1h0M1192.3 331.6h0M1184.6 346.7h0M1197.8 291.1h0M1201.6 258.3h0M1184.6 470h0M1200.6 376h0M1184.8 384.9h0M1182.7 448.7h0M1200.8 318.9h0M1198.2 351.5h0M1193.7 320.5h0M1183.9 429.9h0M1195.1 404.5h0M1196.6 249.4h0M1187.2 455.2h0M1195.5 314.2h0M1181.7 370.9h0M1178.4 470.1h0M1174.6 493.3h0M1184 386h0M1203.4 377.9h0M1182.1 476.9h0M1183.1 425.3h0M1196.3 335.9h0M1201 359.3h0M1206.3 350.8h0M1204.9 414.4h0M1207.7 362.9h0M1180.9 386.8h0M1197.5 361.1h0M1187.1 432.7h0M1205.6 353.1h0M1174.3 484.9h0M1191.7 391.1h0M1196.6 354.8h0M1194.2 274h0M1175.1 475h0M1189.7 402.8h0M1184.8 368.5h0M1194.2 397h0M1202.3 307.5h0M1199.2 347.2h0M1191.9 393.8h0M1192.2 355.9h0M1179.7 445.1h0M1193.6 467h0M1187.7 468.9h0M1193.3 320.2h0M1197.5 447.3h0M1189.3 312.1h0M1181.9 397.2h0M1182 408.3h0M1190.9 362h0M1185.1 420.3h0M1194.5 363h0M1178.5 438.1h0M1186.2 479.2h0M1195.9 377.7h0M1201 407.4h0M1199.2 317.7h0M1195.3 318.7h0M1185 471.6h0M1189.7 448.8h0M1203.1 362.5h0M1184.5 413.2h0M1198.5 423.6h0M1191.2 463.1h0M1182.5 373.3h0M1194.7 431.2h0M1180.2 434.4h0M1176.8 471.1h0M1204.5 377.4h0M1195.9 338.2h0M1188.3 328.6h0M1196.7 423h0M1184.1 474.6h0M1203.4 224.3h0M1190.6 422.7h0M1204.5 344.1h0M1202.3 328.1h0M1206 206.5h0M1188.9 429h0M1188.3 467.5h0M1196.1 306.4h0M1200.5 303.5h0M1196.7 286.2h0M1188.8 396.7h0M1183.4 361.3h0M1202.8 351.7h0M1203.2 359.3h0M1187.9 435.4h0M1185.9 373.6h0M1182.5 468.8h0M1203.1 364.7h0M1200.5 401h0M1205.1 383.8h0M1202 250.2h0M1197.9 379.2h0M1196.9 370.9h0M1205.9 360.1h0M1197.8 377.3h0M1188.4 468h0M1185.9 452.4h0M1190.8 349.8h0M1199.5 264.4h0M1189.8 344.5h0M1176.4 493.7h0M1199.4 276.8h0M1200.6 398h0M1192.5 334.1h0M1175.4 478.5h0M1187.2 335.4h0M1181.4 383.9h0M1195.4 463.6h0M1181.3 381.9h0M1190.5 376.5h0M1197.1 427.2h0M1193.1 304.5h0M1192.2 425.4h0M1189.6 444.9h0M1190.3 395.1h0M1200.2 392.7h0M1184.8 429h0M1195.5 403.5h0M1191.6 363.3h0M1205.4 370.2h0M1183.5 431.9h0M1193.9 442.8h0M1198.9 265.9h0M1195.9 343.8h0M1193.9 382.7h0M1193.8 350.9h0M1186.8 383.5h0M1190 356.4h0M1190.4 333.6h0M1193.2 224.6h0M1184.3 341.3h0M1178.5 453h0M1187.8 350.6h0M1185.7 426.6h0M1206.3 309.1h0M1187.1 436.9h0M1182.4 480.9h0M1205.2 406.2h0M1191.9 378.4h0M1194.2 280.6h0M1193.4 335.6h0M1203.2 263.7h0M1207 233.4h0M1190.5 321h0M1190 373.7h0M1180.4 398.5h0M1184.4 342.3h0M1195.5 409.9h0M1194.6 427.7h0M1193.4 345.9h0M1195 408h0M1204.6 303.6h0M1200 279.2h0M1197 385.6h0M1189.2 245.5h0M1190.6 273.9h0M1197.6 358.1h0M1192.9 410.5h0M1188.9 291.1h0M1198.2 436.6h0M1199.6 383.7h0M1200.6 408.7h0M1184.1 358.9h0M1202 417h0M1189.1 425.8h0M1192.6 280.8h0M1204.3 394.1h0M1201.7 362.8h0M1193.4 413.9h0M1199.7 377.8h0M1201.3 330h0M1189.8 297.6h0M1190.9 390.8h0M1178.4 425.3h0M1187.2 435.4h0M1202.6 326.5h0M1206.6 264.9h0M1192.1 464.6h0M1191 314.2h0M1197.9 378h0M1186.9 405.7h0M1204.5 378.2h0M1182.2 368h0M1175.1 484.4h0M1207.7 396.4h0M1184.5 354.1h0M1184.5 394.3h0M1179.3 483.8h0M1195.1 407.8h0M1193.3 382.8h0M1192.4 466.3h0M1205.5 272.8h0M1188.2 364.8h0M1184.7 440h0M1207.2 392.8h0M1195.8 450.5h0M1199.1 365.4h0M1205.9 305.8h0M1196.3 380.8h0M1206.8 346.5h0M1198.2 299.4h0M1197.2 301.6h0M1193.6 395.8h0M1194.6 367.7h0M1183.1 365.9h0M1195.5 336.1h0M1179.9 436.5h0M1194.8 369.3h0M1180 468.4h0M1190.5 272.4h0M1190 342.1h0M1188.5 411.5h0M1205.5 381.8h0M1187.2 367.1h0M1180.5 386h0M1187.6 282.2h0M1197.7 422.2h0M1181.3 476.4h0M1190.8 409.8h0M1207 393.6h0M1190.8 421.5h0M1203.7 421.7h0M1188.7 420.5h0M1189.9 416h0M1183.9 368.5h0M1183 442.6h0M1190.7 362.7h0M1188 404.6h0M1177 455.1h0M1190 351.5h0M1200.8 280.7h0M1203 274h0M1200.6 384.7h0M1201.4 437.3h0M1200.3 305.5h0M1178 455.9h0M1207.6 310.5h0M1205.4 337.3h0M1203.1 245.8h0M1192.7 400.6h0M1184.6 420.4h0M1195.7 456.1h0M1206 344h0M1197.2 413.3h0M1193.2 348.4h0M1200.6 337.5h0M1201.8 275.5h0M1182.5 392.9h0M1187.8 390.7h0M1207.1 361.1h0M1186 432.6h0M1195 428h0M1183 484.5h0M1175.2 491.3h0M1188.1 418.1h0M1188.6 366h0M1187.9 387.3h0M1196.8 273.8h0M1199.2 213.6h0M1195.5 312h0M1184.6 387.8h0M1188.6 383.5h0M1184.6 434.2h0M1199.1 278h0M1207.7 382.6h0M1203.1 317.5h0M1186.8 455.8h0M1193.1 311.5h0M1192 343.8h0M1207.5 402.2h0M1174.9 492.1h0M1204.4 320h0M1179.9 403.2h0M1196.1 318.3h0M1185.7 384.7h0M1206.6 418.7h0M1206.9 304.6h0M1196.2 304.9h0M1204.7 425.9h0M1178 470h0M1181.9 410.5h0M1197.5 333.1h0M1198.9 337.9h0M1206.7 315.3h0M1186 447.8h0M1200 309.4h0M1184.2 387.2h0M1179.6 480h0M1188.8 270.3h0M1186 360.5h0M1195.7 438.8h0M1189.2 407.8h0M1192 421.7h0M1195.5 413.7h0M1202.2 242.5h0M1183.5 417.8h0M1201 418.6h0M1183.6 461.4h0M1186.6 410.7h0M1183.8 472.7h0M1201.3 378.8h0M1186 442.1h0M1199.8 371.7h0M1188.5 387.3h0M1195.9 291.7h0M1204.2 332h0M1201.5 366.2h0M1206.8 378h0M1205.8 411.9h0M1204.7 355.8h0M1203.5 346.7h0M1183.4 362h0M1202.7 329.2h0M1189.1 430.5h0M1191.7 309.2h0M1207.8 408.7h0M1174.7 490h0M1196.1 347.3h0M1185 395.8h0M1207.8 347.3h0M1186.1 357.7h0M1188.6 319h0M1196.4 416.7h0M1185.7 464.3h0M1177.2 454.6h0M1191.1 267.7h0M1188.3 314.7h0M1180.4 461.4h0M1188.1 465.1h0M1199.3 358h0M1202.7 390.7h0M1191.3 339.5h0M1206.4 344.5h0M1181.7 468.4h0M1187.1 334.2h0M1192.6 254.2h0M1185.5 340.9h0M1191.8 387.7h0M1185.1 411.6h0M1199.4 418.3h0M1199 386.8h0M1182.9 463.1h0M1194.8 356.2h0M1192.7 410.3h0M1192.6 351.6h0M1194.5 428.1h0M1190.1 320.7h0M1182.3 380.1h0M1196.3 387.6h0M1181.6 426.2h0M1205.5 237.5h0M1192.9 227.7h0M1191.7 353.2h0M1184.5 359h0M1186.7 464.3h0M1206.5 416.1h0M1190.2 235.6h0M1196 339.1h0M1200.8 388.2h0M1176.5 468.4h0M1182 470.7h0M1181.2 387.2h0M1197 285.5h0M1199.4 258.4h0M1186.6 416.8h0M1197.6 343.4h0M1203 431.4h0M1182.3 480.3h0M1193.1 317h0M1178.2 439.6h0M1191.9 416.3h0M1195.4 340.3h0M1194 362.1h0M1192.7 380.1h0M1184 362.6h0M1202.2 372.7h0M1200.1 336.1h0M1193.8 255.4h0M1180 429h0M1188.7 416.3h0M1184.3 450.5h0M1200.7 301.9h0M1196.1 376.1h0M1196.5 225.3h0M1183.4 364.5h0M1195.7 226h0M1192.7 401h0M1201.7 438.4h0M1198.7 271.3h0M1187.1 364.6h0M1188.2 380.6h0M1203.7 310.3h0M1190 464.2h0M1191.1 338.1h0M1206.9 225.3h0M1188.3 308.5h0M1181.8 480.6h0M1192.1 356.7h0M1177.3 434.3h0M1184.3 451.5h0M1185.2 437h0M1188.7 390.4h0M1200 310.7h0M1180.6 408.4h0M1206.2 368.2h0M1202.6 390h0M1201 316.9h0M1195.6 390.3h0M1201.8 359.3h0M1205.5 301.2h0M1182 439.8h0M1191.1 351.6h0M1185.9 468.7h0M1193.9 399.6h0M1203.7 346.3h0M1201.4 428.2h0M1187.5 331.9h0M1199.3 418.4h0M1198.5 384.4h0M1199.5 437.5h0M1187.6 316.2h0M1177.7 427.8h0M1182.6 429.6h0M1206 393.7h0M1186.2 354.4h0M1202.6 365.1h0M1200.3 435.5h0M1188.1 387.1h0M1192 404h0M1194.6 304.5h0M1199 428h0M1201.3 342.7h0M1194.1 352.3h0M1192.7 418.1h0M1196.3 342.5h0M1194.5 378.6h0M1190.3 328h0M1197.4 365.5h0M1184 420.7h0M1189.9 288.1h0M1197.9 266.5h0M1204.2 337h0M1192.7 418h0M1207.9 265.5h0M1186 478.6h0M1192.5 281.5h0M1181.2 476.4h0M1188.4 348.1h0M1201 323.2h0M1205 420.2h0M1175.2 477.3h0M1204.9 402.7h0M1203.3 432.3h0M1200.3 384.5h0M1205.4 388h0M1184.5 340.5h0M1190.6 219.1h0M1177.4 460.7h0M1192.8 461.7h0M1187.8 362.4h0M1190.9 417.1h0M1201.5 231.2h0M1182.3 410.2h0M1199.8 409.9h0M1201 305.4h0M1196.4 458h0M1178.2 472h0M1193.9 325.9h0M1174.7 478.9h0M1184.7 452.1h0M1183 474h0M1185 476.6h0M1193.9 455.8h0M1198 230.7h0M1206.6 398.6h0M1189.3 348.1h0M1200.6 274.6h0M1199.7 401.6h0M1192.8 358.7h0M1183.6 356.9h0M1203.6 292.1h0M1192.2 400.7h0M1197.7 256.1h0M1180.5 423.8h0M1175.3 487.6h0M1193 447h0M1191.1 269.6h0M1205.2 393h0M1190.5 405h0M1204.4 356.7h0M1195.1 324.1h0M1194.6 275.4h0M1198.8 437.2h0M1185.9 443.3h0M1196.6 287.7h0M1187.5 389h0M1206.1 408.6h0M1200.2 444.5h0M1200.4 407.5h0M1196.3 257.1h0M1188.6 276.5h0M1189.6 391h0M1203.9 365.5h0M1195 376h0M1189.6 418.2h0M1203.6 365.7h0M1202.7 349h0M1203.4 314.4h0M1191.4 467.4h0M1193.8 345.8h0M1174.4 478.4h0M1188.3 332.1h0M1188 333.6h0M1200.9 297.8h0M1193.2 295.2h0M1178.4 461h0M1194.3 376.8h0M1177.7 429.4h0M1196.5 363.4h0M1190.4 416.4h0M1198.5 430.4h0M1201.1 323.5h0M1204.9 402.9h0M1196.2 404.7h0M1200.2 336.1h0M1205.1 236.6h0M1190.7 347.7h0M1200.6 242.1h0M1192.4 442.2h0M1199.7 369.2h0M1198 444.2h0M1196.4 311.2h0M1185.4 429.9h0M1179.4 472.4h0M1181.4 419.2h0M1203.2 350.9h0M1203.8 313.2h0M1184.1 388.2h0M1200.2 370.2h0M1199.5 429.7h0M1204.1 390.3h0M1204.1 350.2h0M1193.7 369.7h0M1198.4 415.3h0M1200.3 398h0M1192.3 270.4h0M1180.2 442.7h0M1187.4 353.9h0M1204.9 334.3h0M1201.4 374.2h0M1199.8 337.4h0M1194.8 363.8h0M1206 378h0M1178.8 461h0M1187.2 428.8h0M1197.1 233.8h0M1188.3 383.1h0M1180.9 447.8h0M1191.4 434.8h0M1192.8 387.1h0M1184.3 367.8h0M1196.4 457h0M1184.5 435.1h0M1204.4 261.9h0M1200.2 307.9h0M1195.8 413.5h0M1182.4 450.7h0M1206.5 327h0M1205.5 363.3h0M1199.9 336.7h0M1190.8 411.4h0M1191.3 241.3h0M1184.1 445.6h0M1205.7 221.9h0M1198.9 344.3h0M1183.9 454.2h0M1199.6 332.1h0M1195.5 419.3h0M1191.5 258.5h0M1186.6 357.1h0M1191.6 329.5h0M1188.4 372.5h0M1188.2 368.4h0M1203 293h0M1199.5 304.1h0M1199.4 442.7h0M1203.4 370.6h0M1183.4 476.3h0M1182.6 379.9h0M1188.8 281h0M1190.9 390.8h0M1199.3 393.8h0M1183.2 445.2h0M1201.2 336.5h0M1192.9 418.5h0M1193.1 384.1h0M1185.2 368.4h0M1188.7 391.5h0M1204.8 353.1h0M1203 362.1h0M1200.2 406.3h0M1188.6 439.1h0M1201.3 331.5h0M1192.3 392.9h0M1182.2 444.5h0M1188.6 326.4h0M1199.3 428.8h0M1175.8 480.5h0M1199.3 375.3h0M1198.1 375.1h0M1195.3 437.7h0M1182.5 408.9h0M1184.8 472.3h0M1181.2 465h0M1204 359.3h0M1188 304.3h0M1207.5 391.8h0M1179.9 489.9h0M1180.4 487.1h0M1172 489.2h0M1173.9 495.6h0M1174.3 496.6h0M1183 484.6h0M1171 493.7h0M1171.8 492.3h0M1180.7 489.2h0M1177 488.9h0M1175.9 494.9h0M1171.9 494.7h0M1174.6 497h0M1164.6 466.7h0M1186.6 479.4h0M1174.8 496h0M1171.9 493.2h0M1174.6 491.2h0M1177 492.2h0M1174.8 497h0M1176.3 494.6h0M1169.3 485.5h0M1173.1 495.9h0M1174.3 497.7h0M1174.8 497.1h0M1168.9 480h0M1175.5 495.5h0M1174.3 497.3h0M1173 496.2h0M1177.2 493.8h0M1179.3 486.4h0M1173 495h0M1173.6 491h0M1175.4 495.1h0M1178.6 488.4h0M1174.8 495.1h0M1171.9 477.6h0M1176 492.8h0M1171.1 491.2h0M1177.5 491.5h0M1173.9 491.2h0M1174.7 491.4h0M1174.2 493.7h0M1173.7 496.6h0M1174.2 497.8h0M1174.2 496.9h0M1168.2 487.6h0M1188 474.2h0M1174.3 497.8h0M1171.6 491.7h0M1182.7 483.9h0M1175.6 492.8h0M1174.4 497.3h0M1160 473.4h0M1174.4 496.4h0M1171.7 485.9h0M1174.3 497.6h0M1174 497.3h0M1164.5 482.5h0M1174 497h0M1175 495.7h0M1173.8 497.1h0M1172.6 495.1h0M1169.2 490.5h0M1175.6 494.5h0M1175.6 493.9h0M1174.2 496.5h0M1173.5 496.9h0M1175.2 493.7h0M1176.3 495.3h0M1175.8 492.1h0M1174.4 495h0M1172.9 495.7h0M1173.9 481.2h0M1172.6 489h0M1173.1 494.8h0M1175.9 489.9h0M1182.9 485h0M1004.3 430.3h0M1035.1 444h0M1386.2 433.7h0M1190.5 89.5h0M1167.4 144h0M1146.2 176.5h0M1165.1 192.5h0M1188.9 197.4h0M1207.5 206.2h0M1084.3 428.4h0M1086.9 442.6h0M1077.5 464.2h0M1126.4 435.1h0M1130.8 442.2h0M1131.3 452h0M1126 470.9h0M1141.9 419.4h0M1142.3 423.5h0M1146.7 426.7h0M1141.9 443h0M1145.1 434.9h0M1147.6 436.5h0M1149.2 458.5h0M1152 477.4h0M1159.5 483.3h0M1162.7 493.2h0M1206.2 418.4h0M1216.8 426.7h0M1211.1 432.5h0M1210.3 440.6h0M1213.6 439.8h0M1222.5 439h0M1223.8 445.2h0M1210.3 447.9h0M1213.2 450.4h0M1227.4 430.8h0M1228.2 429.2h0M1254.8 438.6h0M1252.7 439.8h0M1251.9 445.5h0M1248.9 447.4h0M1236.9 455.1h0M1273.1 428.2h0M1287.4 433.6h0M1295.1 429.2h0M1314.6 466.8h0M1212.8 476.9h0M1200.5 472.7h0M1203.8 455.3h0M1202.2 450.1h0M1203 465h0" fill="none" stroke="#bebebe" stroke-width="5.4" stroke-linecap="round"/>
<path d="M1122.3 232.4h0M1114.3 230.5h0M1125.5 286.6h0M1116 283.1h0M1114.2 326h0M1121 224.6h0M1137.1 343.9h0M1121.4 237.8h0M1134.4 406.1h0M1106.1 279.5h0M1131.9 294.8h0M1136.2 391.1h0M1095 283.9h0M1122.3 245.7h0M1106.4 267.8h0M1134.6 312.1h0M1133.7 304.4h0M1126.6 256.6h0M1137.1 227.2h0M1107.1 313.6h0M1128.4 199.9h0M1124.9 311.1h0M1077.2 254.3h0M1116.7 287.3h0M1137.3 379.2h0M1109.6 326.3h0M1080.8 263.6h0M1137.4 299.7h0M1106.8 260.6h0M1106.2 353.3h0M1137 380.2h0M1130 202.2h0M1137.7 273.9h0M1135.3 307.7h0M1129.6 395.1h0M1105.8 315.9h0M1137.1 287.3h0M1114.5 342.2h0M1123.7 374h0M1136.6 289.4h0M1101.3 226.8h0M1128.8 281.3h0M1136 320.3h0M1128.5 195.4h0M1102 340.1h0M1133.6 361.6h0M1126.8 290.4h0M1116.1 278.2h0M1127.7 281.6h0M1115 258.6h0M1135.8 206.7h0M1125.4 224.8h0M1137.7 320.8h0M1111 215.9h0M1122.1 216.7h0M1132.5 323.7h0M1093.6 335.2h0M1115.2 343.3h0M1118.3 224.9h0M1114.4 284.4h0M1126.1 325.4h0M1137.3 244.5h0M1073.3 261.6h0M1081.2 305h0M1129.6 271.7h0M1115.7 282.2h0M1084.4 270.9h0M1129.2 290.9h0M1133.2 291.1h0M1128.6 312.6h0M1117.4 313.7h0M1137.5 242.4h0M1128.7 237.3h0M1129 354.5h0M1107.7 269.7h0M1138 352.8h0M1116.1 237.3h0M1125.7 212h0M1119.7 239.6h0M1137.3 212.2h0M1113.3 266.5h0M1086.2 272.2h0M1125 273.2h0M1090.8 237.6h0M1116.4 326.2h0M1085.6 201.6h0M1104.2 241h0M1100.9 274.8h0M1119.5 312.8h0M1135 318.7h0M1094.3 241.3h0M1124.2 336.8h0M1134.4 197.9h0M1108.6 299.3h0M1119.6 298.9h0M1121.5 270.1h0M1138.3 306.5h0M1112.8 371.4h0M1127.1 271.9h0M1135.9 317.3h0M1129.7 361.3h0M1118.8 259.3h0M1115.3 241.8h0M1134.9 363h0M1089.4 272.1h0M1106.7 314.9h0M1135.3 198h0M1123.6 297.9h0M1102.6 315.2h0M1131.1 380.7h0M1104.5 261.4h0M1136.1 291.5h0M1129.9 308.9h0M1135.5 335.1h0M1085.9 272.9h0M1085 300.6h0M1134.1 287.7h0M1115.3 308.6h0M1100.1 277.4h0M1089.1 300h0M1127.9 302.3h0M1133.9 292.6h0M1096 298.9h0M1125 329.8h0M1125.9 256.4h0M1105.6 353.6h0M1123.2 303.4h0M1120.4 209.5h0M1123.9 246.2h0M1122.7 338.6h0M1107.3 284.5h0M1125.6 339.4h0M1096.8 201.5h0M1121.9 351.4h0M1074.2 234.2h0M1128 383.7h0M1107.4 336.8h0M1134.1 233.3h0M1111.9 327.9h0M1129.1 271.8h0M1120.6 266.5h0M1084.6 253.6h0M1118.2 309.1h0M1102.2 248.9h0M1134.9 295.9h0M1100.5 330.1h0M1134.4 357.5h0M1135.7 250.4h0M1137.1 249.8h0M1090.8 305.1h0M1125.9 236.5h0M1129.6 310.4h0M1117 300.8h0M1132.4 387.8h0M1107.7 382h0M1130.7 211.5h0M1126.7 379h0M1113.3 356.7h0M1105.3 204.9h0M1120.9 346.1h0M1121.4 304.3h0M1136.4 348.2h0M1075.3 262h0M1133.5 355.5h0M1132.4 383.4h0M1118.5 322.2h0M1083.3 225.8h0M1129.1 302.8h0M1123.1 234.4h0M1135.4 351h0M1102.2 245.4h0M1113.9 299.5h0M1126.7 330.7h0M1130.7 316.4h0M1132.3 224.3h0M1121.4 309.7h0M1130.4 224.2h0M1125.1 356.6h0M1137.9 306.4h0M1120.9 252.8h0M1128.5 395h0M1129.7 336.9h0M1080.1 288.4h0M1123.2 371.3h0M1111.1 288.5h0M1126 262.4h0M1095.7 250.9h0M1122.1 237.2h0M1137.9 254.8h0M1132.1 383h0M1120.7 220.2h0M1137 270.5h0M1098 373.2h0M1103.9 331.6h0M1120.1 205.2h0M1095.3 246.5h0M1104 362.7h0M1079.6 230.4h0M1121.4 290.5h0M1104.8 325.6h0M1128.2 238.8h0M1130.8 210.9h0M1095.6 201.1h0M1126.7 240.6h0M1137.3 317.3h0M1069.6 240.1h0M1122.3 267.3h0M1131.9 342.9h0M1126.6 348.8h0M1122.9 271.3h0M1079.8 231.4h0M1125.3 249.4h0M1127 336h0M1129.9 324.1h0M1104.8 327.9h0M1137.6 225.1h0M1129.4 264h0M1113.1 248.4h0M1137.2 354.4h0M1114.6 411.3h0M1121.8 294.2h0M1121.6 292h0M1131.9 241.9h0M1135.1 312.3h0M1091.2 315.7h0M1128.7 357.6h0M1131.5 297.5h0M1080.5 214.7h0M1136.6 267.2h0M1124.6 227.1h0M1116.1 230.3h0M1130.5 285.2h0M1132.7 362.3h0M1133.2 301.5h0M1133.5 327.7h0M1112 248.5h0M1132.5 303.2h0M1135.3 256.3h0M1129.8 349.1h0M1115.7 330h0M1131.8 295.4h0M1122.1 380.2h0M1104.5 246.9h0M1082.7 265h0M1127.2 208.6h0M1121 208.9h0M1129 387.2h0M1137.3 246.3h0M1109.7 289.6h0M1123.9 209.7h0M1131.1 374.5h0M1081.2 214.5h0M1104.2 385h0M1134.2 338.3h0M1132.9 377.8h0M1131.7 246.4h0M1133.8 297.2h0M1087.7 256.1h0M1128.2 326.9h0M1121.1 275.6h0M1127.5 253.6h0M1110 237.2h0M1137 258.3h0M1133.5 251.3h0M1094.5 274.5h0M1120.1 228.8h0M1112.3 344.3h0M1121.5 299.9h0M1136.2 284h0M1097.1 316.6h0M1093.4 288.9h0M1127.2 256.8h0M1109.4 251h0M1133.5 239.8h0M1125.2 328.9h0M1124.7 330.1h0M1112.3 321.6h0M1129.2 222.2h0M1119.6 349.7h0M1127.8 351.1h0M1119.3 281.4h0M1132.3 290.9h0M1133.5 245.6h0M1136.8 363.5h0M1075.8 226.5h0M1110.3 287.2h0M1108.3 391.1h0M1085.7 239.9h0M1123.5 363.3h0M1136.1 340.1h0M1095.4 243.8h0M1134.9 287.2h0M1123.2 416.3h0M1135.8 381.4h0M1137.6 268.5h0M1076.9 241.7h0M1131.7 311.5h0M1108.4 249.2h0M1110.6 258.9h0M1118 231.4h0M1117.5 295.7h0M1122.3 240.2h0M1076.1 224.3h0M1071.2 232h0M1111.5 383.5h0M1080.7 228.7h0M1097.1 230.2h0M1128.4 237.5h0M1137.6 235.2h0M1119.1 256.6h0M1107.1 282.8h0M1133.9 203.1h0M1125.9 288.9h0M1113.8 376.7h0M1123.3 327.7h0M1106.1 387.6h0M1111.3 259.5h0M1124.7 232.8h0M1110.4 261.7h0M1112.7 322.3h0M1128.2 335.5h0M1125.2 387.5h0M1130.1 285.8h0M1124.9 287.8h0M1135.4 270.8h0M1097.1 225.9h0M1137.5 251.1h0M1090 261.5h0M1138 308.7h0M1096.8 240.7h0M1138.4 217.5h0M1131.1 273.8h0M1125 379h0M1128.9 249.5h0M1136.3 380.5h0M1133.7 321.4h0M1137 410.8h0M1138 373h0M1132 373.7h0M1130 293.1h0M1130.7 224.6h0M1112.5 358.3h0M1110.7 347.7h0M1122.3 281.5h0M1129.3 244.9h0M1132.4 219.2h0M1110.7 273.8h0M1128.9 328.3h0M1128.6 330.7h0M1130.4 290.4h0M1126 238.5h0M1132.6 300.7h0M1071.8 286.4h0M1135 297.1h0M1136.8 272h0M1126.4 299.2h0M1138.3 299h0M1131.2 345.7h0M1129.1 314.4h0M1128.9 222.6h0M1108.4 345.4h0M1132.2 273h0M1093.3 367.6h0M1095.2 207.5h0M1116.6 255.6h0M1099.7 273h0M1123.7 302.4h0M1137.6 406.8h0M1090.7 249.3h0M1110.1 335.2h0M1119.4 268.5h0M1118.9 254.3h0M1137.8 249.6h0M1098.1 252.8h0M1116 373.5h0M1087.2 284h0M1120.5 354h0M1117.4 330.8h0M1115.6 384h0M1114.4 253.4h0M1112.6 261.1h0M1127.7 379.1h0M1084.9 207h0M1082.7 292.4h0M1114.2 343.6h0M1113.6 264.7h0M1119 337.3h0M1069.7 227.8h0M1111.3 369.3h0M1069.4 211.1h0M1104 269.2h0M1102.1 263.2h0M1134.9 309.4h0M1130.1 283.5h0M1130 364.2h0M1118.4 285.6h0M1134.7 198.4h0M1131.1 329.3h0M1131.8 210.3h0M1137.8 288.6h0M1107.7 69.7h0M1125 116.3h0M1117.8 124.4h0M1129.9 123.4h0M1123.4 128.3h0M1120.1 133.5h0M1118.2 140.4h0M1123.7 144h0M1102.2 153.7h0M1125.3 157h0M1062.4 175.9h0M1049.4 177.8h0M1060.8 180.8h0M1091.4 179.5h0M1089.2 185.7h0M1109.4 176.2h0M1137.1 190.5h0M1134.1 190.2h0M1115.2 193.8h0M1116.5 195.8h0M1105.1 198.7h0M1100.9 203.6h0M1078.1 200.7h0M1079.7 207.8h0M1049.7 213h0M1043.5 221.2h0M1039.3 223.8h0M1068 229h0M1049.1 237.1h0M1048.1 238.1h0M1017.5 251.5h0M1050.7 251.8h0M1027.6 265.2h0M1061.1 259h0M1056.6 260.6h0M1056.3 262.6h0M1032.8 285.4h0M1051 307.9h0M1063.4 274.6h0M1059.8 361h0M1089.8 400.7h0M1086.6 423.2h0M1110.3 423.2h0M1126 422.9h0M1103.5 406.6h0M1107.4 404.3h0M1124 411.2h0M1128.6 405.6h0M1137.4 404.3h0M1094.7 329h0M1097 337.2h0M1098.3 347.3h0M1094.4 356.4h0M1099.6 371.7h0M1103.5 378.9h0M1110.3 391.9h0M1116.9 393.6h0M1118.5 397.1h0" fill="none" stroke="#0000ff" stroke-width="5.4" stroke-linecap="round"/>
<path d="M1212.2 377.5h0M1254.3 229.9h0M1272.8 410.3h0M1211.1 333.1h0M1224.5 346.4h0M1255.5 378.1h0M1236.6 294.2h0M1259.1 225.4h0M1219.9 337.9h0M1248.6 375.4h0M1280.4 342.1h0M1210.9 327.5h0M1210.2 357.7h0M1275.1 327.6h0M1222 362.9h0M1235.8 306.4h0M1254.3 265h0M1210.5 387.9h0M1211.5 239.2h0M1218.7 322.4h0M1218.3 336.9h0M1212.7 276.8h0M1328 364.4h0M1298.5 362.2h0M1274.5 296.3h0M1291.2 350.7h0M1237.1 339.6h0M1241.5 310.6h0M1230.3 345.7h0M1267.8 342.2h0M1213 275h0M1215 335.6h0M1256.1 272.5h0M1249.4 364.3h0M1247.6 215.4h0M1222.2 371.2h0M1217.6 287h0M1224.3 326h0M1265.7 329.9h0M1270.2 393.5h0M1226.3 280.8h0M1312.9 348.7h0M1258.4 240.3h0M1228.9 332.2h0M1231.5 263.7h0M1253.1 325h0M1232 353.3h0M1270.6 262.7h0M1239.5 267.8h0M1216 373.9h0M1261.2 339.6h0M1215.5 330.9h0M1257.5 375.5h0M1212.3 301h0M1254.7 329.6h0M1302.1 402.9h0M1215.6 322.6h0M1215.4 256.6h0M1255.9 361.5h0M1238.4 368.6h0M1286 346.1h0M1210.9 340.2h0M1266.6 315h0M1210.9 300.1h0M1239.4 301.6h0M1278.2 407h0M1211.2 232.9h0M1247.1 389h0M1213.8 293.1h0M1249.9 359.2h0M1216.1 293.6h0M1254.6 309.9h0M1311 366.9h0M1241.4 316.6h0M1226 336h0M1242.7 320.5h0M1227.6 239.8h0M1319 401h0M1282 260.8h0M1212.3 321.7h0M1228.7 271.1h0M1241.8 259.8h0M1244.1 371.4h0M1243.8 304.3h0M1228.2 273h0M1265.9 220.7h0M1214.2 307.7h0M1259.6 352.4h0M1210.8 272.1h0M1233.6 398.6h0M1253.8 280.6h0M1225.2 376h0M1220 285h0M1236.5 355.5h0M1246.5 366.4h0M1289.6 343.9h0M1273.3 386.8h0M1285.9 359.7h0M1250.6 378.4h0M1217.3 384.5h0M1216.1 279.8h0M1214 276.2h0M1222.4 344.1h0M1269.5 242.7h0M1312.2 390.3h0M1210.7 348.6h0M1214.5 337.4h0M1231.2 276.8h0M1287.7 331.1h0M1255.9 396.4h0M1237 342.1h0M1257 368.7h0M1239.8 307.5h0M1247.6 381.3h0M1260.9 308.4h0M1274 410h0M1274.6 337.5h0M1259.2 373.5h0M1211.3 354.4h0M1214.1 319.8h0M1218.6 319.9h0M1307.2 372.6h0M1221.1 328.5h0M1224.2 362.4h0M1274.4 267.7h0M1219.3 217.7h0M1290.6 379.9h0M1214.9 349.6h0M1268.3 225.2h0M1235.6 307.1h0M1267.8 402.3h0M1233.3 387.2h0M1260.6 366.4h0M1226.1 330.6h0M1210.8 394.3h0M1261.2 227.8h0M1210.6 341.6h0M1264.6 298h0M1258.5 342.9h0M1213.7 296.8h0M1222.1 274.4h0M1246.3 368.3h0M1247.8 264.5h0M1234 274.1h0M1296.9 398h0M1228.8 316.2h0M1259 345.7h0M1215.4 261.2h0M1214.9 323.3h0M1247 273.8h0M1225.3 201.6h0M1277.9 364h0M1223.2 258.6h0M1214.8 266.7h0M1225.4 355.2h0M1268.7 416.4h0M1228.3 347.4h0M1243.9 219h0M1213 303.1h0M1213.3 269h0M1260.9 270.4h0M1211.5 275.5h0M1273.7 248.2h0M1288.3 379.6h0M1236.1 291.2h0M1217.4 349.6h0M1216.8 260.3h0M1267.9 212.9h0M1274 257.3h0M1232.6 323.4h0M1213.8 308h0M1211.2 323.7h0M1332.2 353.1h0M1265.7 354.2h0M1252.8 265.1h0M1213.2 308.1h0M1226.5 387.6h0M1287.6 416.4h0M1235.7 325.5h0M1245.9 221h0M1269.5 332h0M1271.1 353.8h0M1213.5 352.6h0M1221.9 367.4h0M1232.5 315.3h0M1268.7 245.5h0M1314.2 352.9h0M1247.2 376.9h0M1273.6 400.1h0M1249.5 225h0M1210.3 389.1h0M1223.6 372.5h0M1267.4 348.5h0M1277.2 293.5h0M1267.9 277.8h0M1341.1 385.5h0M1281.7 303.8h0M1269.6 342.6h0M1213.6 299h0M1218.3 235.9h0M1258.9 369.9h0M1221.4 270.2h0M1228.6 269.6h0M1234.2 217.6h0M1255.8 376.1h0M1212.4 307.9h0M1274.4 374.1h0M1216 304.5h0M1220.9 282.6h0M1219.5 270.4h0M1216.2 241h0M1239.5 242h0M1253.8 358.8h0M1214.3 302.9h0M1217.9 283.1h0M1238.6 291.6h0M1226 234.1h0M1279.3 359.7h0M1213.6 324.7h0M1211.1 365.4h0M1229.3 367.4h0M1255.5 367.9h0M1219.4 288.6h0M1275.7 238.9h0M1212 393.6h0M1218.9 293.8h0M1214.1 260.4h0M1242.7 362.1h0M1210.9 269.2h0M1281.5 304.2h0M1311.3 370.5h0M1248.1 354.7h0M1225.8 244.7h0M1305 368.4h0M1255.8 349.5h0M1226.5 218.5h0M1227.3 251.6h0M1231.7 345.1h0M1230 333.7h0M1240 381.5h0M1216.4 326.6h0M1230.4 317.2h0M1215.1 305.5h0M1267.2 341h0M1226.3 363.9h0M1259.6 341.9h0M1219.9 291.5h0M1213.6 308.3h0M1223.2 363h0M1252.5 331h0M1211.1 252.1h0M1243.9 262.1h0M1247.7 371.3h0M1220.5 229.3h0M1224.8 364.2h0M1212.5 269.6h0M1291.1 362.3h0M1277.8 235.1h0M1220.4 272.4h0M1211.6 289.5h0M1325.8 367.3h0M1228 230.9h0M1210.9 353.7h0M1257.1 373.9h0M1273 338.6h0M1215.2 347.2h0M1281.7 233.6h0M1321.9 412h0M1257 227.1h0M1309.4 397.8h0M1211.3 283.1h0M1216 269.7h0M1210.8 251.8h0M1212.7 243.9h0M1212 362h0M1232.7 301.3h0M1247.5 355.7h0M1212.5 275.8h0M1233.6 322.7h0M1247.6 342.6h0M1252.1 257.3h0M1210.4 352.2h0M1241.9 333.4h0M1217.2 284h0M1261.6 236.2h0M1216.5 275.5h0M1228.8 319.4h0M1250.2 362h0M1298.2 386.2h0M1270.2 364.3h0M1221.2 349.2h0M1274.9 319.8h0M1244.2 330.3h0M1234.6 268.5h0M1242.8 390.1h0M1336.5 380.4h0M1229.2 374h0M1238.5 344.2h0M1255 367.5h0M1220.4 321h0M1229.6 355.7h0M1257.9 364.1h0M1314.6 396.9h0M1258.1 261.5h0M1224 372.9h0M1260.4 353.4h0M1268.1 384h0M1222.9 294.7h0M1282.4 361.8h0M1218.2 341h0M1252.2 213.3h0M1213.4 380.9h0M1312.5 361.2h0M1243.3 296h0M1239.8 326.3h0M1216 284h0M1215 277.7h0M1210.2 227.3h0M1222.2 215.7h0M1220.5 275.2h0M1210.4 321.9h0M1217.2 357.8h0M1253.7 317.9h0M1268.9 262.4h0M1211.8 275.7h0M1212.5 275h0M1236.8 337.9h0M1210.6 376.8h0M1243.9 262.7h0M1258.2 260.6h0M1291.8 354.3h0M1277.8 379.6h0M1261.5 308.2h0M1210.9 317.3h0M1260.6 370.8h0M1264.9 343.6h0M1321.9 360.8h0M1276.9 264.7h0M1325 393.3h0M1258.2 364.1h0M1225.1 306.2h0M1283 359.5h0M1222 361.9h0M1210.9 327h0M1321.6 359.9h0M1329.5 364.4h0M1259.3 365.3h0M1218.4 292.2h0M1314.6 399.9h0M1218.6 215.8h0M1257.6 283.1h0M1286.5 311.1h0M1232.4 209.2h0M1210.8 317.3h0M1336.3 347.3h0M1228.3 305.9h0M1221.7 368.3h0M1219.5 319.6h0M1262.6 292.8h0M1217.8 344.5h0M1212 286.4h0M1218.7 367.5h0M1240.8 250.2h0M1272.9 302.9h0M1212.5 377.6h0M1224.1 299.9h0M1315.6 397.1h0M1214.6 304.3h0M1271.2 370h0M1227.4 319.2h0M1217.2 337.1h0M1296.6 373.7h0M1237.1 343.8h0M1216.8 350.7h0M1223.2 370.9h0M1260.7 227.3h0M1271.7 325.2h0M1220.2 370.7h0M1212.4 334h0M1324.6 349.8h0M1219.9 297.4h0M1270.5 223.4h0M1290.2 361.8h0M1337.3 376h0M1218.9 321.2h0M1218.8 354.6h0M1326.5 363.4h0M1284.1 292h0M1259.9 236.4h0M1245.5 260.3h0M1225.4 304.5h0M1330.5 375h0M1268.7 313h0M1226.7 331.3h0M1219.8 338.2h0M1280.8 394.5h0M1211.1 335.9h0M1222.2 284.6h0M1283 317.1h0M1259.2 312.4h0M1221.8 388h0M1258.6 263.2h0M1221.8 373h0M1212.9 326.4h0M1294.2 359.4h0M1273.4 329.9h0M1222.9 276.2h0M1241.5 237.6h0M1234.5 288.9h0M1266.5 256.5h0M1239.4 398.6h0M1217 246.9h0M1210.1 297.1h0M1311.2 376.4h0M1219.8 263.1h0M1228.9 389.8h0M1267.4 353.4h0M1237.5 393.9h0M1247.6 215.5h0M1211.1 332.6h0M1220.4 297.3h0M1258.5 369.1h0M1210.2 361.9h0M1224.8 335h0M1238.8 367.6h0M1257.7 278.7h0M1272.9 219.8h0M1263.6 252.7h0M1272.7 269.1h0M1219.2 385.6h0M1247.1 243.1h0M1219 333.2h0M1216 372.4h0M1223.1 352.7h0M1250.7 229.6h0M1222.1 280.2h0M1273.6 349.9h0M1213.7 278h0M1292.7 402.5h0M1273 224.8h0M1261.3 261.6h0M1281.8 286.6h0M1237.9 379.8h0M1210.9 305.3h0M1235 312.1h0M1220.9 381.7h0M1236.9 255.3h0M1210.7 320.2h0M1220.9 331h0M1268 311.3h0M1275.3 249.8h0M1211 255.9h0M1210.4 281.2h0M1336.9 365.6h0M1210.5 302.1h0M1242.2 291.6h0M1227.2 254.4h0M1217.1 347h0M1228.1 321.9h0M1213.9 288.3h0M1255.2 244.6h0M1211.1 270.7h0M1220.6 327.1h0M1289.7 394.9h0M1266.2 352.6h0M1217.4 266.2h0M1216.4 256.2h0M1222.8 309.6h0M1229.6 344.2h0M1215.7 281.7h0M1238.9 209.8h0M1211.3 293.6h0M1260.8 234.8h0M1210.9 363.4h0M1234.4 290.6h0M1212.4 354.3h0M1258.1 298.5h0M1238.8 293.7h0M1218.6 371.5h0M1329.5 358.8h0M1235.8 212.3h0M1229.3 292.4h0M1210.9 297h0M1253.5 354.8h0M1223.3 291h0M1258.2 329.6h0M1266.5 402h0M1249.3 382.3h0M1215.1 383.3h0M1311.8 358.7h0M1257.3 266h0M1216 345.1h0M1225 385.4h0M1237.2 382.9h0M1276.5 374.6h0M1212 329.4h0M1235.1 333.2h0M1210.5 282.9h0M1212.4 373.3h0M1214.2 355.1h0M1270.4 360.7h0M1266.8 312.3h0M1215 376.4h0M1276.3 245.4h0M1212.1 309.2h0M1218.5 275.7h0M1261.1 214.9h0M1219.7 331.7h0M1237.3 267h0M1302.6 357.2h0M1329.6 378.6h0M1282.8 387.4h0M1211.7 355.5h0M1221.3 227.4h0M1226 409.6h0M1278.2 250.6h0M1283.2 380.8h0M1221.6 381.1h0M1210.5 360.9h0M1302.8 385.9h0M1289.1 365.7h0M1213.1 294.1h0M1232.9 223.6h0M1260.5 374.1h0M1235.3 285.4h0M1232.3 238.6h0M1256.4 383.9h0M1211 340.1h0M1291.4 417.8h0M1305.6 363.7h0M1225.4 253.1h0M1212.2 313.6h0M1220.9 227.1h0M1211.6 277h0M1277.7 345.1h0M1263.1 280h0M1283.2 300.7h0M1234 236h0M1259.7 298.5h0M1234 305.7h0M1216.7 316h0M1211.9 283.1h0M1282.2 231.1h0M1211.2 369.7h0M1211.6 369.6h0M1226.9 272.5h0M1240.2 384.2h0M1220.4 366.2h0M1214.6 240.6h0M1296 371.8h0M1270.7 257.8h0M1213.1 272.1h0M1264.1 380h0M1216.2 290.5h0M1280.1 232.8h0M1212.8 313h0M1223.4 270.2h0M1234.7 377h0M1221.4 232.5h0M1258.3 368.8h0M1245.9 348.5h0M1314.4 391.1h0M1222.3 260.2h0M1248.8 260h0M1210.5 285.6h0M1248.2 296h0M1339.7 100.9h0M1225.9 118.9h0M1282 128.6h0M1244.8 153.7h0M1245.2 160.2h0M1261.5 160.9h0M1303.8 169.4h0M1298.6 175.2h0M1317.2 174.6h0M1332.8 182.4h0M1252.3 183.4h0M1260.8 185.7h0M1274.8 187h0M1320.8 189.6h0M1297 194.5h0M1321.8 199h0M1327 197.7h0M1385.3 206.5h0M1314.3 214.3h0M1295.7 231.6h0M1311 238.5h0M1320.8 236.8h0M1302.5 246.9h0M1347.5 247.9h0M1322.7 271.4h0M1340.3 288h0M1339 293.8h0M1291.8 297.4h0M1298.3 298.4h0M1371.6 306.2h0M1355 312.7h0M1296.3 330h0M1295 335.9h0M1319.1 339.5h0M1382.4 349.6h0M1393.4 358.4h0M1354 355.8h0M1438.1 373.4h0M1377.5 364.2h0M1368.7 368.1h0M1364.1 370.8h0M1373.9 377.3h0M1351.1 375.6h0M1341 374h0M1389.9 417.7h0M1328.9 410.2h0M1322.1 418h0M1317.2 420h0M1298.9 412.8h0M1296.3 401.7h0M1288.2 406.3h0M1283.6 412.1h0M1283.6 420h0" fill="none" stroke="#ff0000" stroke-width="5.4" stroke-linecap="round"/>
<rect x="865.3" y="48.6" width="618.2" height="470.8" fill="none" stroke="#6c6c6c" stroke-width="1.4"/>
<path d="M1000.2 519.4v4.9M1174.2 519.4v4.9M1348.2 519.4v4.9M865.3 497.8h-4.9M865.3 387h-4.9M865.3 276.2h-4.9M865.3 165.4h-4.9M865.3 54.6h-4.9" stroke="#1a1a1a" stroke-width="1.4" fill="none"/>
<g font-weight="bold" font-size="19" fill="#000">
<text transform="translate(1000.2 541.4) scale(1 1.02)" text-anchor="middle">-5</text>
<text transform="translate(1174.2 541.4) scale(1 1.02)" text-anchor="middle">0</text>
<text transform="translate(1348.2 541.4) scale(1 1.02)" text-anchor="middle">5</text>
<text transform="translate(856.7 504.6) scale(1 1.02)" text-anchor="end">0</text>
<text transform="translate(856.7 393.8) scale(1 1.02)" text-anchor="end">2</text>
<text transform="translate(856.7 283) scale(1 1.02)" text-anchor="end">4</text>
<text transform="translate(856.7 172.2) scale(1 1.02)" text-anchor="end">6</text>
<text transform="translate(856.7 61.4) scale(1 1.02)" text-anchor="end">8</text>
</g>
<text x="1174.4" y="566.5" text-anchor="middle" font-weight="bold" font-size="24">log2 (fold change)</text>
<text transform="translate(836.8 284) rotate(-90)" text-anchor="middle" font-weight="bold" font-size="24">-log10 (p-value)</text>
</g>
<g id="plotC">
<path d="M1890.42 518.5V47.6" stroke="#b9b9b9" stroke-width="1.13" fill="none" stroke-dasharray="1.13 3.39 4.52 3.39"/>
<path d="M1960.48 518.5V47.6" stroke="#b9b9b9" stroke-width="1.13" fill="none" stroke-dasharray="1.13 3.39 4.52 3.39"/>
<path d="M1616.4 423.00H2234.7" stroke="#b9b9b9" stroke-width="1.13" fill="none" stroke-dasharray="1.13 3.39 4.52 3.39" stroke-dashoffset="0.6"/>
<path d="M1899 269.1h0M1913.7 372.6h0M1909.5 462h0M1896.4 265.4h0M1893.1 438.7h0M1917.5 468.3h0M1907.3 404.7h0M1891.6 427.8h0M1912.4 433.1h0M1903.4 386.2h0M1902 403.8h0M1905.1 323.6h0M1911.6 451.7h0M1901.6 429.2h0M1899.9 320.7h0M1897.3 315.6h0M1912.4 356.5h0M1912.8 360.8h0M1908 421.3h0M1896.2 441.2h0M1913 392.3h0M1897.9 254.5h0M1898.8 456.7h0M1918 422.5h0M1892.6 262.6h0M1912 352h0M1894.3 465.7h0M1903.6 359.5h0M1909.2 459.1h0M1918.7 481.8h0M1891.7 440.7h0M1892.2 258.6h0M1894.7 352.7h0M1903.4 340.8h0M1902.5 437.4h0M1920.4 472.6h0M1895.1 363.4h0M1918.7 442.8h0M1899.2 381.2h0M1923.9 493.6h0M1917.1 489.7h0M1914.6 404.8h0M1910.3 382.5h0M1904.1 464.5h0M1898.5 412.1h0M1895.2 443.4h0M1891.7 386.1h0M1905.2 318.3h0M1905.3 355.8h0M1903.2 311.3h0M1921.5 477.5h0M1897.4 364.4h0M1898.8 388.2h0M1910.7 378.2h0M1911 429.2h0M1894.5 419.5h0M1913.7 473.8h0M1903.8 409.2h0M1908 413.6h0M1900.7 385.3h0M1894.1 460.5h0M1910.3 362.4h0M1900.4 467.6h0M1910.8 438.3h0M1913.9 375.6h0M1906.7 356h0M1917.6 465.3h0M1908.8 426.2h0M1909.1 414.6h0M1891.3 335.9h0M1892.5 355.6h0M1904.1 355.2h0M1892.3 252.6h0M1897.3 471.7h0M1912.1 393.8h0M1903.2 437.1h0M1907.7 317.2h0M1912.1 471.1h0M1913.7 453.4h0M1907.2 443.7h0M1908.3 364.5h0M1908.9 419.6h0M1908.8 411.5h0M1908 326.9h0M1901.1 382.2h0M1904.3 410.2h0M1907.6 419.4h0M1912.4 420.1h0M1906.9 466.6h0M1908.3 292.7h0M1899.2 358.4h0M1902.3 465.7h0M1902.1 398.6h0M1895.5 387.2h0M1908.7 325.8h0M1900.9 265.1h0M1918.6 470.7h0M1902.1 368h0M1901.2 378.3h0M1908.4 445.4h0M1902.1 395.7h0M1918.1 473.5h0M1911.8 488h0M1893.9 458h0M1909.3 363.4h0M1906.2 435.5h0M1899.2 421.6h0M1917.5 415.2h0M1897.2 448.3h0M1891 429.6h0M1899.8 370.5h0M1892 310.3h0M1913.4 372.6h0M1919.1 453.9h0M1904.8 459.8h0M1897.3 460.7h0M1902.8 389.2h0M1910.7 464.4h0M1909.4 385.4h0M1912.2 381.7h0M1896.2 432.4h0M1910.8 480.5h0M1901.1 459h0M1902.7 352h0M1897.5 446.7h0M1891.4 445.6h0M1891.5 359.9h0M1895.7 412.7h0M1910.8 451.5h0M1893.3 338.5h0M1899.6 426.7h0M1905.9 337.8h0M1900.8 448.8h0M1891.1 417.8h0M1905.4 476.5h0M1909.4 469.3h0M1920 468.7h0M1893.1 442.2h0M1891.4 403.3h0M1905.5 444.9h0M1908.9 474.2h0M1895.9 469.4h0M1898.6 317.5h0M1905.2 474.4h0M1909.6 407h0M1895.6 286.9h0M1909 443.3h0M1895.4 374.2h0M1906.5 430.2h0M1919.1 433.7h0M1903.9 312.7h0M1913.6 410.1h0M1912.1 444.2h0M1892.4 417.1h0M1921.8 479.5h0M1899.2 395.2h0M1894.3 385.1h0M1910.8 428.2h0M1920.4 480.3h0M1894.6 420.3h0M1904.2 443.6h0M1898.1 282.7h0M1920.4 494.3h0M1893.2 362.2h0M1893.3 238.6h0M1894.2 317h0M1910 429.2h0M1895.5 354.7h0M1896.2 442.4h0M1897.2 450.4h0M1903.5 392.6h0M1893.3 392.1h0M1894.9 400.3h0M1906.1 465.2h0M1905 322.5h0M1900.4 409.9h0M1917.7 417.5h0M1907.2 342.3h0M1895.7 469.1h0M1894 457.6h0M1904.5 449.6h0M1914.1 413.2h0M1914.5 374.4h0M1906 480.5h0M1898.5 463.5h0M1911.2 453.5h0M1891.2 434.2h0M1910.8 449h0M1899.4 386.5h0M1906.9 357h0M1901.3 422.5h0M1907.1 396.6h0M1919.6 484.8h0M1906.8 366.1h0M1908 374.7h0M1909.4 400.4h0M1894.1 429.9h0M1901.8 439.2h0M1896.5 452.7h0M1920.1 477.7h0M1917 464.1h0M1897.8 456.9h0M1891.1 416.3h0M1915.5 384.6h0M1921.5 466.4h0M1899.2 367.5h0M1901.5 442.3h0M1900.3 289.3h0M1902.3 369.7h0M1902.3 398.4h0M1903.9 324.9h0M1912.6 392.6h0M1895.4 413.6h0M1916.8 460.8h0M1905.4 305.9h0M1891.1 357.6h0M1913 463.2h0M1899.2 351.7h0M1917.2 473.5h0M1917.3 483h0M1908.7 462.1h0M1906.8 393.6h0M1894.6 414.8h0M1916.1 415.4h0M1910.6 462.8h0M1916 488.3h0M1907 448.5h0M1900.9 457.5h0M1896.8 458.4h0M1907.4 398.9h0M1891.8 394.1h0M1914.8 420h0M1903.7 395.4h0M1910.2 363.7h0M1902.5 295.1h0M1908.9 473.5h0M1910.1 434.6h0M1905 407.1h0M1897 410.8h0M1903.8 364.2h0M1908.1 386h0M1917.6 492.7h0M1919 465.9h0M1904 341.3h0M1915.6 426.2h0M1895.1 376.1h0M1897.5 274.6h0M1914.8 482.6h0M1914.1 405.2h0M1912.5 470.1h0M1897.7 445.8h0M1909.5 473.5h0M1891.5 391.8h0M1907.1 456.6h0M1893.7 442.9h0M1902.9 250.5h0M1895.9 358.9h0M1908.6 425.6h0M1909.9 425.3h0M1897.1 468.2h0M1901.5 254.4h0M1894.5 388.4h0M1918 436.9h0M1895.7 342.2h0M1910.9 431.1h0M1914.8 450.5h0M1912.1 380.3h0M1909.3 353.9h0M1921.8 469.5h0M1906.3 374.9h0M1893.1 444.7h0M1925 476.5h0M1919.4 453.9h0M1898.3 468.1h0M1895.9 461h0M1891 336.6h0M1903.7 339.3h0M1909.3 449.5h0M1909.9 416.7h0M1908.3 440.2h0M1893.6 459.2h0M1894.2 448.9h0M1894 374.8h0M1904.1 399.8h0M1907 482h0M1900.3 354.5h0M1893.5 365.2h0M1898.9 470.2h0M1916.1 417.7h0M1917.9 452h0M1917.9 468.8h0M1903.2 429.4h0M1902.2 474.8h0M1900.5 353.6h0M1910.3 417.4h0M1914.6 479.8h0M1907.7 454.1h0M1906.2 341.1h0M1896.7 415.2h0M1914.8 452.9h0M1907.7 454.7h0M1913.5 367.6h0M1900.9 262.9h0M1898.1 397.8h0M1895 391.8h0M1925 478.5h0M1895.3 422.2h0M1910.4 385h0M1912.3 344.2h0M1904 479.4h0M1905.1 459.4h0M1916.4 434.8h0M1919.1 437.5h0M1907 408.3h0M1897.7 229.1h0M1903.2 475.4h0M1905.8 462.9h0M1894.7 326.2h0M1902.4 468.7h0M1923.5 473h0M1906.4 432.2h0M1918.6 450.2h0M1898.8 327.3h0M1898.8 305.7h0M1905.4 383.3h0M1897.6 457.3h0M1902 375.5h0M1895.7 420.9h0M1898.8 375h0M1902.4 433.1h0M1896.2 458.3h0M1904.8 395.7h0M1906.3 461.4h0M1894.7 363.5h0M1902.8 467.3h0M1912.9 414.2h0M1920.8 480.9h0M1893.1 389.4h0M1891.3 435.3h0M1914.4 472.1h0M1892.6 446.8h0M1893.8 374h0M1906.4 472.3h0M1917.5 431.9h0M1892.7 442.6h0M1912.3 354.1h0M1912.3 379.3h0M1895.1 365.9h0M1907.9 404.5h0M1904.6 352.2h0M1893.6 406.9h0M1912.5 358.7h0M1893.4 320.8h0M1893.2 303.6h0M1897 276.7h0M1893.2 366.2h0M1908.2 355.8h0M1920.9 484h0M1894.9 405.3h0M1907.7 437.4h0M1899.8 440h0M1912.7 358.5h0M1894.1 341.6h0M1906 377.8h0M1892 404.4h0M1896.2 233.7h0M1892 298.6h0M1908 350.7h0M1901.3 340.9h0M1905.1 464.3h0M1909.6 465h0M1916.5 422.8h0M1902.1 458.4h0M1914.6 429h0M1904.2 468.7h0M1897.3 340.2h0M1912 367.1h0M1919.5 475.4h0M1893.1 376.6h0M1901.6 400.1h0M1903.7 467.8h0M1904.5 297.7h0M1909.1 378.2h0M1921 462.4h0M1904 408.4h0M1904.7 439.6h0M1905.2 347.1h0M1892.7 283.9h0M1911.9 400.6h0M1909.2 400.8h0M1897.4 301.3h0M1911.6 401.5h0M1901.4 370.3h0M1915.8 459h0M1901.8 430.9h0M1899.7 255.6h0M1904.5 403.3h0M1907.2 470.5h0M1911.6 393.6h0M1892 298.9h0M1912.4 428.8h0M1896.6 262.8h0M1892 422.9h0M1911.1 383.2h0M1911 457.6h0M1916.6 398.5h0M1915.4 460.3h0M1903.7 336.5h0M1911.9 369.7h0M1911.7 378.1h0M1892.2 366.5h0M1915.5 434.2h0M1900 415.9h0M1894.3 405.8h0M1923.6 478.6h0M1893.2 411.1h0M1894.1 432.3h0M1910.4 439.4h0M1916.1 390.3h0M1899.9 360.1h0M1920 483.9h0M1893.1 301.9h0M1909.8 484.4h0M1914.7 388.3h0M1907 389.3h0M1898.4 451.1h0M1910.2 414.8h0M1902 466.5h0M1907.5 403.6h0M1899.9 461.2h0M1906.9 428.4h0M1902.9 472h0M1904.8 302.8h0M1915.1 392h0M1901.3 461.6h0M1895.9 377.9h0M1904.3 465.5h0M1893.4 321.4h0M1898.3 466.3h0M1904.2 444.3h0M1897.9 409h0M1912.6 483.9h0M1917.5 436.6h0M1910.6 437.2h0M1893.3 366.6h0M1905 277.2h0M1898.9 406.4h0M1903.8 289.7h0M1895.8 361.4h0M1911.2 365.9h0M1896.3 424h0M1909.8 380.3h0M1920.5 462.8h0M1912.5 386.6h0M1894.4 398.9h0M1917.9 418.8h0M1896.2 433.2h0M1891.7 335.6h0M1896.4 388.8h0M1924 495.6h0M1920.3 468.4h0M1908 469.2h0M1897.1 366.9h0M1917.7 417.3h0M1892.3 438.5h0M1914.4 463.6h0M1909.6 419.4h0M1903.3 428.6h0M1905.6 455.5h0M1915.7 398.5h0M1908.6 446.1h0M1921.2 488.2h0M1912.3 436.8h0M1909 470.6h0M1911.4 433h0M1917.8 471.2h0M1906.6 405.7h0M1910.7 438.8h0M1915 386.6h0M1891.7 423.6h0M1904.3 300.8h0M1912.2 346.6h0M1923.3 483.8h0M1909.6 320.1h0M1914.1 379.4h0M1915.1 468.2h0M1908.7 419.5h0M1918.2 469.9h0M1901.9 334.1h0M1894.8 307.9h0M1903.5 346h0M1897.3 470.7h0M1904.3 427.2h0M1904.1 471.3h0M1897.7 313.3h0M1902.5 455.2h0M1903.4 283.3h0M1903.4 410.6h0M1917.7 430h0M1897.9 350.7h0M1904.6 419.4h0M1908.4 386.8h0M1896.1 443.8h0M1894.7 376.4h0M1900.3 463.8h0M1894.5 365.8h0M1908.7 368.7h0M1903.5 451.3h0M1914.1 389.3h0M1900.4 422.8h0M1901.7 346.3h0M1898.9 403.3h0M1901.7 389.1h0M1892 247.8h0M1925.1 494.3h0M1903.8 358.3h0M1896.3 460.8h0M1899.2 296.4h0M1891.8 413.9h0M1900.7 444.2h0M1920.5 472.4h0M1915.5 412.3h0M1907.6 464.8h0M1905.9 442.1h0M1907.9 480.7h0M1905.2 363h0M1891 416.4h0M1896 318.2h0M1917.9 435h0M1903.3 271.7h0M1917.3 474h0M1900.8 389.5h0M1906.4 316.4h0M1896.4 451.6h0M1900.9 455.1h0M1906.1 354.6h0M1916.3 395.9h0M1893.9 341.2h0M1912.2 367.2h0M1902.5 333.1h0M1893.8 305.2h0M1912.2 408h0M1895 395.3h0M1918.2 463.7h0M1902.7 418.3h0M1913.9 420h0M1911.3 355.1h0M1901.3 346h0M1902.6 445.7h0M1906.7 365.6h0M1897.3 319.9h0M1891.3 342.9h0M1923.8 473.8h0M1915.7 424.4h0M1915.9 445.7h0M1891.3 433.7h0M1891.6 394h0M1892.9 348.6h0M1904.6 458.3h0M1905.1 411.5h0M1917.1 422.8h0M1893 373h0M1893.3 444h0M1895.3 468.4h0M1905.2 339.9h0M1905.2 444.3h0M1902.4 388.3h0M1891.8 444.8h0M1915.9 445.8h0M1898.3 425h0M1912.7 381.4h0M1894 379h0M1896.4 216h0M1899.6 406.5h0M1902.3 294.7h0M1905.3 474.1h0M1904.1 364.3h0M1900.1 343.3h0M1902.3 458.7h0M1898.4 289.4h0M1918.7 474.6h0M1912 365.7h0M1896.1 226.4h0M1896.7 336.5h0M1903 299.8h0M1905 396.6h0M1917.6 486h0M1908.5 378.4h0M1906.1 326.8h0M1914.9 422.6h0M1902.3 286.3h0M1908.7 465.8h0M1904.2 390.6h0M1902.5 443.1h0M1894.5 406.5h0M1893.9 396.3h0M1906.8 480h0M1903.1 273.7h0M1906.1 361h0M1900.5 343.4h0M1895.6 466.5h0M1904.1 463.2h0M1913 463h0M1893.4 452.9h0M1907.4 361h0M1925.2 494.5h0M1913.2 384.1h0M1908.3 302.6h0M1907.5 455.6h0M1898.3 460.4h0M1920.5 481.5h0M1906.4 339.3h0M1902.2 465h0M1898.8 364.9h0M1906.4 467.7h0M1917.5 442h0M1921 467h0M1908.5 399.1h0M1893.2 403h0M1912.5 434.4h0M1891.6 405.5h0M1900 457.3h0M1911.9 339h0M1906.6 415.1h0M1913.2 366.1h0M1917.1 487.5h0M1895 417.6h0M1895.5 422.7h0M1900.6 284.9h0M1903.8 439.9h0M1910.7 424.7h0M1895.3 431.4h0M1920.3 490.3h0M1904.7 430.5h0M1899.5 447.9h0M1921.7 472.1h0M1903.5 409.1h0M1903.7 363.5h0M1916.8 439.7h0M1898.8 368.4h0M1905.3 421.5h0M1910.4 467.7h0M1904.1 404.1h0M1923.7 495.3h0M1915 386.4h0M1893.2 329.3h0M1916.8 427.6h0M1913.6 430.7h0M1897.6 354.7h0M1891.2 406.1h0M1900.5 341.3h0M1908 391.9h0M1891.6 404.6h0M1912.1 348.9h0M1895.3 322.8h0M1915.3 456.7h0M1905.1 349.9h0M1894.7 459.2h0M1902.3 288.4h0M1898.6 411.5h0M1903.9 404.3h0M1905.9 361.4h0M1893.6 401.7h0M1898.8 402.3h0M1915.7 409.6h0M1905.2 433.1h0M1910.8 433.7h0M1896.4 262.3h0M1898.7 406.5h0M1904.6 474.3h0M1908.5 360.1h0M1914 371.2h0M1894.9 270.2h0M1906.6 454.1h0M1913.8 391.6h0M1896.3 420.5h0M1892.3 304.5h0M1893.6 267.1h0M1915.4 397.6h0M1920.2 458.9h0M1908.3 443.6h0M1959.8 308.6h0M1937 474.1h0M1944.8 356.7h0M1947 338.6h0M1938.2 428.6h0M1937.5 428.4h0M1952.4 288.2h0M1956.1 384.6h0M1948.1 370.5h0M1950.2 425.6h0M1946.3 305h0M1949.4 335.7h0M1937.9 469.2h0M1933.6 411.5h0M1942.2 338h0M1954.3 403.2h0M1943.5 430.5h0M1944.8 352h0M1939.6 371.3h0M1953.4 363.2h0M1952.7 319.5h0M1933.4 416.5h0M1958.6 405.8h0M1956.3 273.4h0M1954 370.3h0M1942 445.4h0M1946.3 401h0M1950 419.8h0M1947 443.8h0M1948.8 312h0M1953 298.7h0M1948.2 370.4h0M1941.6 347.3h0M1935.8 397.1h0M1951.4 424.3h0M1934.7 437.4h0M1943 368.7h0M1952.6 386.6h0M1933.8 423.3h0M1952.1 411.5h0M1957.5 339.6h0M1941.4 315.4h0M1937.3 418.5h0M1946.6 386.3h0M1956.2 259.5h0M1941.3 406.8h0M1933 457.5h0M1943.2 312.3h0M1941.6 345.2h0M1957.5 380.7h0M1940.3 383.1h0M1933.8 465.3h0M1944.2 418.9h0M1941.7 330.8h0M1947.7 401h0M1935.8 455.3h0M1937.3 455h0M1956.3 384.1h0M1937.3 463.1h0M1941.8 396.1h0M1939.4 339.6h0M1933.8 484.2h0M1957.9 319.3h0M1935.4 422.9h0M1943.8 322h0M1953.3 404.7h0M1959.2 309.9h0M1944.6 380.7h0M1951.3 296.2h0M1955.4 381.1h0M1945.2 420.1h0M1946.3 418.9h0M1940.9 417.3h0M1932 470.7h0M1955 244.4h0M1939.2 448.5h0M1941.3 352.6h0M1940 447.5h0M1935.5 444h0M1936.4 370.2h0M1951.3 315h0M1932.3 446.9h0M1954.8 334.2h0M1936.1 440.1h0M1959.4 345.5h0M1944.1 372.3h0M1958.3 297.5h0M1954.1 372.4h0M1935.5 435.3h0M1953 426.7h0M1947.6 401.1h0M1938.5 466.4h0M1952.6 398.5h0M1958.1 407h0M1942.2 461.1h0M1946.3 449.4h0M1941.4 389.4h0M1945.1 416.9h0M1931.8 457.4h0M1948.6 433.5h0M1949.3 394.5h0M1938.9 467.8h0M1953.9 372.3h0M1953.2 375.6h0M1939.9 345.9h0M1955.2 347.7h0M1956.7 358.4h0M1957.6 386h0M1959 401.1h0M1941.4 348.3h0M1947.8 424.3h0M1943.1 363.2h0M1937.6 361.2h0M1937.6 479.4h0M1959.5 394.4h0M1935.3 403.2h0M1944.5 270h0M1953.7 419.9h0M1946.5 342.7h0M1953.9 231.2h0M1940.9 327.2h0M1943.4 311.4h0M1959.6 324.9h0M1937.6 436.8h0M1940.3 384.6h0M1934.7 409.8h0M1943.4 289.7h0M1941.3 382.7h0M1958.9 363.3h0M1947.9 328.6h0M1943.4 363.6h0M1958.5 312.6h0M1954.7 404h0M1941.4 452.3h0M1953.2 432.7h0M1944.1 360.4h0M1949 453h0M1943.4 328.2h0M1957.7 404.5h0M1954.7 355.5h0M1940.8 424.7h0M1953.6 334.7h0M1943.9 351.6h0M1936.7 464.1h0M1945.3 316.1h0M1944.7 284.8h0M1936.1 460.3h0M1956.1 352h0M1928.1 479.9h0M1936 443.9h0M1936.3 380.3h0M1955.2 416.4h0M1936.2 412.4h0M1941.6 471.2h0M1946.3 430.2h0M1947.3 389.7h0M1949.2 346.8h0M1947.3 431.3h0M1937.4 376.2h0M1942.1 340h0M1956.4 393.7h0M1956.6 399.3h0M1938.1 415.4h0M1938.4 378.7h0M1956.6 323h0M1943.2 412.7h0M1942.9 357.5h0M1943.7 316.4h0M1952.7 289.2h0M1956.9 401.1h0M1948.2 352.2h0M1935.7 417.9h0M1949.6 318.9h0M1950.6 360h0M1954.2 288.8h0M1942.4 426.5h0M1945 384.5h0M1947.8 345.1h0M1947.4 307.2h0M1958.1 334.6h0M1949.3 355.9h0M1933.2 481.6h0M1939.7 439.1h0M1958.6 383.8h0M1950.9 312.4h0M1944 317.2h0M1934.7 468.2h0M1946.5 299.6h0M1948.7 419.4h0M1926.7 494.4h0M1944.4 417.4h0M1956.7 338.7h0M1929.3 471.2h0M1949.4 342.5h0M1944.2 349.5h0M1957.4 386.7h0M1949 439.7h0M1952.1 322h0M1944.9 375.4h0M1945.3 436.9h0M1951.8 384.4h0M1952.3 377.1h0M1936.9 381.2h0M1952.4 441.3h0M1956.9 302.1h0M1959.6 306h0M1934.1 440.7h0M1939.2 421.6h0M1942.1 458.8h0M1943.5 423.1h0M1945.5 427.7h0M1941.5 408h0M1955.5 383.4h0M1936.5 453.9h0M1948.4 301.6h0M1953.6 386.4h0M1958.2 364.8h0M1940.9 413.1h0M1941.8 439.9h0M1952.8 361.5h0M1941.2 459.3h0M1949.9 298.1h0M1946 451h0M1951.1 254.8h0M1932.9 480.8h0M1942.9 424.3h0M1959.6 414.5h0M1949.9 404.3h0M1957.7 376.3h0M1938.5 376.7h0M1944.5 417.7h0M1938.5 366h0M1948.3 378.4h0M1955.8 326.5h0M1953.3 356.6h0M1940.3 409.9h0M1954.1 434.1h0M1952.6 350.2h0M1956 286.4h0M1951 388.3h0M1949.5 389.8h0M1945.9 355.5h0M1953.2 409.4h0M1941.4 450.5h0M1959.3 358h0M1953.9 316.3h0M1949.1 331.4h0M1938 381.5h0M1943.3 346h0M1947.4 444.9h0M1927.3 482.9h0M1941.4 466.6h0M1944.9 397.2h0M1938.1 433.6h0M1938.9 462.9h0M1955.1 349.1h0M1928.7 471.2h0M1952.3 397.5h0M1940.2 453.6h0M1943.9 290.9h0M1957 422.8h0M1948.7 374.5h0M1946.7 382.1h0M1942.6 336.6h0M1938.9 435.4h0M1951.9 386h0M1940 433.1h0M1954 356.7h0M1940.6 435.6h0M1950.6 388.3h0M1949.3 418.5h0M1943.4 420.6h0M1951.2 326.6h0M1928.2 488.5h0M1953 359.4h0M1953 428.2h0M1955.2 422.9h0M1940.4 420.2h0M1945.7 365.9h0M1936 448.5h0M1941.7 394h0M1943.8 388.1h0M1932.3 434.6h0M1948.9 385.6h0M1941.4 338.4h0M1942.4 469.1h0M1934 473.3h0M1958.2 336.8h0M1945.2 385.5h0M1935.9 450.6h0M1947.1 385.3h0M1958.1 311.2h0M1949.6 278.4h0M1943.7 334.8h0M1940.6 417h0M1946.1 438.3h0M1947.4 390.8h0M1954.7 282.7h0M1953.4 347.7h0M1926 479.7h0M1939.4 449.5h0M1931.8 484.3h0M1944.6 308.5h0M1950.2 315h0M1935.9 468.3h0M1938.3 426h0M1942.7 446.7h0M1958.3 294.9h0M1951 357.9h0M1948.9 318.4h0M1955.2 336.1h0M1956.4 361.7h0M1956 317.1h0M1930.5 475.5h0M1942.7 360.8h0M1940.4 400.6h0M1952.9 428.9h0M1942.8 314.1h0M1936.7 412.3h0M1944.3 375h0M1941.7 403.3h0M1957 362.1h0M1941 347.6h0M1938.5 398.8h0M1955.6 345.3h0M1957.6 420.5h0M1940.8 427.6h0M1949.6 331.9h0M1959.3 401h0M1956.7 416.7h0M1953.8 337.3h0M1950.3 419.2h0M1953.3 367.8h0M1937.9 349.3h0M1944.5 398.8h0M1954 348.7h0M1943.5 435.9h0M1937.3 463.5h0M1948 330.4h0M1953.8 437.4h0M1950.7 442.1h0M1937.1 374.5h0M1943 372.5h0M1941.5 323.6h0M1943.8 296.4h0M1943.4 451.6h0M1949 404.8h0M1943.5 331.7h0M1935.8 380.2h0M1937.9 349.8h0M1948 328.2h0M1960 258.5h0M1954.7 372h0M1957.8 390h0M1957 327.3h0M1941.5 399.6h0M1951.3 303.4h0M1958.9 314.3h0M1938.9 397.1h0M1943.1 339.2h0M1942 456.9h0M1939.8 398h0M1933.7 468.1h0M1958.9 350.8h0M1955.1 347.9h0M1949.2 324.7h0M1945.9 316.9h0M1958 275h0M1948.9 385.9h0M1953.2 444.2h0M1947.8 404.2h0M1944.2 441.4h0M1950 294.4h0M1954.8 310.1h0M1947.4 435.2h0M1945.2 423.3h0M1936.4 450.1h0M1950.4 408.7h0M1947.8 393.3h0M1947.6 367.1h0M1942.4 333.1h0M1938.1 465.8h0M1952.4 431.7h0M1954.4 400.7h0M1955.8 394.3h0M1936.5 374.7h0M1950.1 386.2h0M1947.5 442.6h0M1959.4 336h0M1955.9 308.5h0M1935.6 420.9h0M1943.8 374.9h0M1953.7 413.5h0M1949.9 309.9h0M1944.9 437.1h0M1957.1 384.2h0M1950.6 392.2h0M1930.7 483.9h0M1951.9 437.6h0M1953.7 301.3h0M1943.3 331.7h0M1940.4 384.5h0M1945.5 308.9h0M1944.7 453.5h0M1948.1 414.7h0M1958.1 265h0M1950.6 322h0M1952.2 435.2h0M1940.6 469.7h0M1956.4 263.2h0M1959.9 395.1h0M1942.1 384.9h0M1948.1 345.2h0M1955.7 394.1h0M1937.5 369.2h0M1930 461.8h0M1935 410.4h0M1940.1 366.5h0M1941.4 317.4h0M1957.9 373.5h0M1935 439h0M1942.1 459.3h0M1959.5 275.5h0M1952.8 401.1h0M1950.2 335.2h0M1953.7 439.2h0M1952.8 375.5h0M1941 313.6h0M1945.1 462.1h0M1952.6 316h0M1956.6 416.9h0M1940.5 446.3h0M1947.1 340h0M1943 450.4h0M1957.8 326.4h0M1946.1 413.5h0M1954.6 388.7h0M1929.1 470h0M1936.2 428h0M1945.2 463.5h0M1953.7 257.3h0M1941.3 345.6h0M1941 414.9h0M1958.4 402.8h0M1944.7 373.3h0M1930.1 480.8h0M1941.9 370h0M1950.6 416.1h0M1933.1 420.8h0M1950.9 427.3h0M1940 425.3h0M1943.1 441.4h0M1944.3 299.6h0M1959.3 336.9h0M1947.4 426.1h0M1944.6 292.6h0M1956 248.6h0M1940.5 415.6h0M1957 372.5h0M1946.7 299.6h0M1929.6 480.2h0M1945.5 424.9h0M1942 373.7h0M1946.8 392.1h0M1944.6 378.4h0M1934.3 434.5h0M1954.9 414.7h0M1935.3 481.9h0M1947.4 441.8h0M1938.1 438.8h0M1936.4 398.1h0M1945.7 294h0M1957.9 254.4h0M1941.8 359.4h0M1946.6 394.2h0M1957.2 340.1h0M1940.4 421.6h0M1954.2 409.2h0M1943 458.7h0M1949.2 447.8h0M1949.9 428h0M1950.1 301h0M1949.3 423.1h0M1949.5 411.8h0M1939.8 419.1h0M1946.6 453.1h0M1946.1 422.6h0M1956.9 373h0M1954.2 298.9h0M1944.8 347.5h0M1946.3 421.5h0M1955.1 373h0M1949.8 323.7h0M1938.8 352.5h0M1956 370.3h0M1958.4 335.5h0M1958.4 264.8h0M1955.6 420.7h0M1943.7 300.4h0M1951.3 299h0M1954.9 414.4h0M1937.4 386.3h0M1956.6 238.7h0M1946.4 318.2h0M1951.4 362.6h0M1954.9 428.6h0M1954.9 381.5h0M1956.7 375.3h0M1943 423.8h0M1937.5 398.3h0M1950 327h0M1948.4 454.1h0M1944.4 454.2h0M1953.8 357.5h0M1931 446.6h0M1953.6 273h0M1939.8 335.3h0M1945.7 329.2h0M1945.3 393.1h0M1934 435.9h0M1931 487.5h0M1940.1 347.5h0M1935.8 445h0M1941 456.4h0M1946.4 324.3h0M1958.5 418.9h0M1953.3 423.1h0M1934.3 481.3h0M1935.8 443.3h0M1947.3 445.1h0M1937.9 385.5h0M1949.9 330.2h0M1937.5 450.9h0M1939.6 345.5h0M1943.1 393.1h0M1959.3 316.2h0M1943.5 362.1h0M1946 340.3h0M1946.9 381.3h0M1957.1 313.4h0M1933.1 422.5h0M1947.1 351.8h0M1945.2 405.8h0M1941.5 412.2h0M1941.4 322.6h0M1958.1 388.3h0M1942.6 337.5h0M1954 287h0M1953.5 297.5h0M1948.1 443.1h0M1943.2 461.4h0M1951.5 416h0M1944.6 419.7h0M1954.1 322.8h0M1937.4 452.4h0M1931.4 437.1h0M1928.7 472.1h0M1933.3 416.1h0M1943.9 403.8h0M1959 343.9h0M1933.9 429h0M1958.4 394.3h0M1936.9 412.9h0M1937.6 474.6h0M1937 458.5h0M1933.4 484.1h0M1934.2 467.4h0M1940.9 317.9h0M1952.9 391h0M1950 353.5h0M1955.2 339.7h0M1955.1 433.7h0M1952.6 346.7h0M1952.6 446.4h0M1933 460.2h0M1951.8 329.6h0M1956.4 390.8h0M1954.1 373.7h0M1954.4 280.3h0M1935.2 451.1h0M1937 380.7h0M1941.5 322.6h0M1939.4 329.3h0M1942.2 437.2h0M1935.6 384.2h0M1940.2 444.3h0M1945.9 274.9h0M1938.6 450.8h0M1959.8 417.2h0M1958 376h0M1943.6 414h0M1956.5 316.5h0M1948.3 335.5h0M1937.3 408.9h0M1934 402.9h0M1949.1 335.4h0M1955.3 262h0M1930.8 472.3h0M1957.2 411.8h0M1957.1 354.6h0M1935.5 383.4h0M1958.3 385.1h0M1952.4 376.4h0M1956.2 328.2h0M1951.3 345.6h0M1942 394.5h0M1950.3 321.3h0M1938.3 366h0M1950 434.5h0M1959.2 401.9h0M1949.8 422.2h0M1950.2 274.4h0M1953.8 374.7h0M1948.3 431.7h0M1956 332.4h0M1955.4 396.9h0M1946.2 382.2h0M1952.1 402.6h0M1952.5 414.6h0M1949.1 294.1h0M1939.6 472.2h0M1932.5 471h0M1957.1 345h0M1927.6 490.3h0M1938.1 344.7h0M1950.4 400.7h0M1940.5 315.6h0M1951.5 317.5h0M1937.8 412.4h0M1948.6 364.8h0M1950.5 301.4h0M1944.4 385.9h0M1955.6 320h0M1941.5 388.3h0M1938.7 437.1h0M1955.3 425.6h0M1954.8 430.4h0M1932.1 466.3h0M1939.9 347.5h0M1945.4 275.5h0M1950.5 387.7h0M1944.8 391.1h0M1948 316h0M1951.1 426.9h0M1934.1 427h0M1946.8 305.4h0M1959.6 320.6h0M1946 324.3h0M1945.3 410.5h0M1936.5 412.1h0M1954 379.9h0M1947.6 405.5h0M1952.3 375.2h0M1943.3 453.4h0M1936.9 381.8h0M1955.6 303.9h0M1941 397.7h0M1956.2 387.5h0M1957.5 356.3h0M1955.1 419.8h0M1946.8 329.3h0M1944.2 463.4h0M1958.4 398.9h0M1945 332.5h0M1943.8 449.8h0M1954.6 403.8h0M1944.7 360.9h0M1958.5 339.2h0M1943.2 380.4h0M1938.8 356h0M1954.5 327.3h0M1939.8 433.5h0M1955.8 404.9h0M1949.7 425.4h0M1934.7 434.5h0M1946.7 314.8h0M1952.4 360h0M1943.3 374.8h0M1936.5 443.4h0M1944.2 390.7h0M1956.9 385h0M1952.8 384.6h0M1940.4 448.1h0M1957.3 339.9h0M1947.4 458.2h0M1958.7 410.6h0M1925.6 482.7h0M1924.5 496.6h0M1944.6 468.7h0M1903.8 464.1h0M1925.6 479.2h0M1938.6 471.3h0M1935.2 473.7h0M1926 496.5h0M1923.7 491.5h0M1928.8 490.8h0M1925.5 497.1h0M1927.5 485.4h0M1924.7 480.6h0M1926.6 487.1h0M1906.5 479.4h0M1939.4 467.3h0M1928 491.1h0M1922.8 472.5h0M1923.9 495.3h0M1926.3 496.3h0M1925.5 497.3h0M1927.7 482.3h0M1927.2 485h0M1910.8 484.4h0M1930.6 485.9h0M1919.4 478.8h0M1933.8 486.6h0M1936.1 479.4h0M1933.8 453.3h0M1889.4 460.5h0M1915.3 477.3h0M1913.9 475.4h0M1928.4 486.1h0M1918 489.9h0M1913.2 485.1h0M1925.2 496.7h0M1913.1 482.4h0M1925.8 497h0M1921.3 494.2h0M1929.2 490.1h0M1929.7 485.9h0M1892.7 468.8h0M1911 464.5h0M1928.6 489.3h0M1918.3 483.7h0M1924.2 496.3h0M1931.4 488.5h0M1925.6 495.2h0M1923.2 495.2h0M1907.2 483.5h0M1924.5 488.1h0M1919 490.2h0M1904.1 472.3h0M1923.8 495.3h0M1923.8 493.3h0M1926.8 493.4h0M1914.8 488.2h0M1925.2 497h0M1923.4 495.7h0M1895.2 464.5h0M1923.3 492.6h0M1925 485.1h0M1927.9 490.5h0M1925.8 492.9h0M1925.1 494.7h0M1923.2 483.3h0M1926.5 493.8h0M1931.7 487.2h0M1919.5 464.6h0M1923.9 496h0M1920.6 480.1h0M1924.3 492h0M1927.4 494h0M1927 490.1h0M1924.6 495.3h0M1938.1 470.8h0M1927.1 495.3h0M1926 464.3h0M1926.6 493h0M1932.2 486.6h0M1923.4 496h0M1927.4 492.3h0M1925.2 486.8h0M1942.8 467.7h0M1923.7 483.9h0M1930.9 477.1h0M1921.9 492.3h0M1936.2 485.2h0M1925.9 493.7h0M1916.2 488.7h0M1930.5 491h0M1925.2 496.8h0M1928.2 493.1h0M1924 485.3h0M1926.9 493.8h0M1943.6 456.4h0M1928.4 493.1h0M1925.6 496.7h0M1922.7 486.7h0M1919.2 491.6h0M1926.5 481.7h0M1913 488.1h0M1922.1 485.2h0M1930.8 485.8h0M1940.2 477.4h0M1925.9 496.6h0M1930.3 492.2h0M1925.5 496.9h0M1916.2 461.8h0M1924.3 495.3h0M1924.8 488.8h0M1922.5 495.3h0M1925.9 492h0M1909.9 485.7h0M1914.5 489.3h0M1941.8 477.3h0M1914.8 489.4h0M1922.1 476.2h0M1927.6 494.3h0M1916.6 485.9h0M1927.2 482.8h0M1926.1 495.4h0M1931.9 465.9h0M1914.6 487.7h0M1920.9 487h0M1922.3 490.3h0M1929.4 487h0M1911.1 477.8h0M1925.4 491.6h0M1902.8 479.2h0M1915.2 490.2h0M1925.7 481.9h0M1928.7 487.8h0M1921.9 494.3h0M1921.1 493.8h0M1925.6 496h0M1947.3 461h0M1914.1 480.8h0M1874.1 453.7h0M1872.3 439.7h0M1891.8 424.3h0M1870.5 427h0M1873.8 443.3h0M1882.7 454.1h0M1879 449.2h0M1880.6 456.7h0M1873.7 437.6h0M1877.5 447.2h0M1886.1 434.7h0M1885.3 428.1h0M1872.2 427.1h0M1888.4 451.6h0M1879.7 460.9h0M1878.4 455.6h0M1881.6 448.2h0M1881 452.2h0M1876 464.8h0M1882.5 441.3h0M1884.7 427.9h0M1880.9 449.8h0M1884.5 441.8h0M1862.8 456.4h0M1888.7 425.2h0M1883.9 446.4h0M1864.7 451.4h0M1878.4 433h0M1876.4 424.8h0M1873 434.3h0M1864.5 434.5h0M1874.4 444.2h0M1879.6 444.2h0M1878 432.5h0M1880.2 445.5h0M1878.6 427.3h0M1881.9 453.2h0M1874.9 430.1h0M1875.2 443.2h0M1877.2 441.9h0M1885.5 453.3h0M1874.6 432.7h0M1873.6 454.2h0M1866.3 454.5h0M1876.2 446.2h0M1868.4 456.7h0M1871.8 449.7h0M1869.9 424.6h0M1874 433.3h0M1887.1 458.7h0M1887.4 441.9h0M1881.4 431.6h0M1881.9 429.2h0M1891.6 433.1h0M1888 447.8h0M1884.5 449.7h0M1887.6 444.5h0M1873 464.5h0M1876.4 441.2h0M1866.9 459.4h0M1872.4 433.1h0M1889.9 451.8h0M1884.9 450h0M1879.2 455.8h0M1873.7 436.3h0M1888.7 441.1h0M1891.2 450.4h0M1880.3 442.7h0M1872.2 428.6h0M1869.2 460.4h0M1870.6 447.8h0M1884.3 432.7h0M1870.3 431.6h0M1874 442.5h0M1879 444.9h0M1870 448.4h0M1866.6 424.8h0M1869.4 449.7h0M1882.3 438h0M1880.2 443.8h0M1884.8 442.4h0M1878.4 443.9h0M1872.8 436.9h0M1871.6 445.5h0M1879.4 428.9h0M1871.3 436h0M1891.8 430.7h0M1871 449.7h0M1877.7 446.7h0M1878.3 445h0M1867 436h0M1861.1 440.7h0M1882 445.7h0M1891.2 425.6h0M1881.9 447.5h0M1883.2 430.1h0M1881.9 430h0M1870.2 437.7h0M1891.2 437.2h0M1883.6 442.2h0M1877.2 443.8h0M1891.2 425.3h0M1882.5 428.5h0M1860.6 456.3h0M1868.7 444.5h0M1875.6 429.7h0M1883 443.3h0M1886.3 452h0M1891.6 451.7h0M1869.6 435.1h0M2189.2 430.3h0M2052.4 465.3h0M2009.5 463.6h0M2028.1 432.3h0M2061.4 425.4h0M2037.9 423.5h0M1989 429.3h0M2006.1 443h0M1976.8 454.8h0M1987.5 453.3h0M1892 150.5h0M1776.8 447.1h0M1810.7 426.7h0M1819.7 428.4h0M1830.3 429.2h0M1839.3 429.7h0M1830 436h0M1820.8 439.8h0M1832.3 440.9h0M1837.6 439.8h0M1838.1 443.9h0M1848.2 440.9h0M1850.7 435.4h0M1844.2 425.9h0M1815.3 465.4h0M1822.5 473.8h0M1829.2 476h0M1844.5 458.9h0M1852.3 459.8h0M1848.4 474.7h0M1864.5 474.7h0M1858 443.9h0M1857.2 450.4h0M1858.8 455.3h0M1867 451.7h0M1869.4 461h0M1872.7 456.9h0M1876.7 452.8h0M1880.8 458.5h0M1874.3 447.1h0M1867.8 445.5h0M1871 470.7h0M1875.9 473.2h0M1877.6 468.3h0M1876.7 477.8h0M1886 483.3h0M1882.5 465h0M1886.5 465.9h0M1890.6 476.1h0M1893.9 475.6h0M1905.3 486.2h0M1905.3 488.7h0M1943.1 481h0M1949.3 455.3h0M1951.7 453.6h0M1950.9 467.5h0M1955 465.9h0M1957.1 463.4h0M1954.6 448.4h0M1959.9 444.7h0M1962.3 447.9h0M1968 446h0M1971.3 429.2h0M1976.2 429.2h0M1989.7 429.2h0M1965.6 424.3h0M1977.8 454.9h0M1988.4 453.3h0M2003.9 442.6h0M2007.9 443h0M2009.6 463.7h0M2028.3 432.1h0M2038.9 423.3h0" fill="none" stroke="#bebebe" stroke-width="5.4" stroke-linecap="round"/>
<path d="M1886.2 389.1h0M1877.2 315.3h0M1873.9 404.3h0M1860.5 345.4h0M1885.4 236h0M1872.5 410.7h0M1889.1 377.2h0M1885.3 407.2h0M1878.1 409.7h0M1885.7 413h0M1884.6 399.4h0M1882.1 361.6h0M1881.9 395.1h0M1883.2 250.5h0M1887.1 348.5h0M1871.7 391.7h0M1877.5 290.6h0M1858.4 264.8h0M1864.7 292.3h0M1887.9 255.6h0M1881.6 390.3h0M1852.9 301h0M1878.7 265.8h0M1882.5 411.2h0M1888.4 409h0M1865.7 367.1h0M1881.7 367h0M1885.7 404.3h0M1878.3 240.5h0M1889.1 388.3h0M1889.2 386.6h0M1868 387.3h0M1854.9 363.7h0M1881.2 377.8h0M1859.5 322h0M1843.8 291.8h0M1866.6 237.3h0M1865.4 407.7h0M1885 395.5h0M1875.9 378.7h0M1847.6 327.3h0M1857 262.6h0M1875.1 383.5h0M1881.5 370.8h0M1868.9 223.4h0M1847 239.4h0M1865.5 245.2h0M1887 201.4h0M1885.8 395.1h0M1883.4 352.9h0M1886 330.9h0M1873.4 413.3h0M1863.3 297.2h0M1866.8 417.1h0M1884.3 420.6h0M1878.4 378.9h0M1856.3 325.2h0M1864.7 264.4h0M1864.8 363.1h0M1884 392.1h0M1888.7 257.2h0M1856.4 337.7h0M1888.6 402.7h0M1888.1 413h0M1871.7 324.6h0M1865.9 416.9h0M1884.3 304.7h0M1878.6 376.8h0M1855.1 233.2h0M1883.5 271.1h0M1886.2 393.7h0M1871.4 399.7h0M1881.6 352.2h0M1881.5 384.3h0M1845.1 346.5h0M1871.1 373.7h0M1868.9 318.4h0M1883.4 373.2h0M1882 314h0M1863.5 342.5h0M1871.2 389.8h0M1889.1 333.6h0M1868.3 372.3h0M1880.6 377.8h0M1855.6 278.9h0M1871.7 386.1h0M1887.5 256.6h0M1883.4 282.6h0M1856.6 235h0M1888.9 219.9h0M1863.2 309h0M1857.7 345.9h0M1883.3 206.8h0M1875.6 388.1h0M1836.7 290.2h0M1861.6 408.1h0M1867.8 380.5h0M1866.9 381.6h0M1876.7 394h0M1880.9 405.3h0M1838.8 382h0M1868.5 401.9h0M1852.4 329.4h0M1872.7 405.5h0M1884.1 381h0M1880.6 247.2h0M1883.3 411.4h0M1885.6 415.5h0M1884.8 343.1h0M1880.1 387.5h0M1844.8 320.3h0M1873 408.7h0M1866.3 404.3h0M1888.7 405.7h0M1861.3 414.9h0M1830.2 394.7h0M1849 330.8h0M1886.5 405.5h0M1879.9 389.5h0M1852.9 396.9h0M1876.6 400.1h0M1870.3 410.3h0M1885.7 226.9h0M1883.7 260.7h0M1884.4 397.9h0M1849.7 332.8h0M1883.7 283.5h0M1879.1 296.9h0M1860.2 385.3h0M1889.1 360.1h0M1884.5 331.9h0M1882.3 408.8h0M1867.5 400.9h0M1878.3 401.9h0M1859.5 350.2h0M1873.4 374.9h0M1865.5 414.9h0M1873.5 411.3h0M1887.9 215h0M1858.9 296.6h0M1887.3 395h0M1874 376.7h0M1884.4 295h0M1876.2 379.4h0M1870.8 392.6h0M1860.8 374.9h0M1861.4 335.8h0M1884.9 317.2h0M1873 217.5h0M1888.5 242.4h0M1876.2 411.8h0M1876.8 334.5h0M1862.2 229.5h0M1886.7 312.1h0M1881.2 390.5h0M1856.7 393.8h0M1879.3 385.7h0M1864.1 233.4h0M1888.2 406.6h0M1841.2 383.1h0M1862.7 377.2h0M1881 394.4h0M1847.7 259.2h0M1886 384.8h0M1885.7 405.5h0M1862.2 264.3h0M1848.9 218h0M1886.2 408.2h0M1877.8 409.3h0M1848.4 287.7h0M1871.6 401.4h0M1865.7 337.6h0M1888.8 391.7h0M1870.5 382.4h0M1875.1 416.5h0M1882.1 255.9h0M1883.5 372.9h0M1885.2 405.1h0M1852.9 263.5h0M1854.8 285.2h0M1878.1 338.9h0M1858.7 354.2h0M1889.1 390.4h0M1877.4 382.8h0M1884.8 405.7h0M1874.3 300h0M1863 387.2h0M1884.1 231.2h0M1853.9 380.3h0M1859.1 418.6h0M1871.4 292.7h0M1884.8 257h0M1871.1 335.6h0M1873.9 401.9h0M1876 390.3h0M1871.3 205.3h0M1867.1 271.7h0M1875.9 358.3h0M1885.2 332.6h0M1868.2 388.6h0M1866.1 409.8h0M1877.4 398.3h0M1886.3 406.9h0M1877.2 255h0M1876.1 417.1h0M1866.1 408.8h0M1873.7 396.7h0M1868.8 323.2h0M1887.7 387.6h0M1878.4 264h0M1888.9 210.3h0M1884.9 316.7h0M1849.7 309.5h0M1881.3 416.7h0M1861.1 402.4h0M1862 353.4h0M1861 338.1h0M1886.6 366.1h0M1848.5 242.3h0M1878.4 333h0M1851.4 286.1h0M1883 349.7h0M1884.1 393.2h0M1867 231.2h0M1858.6 347.2h0M1863.6 241.1h0M1889.3 420.1h0M1862.3 328.9h0M1873.3 347.6h0M1865.1 373.8h0M1860 405h0M1876.7 323.7h0M1880.9 383.5h0M1883.5 325.1h0M1881.2 365.4h0M1864.4 269.7h0M1873.9 309.2h0M1878.8 236.4h0M1881.8 227.6h0M1871.1 401.4h0M1866.2 280.3h0M1884.8 419.8h0M1855.1 376.4h0M1855.5 232.8h0M1834.4 288.1h0M1865.7 272.5h0M1881.9 320.3h0M1868 386.2h0M1887.4 385h0M1867.8 395.2h0M1853.8 257.2h0M1857.3 303.8h0M1856 319.3h0M1869.3 380.4h0M1854.2 263.2h0M1835.4 331.1h0M1853.9 233.6h0M1886.5 393.6h0M1874.3 251.8h0M1883.9 298h0M1874.1 420.2h0M1887.3 273.5h0M1870.9 378.7h0M1865.6 415.2h0M1887.8 401.9h0M1887.2 248.6h0M1867.4 402.1h0M1875.2 414.6h0M1851.4 208h0M1864.3 341.6h0M1882.5 398.7h0M1888.1 334.3h0M1888.4 399.5h0M1868.4 399.2h0M1863.6 393.8h0M1866.1 413.5h0M1865.4 409.4h0M1884.4 258.8h0M1881.1 311.5h0M1886.5 283.4h0M1886.1 390.1h0M1884.5 226h0M1886.4 407h0M1886.3 310.6h0M1845.3 212.4h0M1852.7 303.8h0M1888.6 378.6h0M1867.3 347.2h0M1888 414.6h0M1866.3 308.3h0M1883.9 402.7h0M1867.6 201.6h0M1884.3 374.7h0M1829.5 386.4h0M1883.3 387h0M1886.3 322.5h0M1881.7 350.1h0M1865.9 403.9h0M1874.6 390h0M1861.6 254.3h0M1878.9 368.6h0M1863.5 251.1h0M1883.9 369.7h0M1868.3 369.2h0M1883.1 327.8h0M1869.1 380.1h0M1877.2 375.3h0M1871.8 204.5h0M1869.3 277.5h0M1842.8 354.4h0M1866.1 374.1h0M1869.3 374.1h0M1887.3 285.9h0M1884 313.2h0M1888.4 358.4h0M1877.4 405.9h0M1886.5 398.2h0M1879.2 288.3h0M1878.2 245.3h0M1844 290h0M1864.1 344.1h0M1878 303.9h0M1874.8 216.6h0M1871.7 360.8h0M1884.8 387.9h0M1867.5 225.6h0M1872 381.7h0M1887.5 377.2h0M1875.8 403.9h0M1865.4 225.1h0M1888.8 376.8h0M1848 328.4h0M1875.9 395.4h0M1880.8 331.2h0M1872.7 413.9h0M1887 390.1h0M1861.3 367.6h0M1882.8 410.8h0M1882.9 283.2h0M1859.3 356.6h0M1863.3 414.3h0M1886.9 416.5h0M1873.2 377.3h0M1848.9 343.5h0M1864.7 253h0M1885.7 376.9h0M1874.8 360.6h0M1866.7 244.7h0M1882.6 211.3h0M1866.3 418h0M1876.1 384.3h0M1869.8 404.8h0M1846.8 402.2h0M1859.8 220.1h0M1877 380.3h0M1878 394.2h0M1875.3 415.3h0M1879.4 377.9h0M1889.2 305.3h0M1866.3 403.6h0M1871.5 275.8h0M1872.6 403.9h0M1888.1 410.3h0M1886.3 292.9h0M1886.1 392.4h0M1880.4 332.8h0M1865.5 251.7h0M1875.4 385.2h0M1866.4 207.8h0M1861.7 307.2h0M1868.8 379.8h0M1876.4 388.1h0M1878.6 417.2h0M1866 288.7h0M1879.8 378.3h0M1874.5 420.6h0M1885.5 380.2h0M1883.2 329.4h0M1876.9 382.4h0M1870.6 249.4h0M1867.8 397.5h0M1873.7 416.1h0M1872.3 262.7h0M1870.5 255.5h0M1889.1 261.9h0M1853.5 317.2h0M1885.2 412.1h0M1865.2 418.2h0M1872.6 278.9h0M1878.7 401h0M1885 397.2h0M1871.4 307.5h0M1869.6 400.2h0M1880.4 271.3h0M1868.4 368.6h0M1868.5 389h0M1870.9 387.9h0M1854.3 287h0M1884.6 386h0M1865.9 271.8h0M1885 254h0M1739.8 228.4h0M1871.1 124.7h0M1870.4 130.6h0M1867.8 153.4h0M1860.3 157.3h0M1836.6 169.4h0M1887.4 176.9h0M1848.3 180.1h0M1866.5 189.6h0M1854.8 194.8h0M1864.3 194.5h0M1883.8 197.4h0M1860 201.6h0M1870.8 202.6h0M1850.2 205.2h0M1870.1 207.2h0M1804 208.1h0M1836.2 209.8h0M1883.2 211.7h0M1859.7 214.7h0M1838.8 221.8h0M1807.9 228.4h0M1825.5 271.7h0M1801.4 277.9h0M1814.4 283.4h0M1806.6 328.4h0M1800.4 338.2h0M1789 344h0M1820.6 334.6h0M1822.5 347h0M1830 352.5h0M1819.6 361h0M1830.4 363.6h0M1810.2 379.6h0M1834 382.8h0M1844.1 392.3h0M1806.3 404.3h0M1811.5 406.6h0M1819 402.4h0M1821.2 407.3h0M1796.8 419.3h0M1803.3 414.7h0M1818 412.1h0M1822.2 420h0M1830.4 407.3h0M1835.9 407.3h0M1842.1 413.1h0M1834.3 415.4h0M1843.4 421.3h0M1840.1 421.3h0M1831 420h0M1847.3 406.6h0M1853.8 421.3h0" fill="none" stroke="#0000ff" stroke-width="5.4" stroke-linecap="round"/>
<path d="M2053.2 349.9h0M1997.2 394.5h0M1995 322.3h0M1972.9 326h0M1976.1 259.7h0M1976.4 406.8h0M2027.6 375.8h0M2019.8 366.3h0M1976.8 387.5h0M1984.9 262.2h0M1979 343.1h0M2088.7 352.6h0M2008.9 269.9h0M1962.6 361.6h0M1968.7 242.4h0M2029.8 380.1h0M2053.6 347.5h0M1962.3 307.1h0M1962.5 237.5h0M1985.7 344.6h0M1973.4 292.6h0M1983.4 385.9h0M2004 380.5h0M2028.2 390.8h0M2044.9 344.1h0M2026.1 374.3h0M2047.9 280.5h0M1987.6 398.5h0M2010.9 289.3h0M2080.9 382.5h0M1990.3 373.9h0M1966.6 332.4h0M1996 340.4h0M2022.6 399.5h0M2045 274.1h0M2016.8 289.4h0M1979.5 346.4h0M2015.5 408.6h0M1961.7 267h0M1970.1 329.1h0M2023.3 296.9h0M1966.9 329.2h0M1962.6 309h0M2081.9 343.4h0M1991.1 298.6h0M2034.2 361.9h0M2019.1 350.1h0M1987.4 409.4h0M2004.9 272.6h0M1963.8 312.6h0M2035.5 268.5h0M2084.2 372.9h0M2088 347.5h0M1988.9 304h0M2009.7 384.2h0M1988.8 287.5h0M1973.8 351.9h0M2067.9 327.6h0M1966.9 329.1h0M1975.1 233.1h0M2014.9 314.1h0M2050.3 246h0M2020.4 348.9h0M1974.1 362.4h0M2019.4 377.9h0M1968.5 312.2h0M2008.6 290.7h0M2033.5 371.7h0M2032.3 374.8h0M1986.7 275.6h0M2009 319.9h0M1993.2 301.3h0M1962.2 384.8h0M1984.4 299h0M2026.3 379.3h0M1997.9 280.8h0M2070.1 338.2h0M1970.2 268.7h0M2018.5 274.3h0M1963.3 403.1h0M1966.3 302.9h0M2024.5 258.5h0M1987 319.4h0M1991.5 381.4h0M1968.3 347.5h0M1964.4 352.2h0M1990.9 251.6h0M1966.8 387.6h0M1963.6 370.4h0M2004.6 273.4h0M1990.2 311.1h0M1962.4 314.8h0M2077.4 381h0M2042.6 249.2h0M1972.9 258.1h0M1997.1 340.2h0M2024.8 265h0M1963.9 327.8h0M1963.1 309.7h0M2029.1 406h0M1964.1 355.7h0M2084.3 354.4h0M2023.9 384.4h0M2019 265.9h0M2099.9 371.5h0M1970.8 246.7h0M2021.5 258.5h0M1973.7 289.3h0M1994.9 261.9h0M1969.1 314.4h0M1964.3 289h0M1966 316.6h0M2078.4 366.1h0M1998.3 306h0M2032.2 417.1h0M1962.9 326h0M1970.4 389.2h0M2017.4 359.9h0M1966.3 379.1h0M1971.9 369.8h0M2096.1 355.2h0M2011.2 257.2h0M1990.8 303.8h0M1987.6 270h0M2091.1 359.4h0M2023.5 308.1h0M1962.1 297.5h0M2074.2 336.3h0M1974.3 254.1h0M2018.3 328.6h0M1966.5 324.6h0M2012.2 385h0M1975.5 252.8h0M2022.8 230.5h0M1997.2 302.9h0M1966.2 278.6h0M1981.4 235h0M1964.3 296.9h0M1973.9 285.5h0M2011.1 307.5h0M2000.8 362.1h0M2086.7 360.9h0M2005.1 240h0M1967.5 304.6h0M1972.9 326.4h0M2087.7 339.7h0M2043.3 382.3h0M1980.9 412.8h0M1975.8 343.9h0M2038.6 340.2h0M1963.4 279.9h0M2019.7 374.4h0M1966.9 337.6h0M1962.2 318.8h0M1973.2 366.3h0M2003 320.8h0M1976.4 242.4h0M1973.8 289.5h0M1974.7 340.8h0M1988.8 360.6h0M1964.1 335.2h0M2036.8 346.9h0M1966.9 347.3h0M2040.2 376.7h0M1973 263.7h0M1993.5 252.8h0M1991.6 308.9h0M1970.9 315h0M1984.4 345.9h0M2001.2 242.1h0M2029.6 399.1h0M1963.5 251.6h0M2017.7 306.8h0M2000.6 324.2h0M2012 330.2h0M2009.3 280h0M2019 270h0M2010.7 253.1h0M1997.6 300.9h0M1962.7 291.9h0M1984.2 398.6h0M1974.4 251.6h0M1966.5 289.8h0M2035.2 380.2h0M1984.8 312.4h0M2003.5 377.4h0M1978.7 304.7h0M1962.2 329.2h0M2020 241.7h0M2001 254.5h0M2023.9 380.3h0M2007.1 283.5h0M1965 346.8h0M1965 272.6h0M1989.7 309.9h0M1992.9 304.3h0M2013 394h0M1961.9 358h0M1988.2 230.1h0M1966 285.7h0M2006.5 352.3h0M2027.2 361h0M1972 295h0M1969.3 281.2h0M1983.4 314h0M2035.7 243.5h0M1963 356.8h0M1964.7 372.5h0M2014.1 315.4h0M1997.5 298.5h0M2034.5 407.9h0M1963.4 373.2h0M2037.6 290.9h0M2038.8 251.8h0M1970.3 373.3h0M1965.5 376.3h0M2013 381.4h0M1987.5 270.1h0M2011.6 268.1h0M1975.7 385h0M1975.8 402.5h0M2014.7 243.2h0M1973.7 342h0M1964.2 300.1h0M1969 254.9h0M2067.5 368.3h0M1991.1 261.4h0M1979.7 406.1h0M1963.2 303.7h0M2002.2 247.8h0M1996.3 241.6h0M2025.1 306h0M1966 301h0M2007 326.6h0M1969.5 374.8h0M1992.8 253.3h0M2033.5 345.9h0M1988 241.7h0M1977 349.9h0M1975.3 242h0M1980.6 253.2h0M1964.2 370.3h0M2016.5 363.9h0M1961.6 323.7h0M1994.9 288.8h0M1966.5 259.9h0M1962.5 312.2h0M2006 345h0M1989.7 408h0M1990.4 342.8h0M2008.2 258.9h0M1998 272.9h0M1966 307.9h0M2008.3 256.4h0M1991.3 388.1h0M1962 371h0M1987 326.3h0M2047.9 369h0M1975.7 354.3h0M1971.1 331h0M1966.7 348.1h0M2024.4 266.2h0M2009.4 234.2h0M1984.1 334.9h0M2019.7 299.6h0M1967.3 328.9h0M1978 383.9h0M1984.3 401.8h0M2005.4 337.7h0M2004 257.3h0M1997.6 243.7h0M1976.7 252.1h0M1991.7 366h0M2023.5 265.6h0M1976.3 277.9h0M1986.1 262.9h0M2038.9 334.5h0M1997.1 373.1h0M1967.3 378.6h0M1963.7 298.2h0M1967.7 368.7h0M2034.6 353.5h0M2001.6 236h0M1964 329.5h0M1976.8 381.1h0M1979 403.8h0M2014 260.1h0M1977.7 318.7h0M1969.8 347h0M2007.6 276h0M1962.5 310.9h0M1962 274.6h0M2066.1 338.4h0M1966 296.7h0M1963.3 330h0M1977.5 251.4h0M1969.8 262.6h0M1965.5 297.5h0M1970.3 375.5h0M2022.5 346.4h0M2014 283.8h0M1986.3 295.4h0M2007.2 263.5h0M1968.4 268.3h0M1967.1 329h0M2025.9 347.9h0M1963 317.4h0M2032.6 393.9h0M2007.6 410.2h0M2024.8 328.6h0M1962.2 368.4h0M1971.7 361.9h0M2036.6 310.2h0M2019.1 330.9h0M1999.1 264.1h0M2091.5 371h0M1966.6 334.5h0M2075.8 346.1h0M2032.1 312.7h0M2035.2 333.2h0M1988.4 418.4h0M2012.2 273.3h0M1963.9 338.3h0M2011.2 342.5h0M1972.2 299.3h0M2021.4 276.2h0M1970.2 334h0M1978.6 300.5h0M2050.5 372.9h0M2042.1 373.2h0M1968.4 412.5h0M1981.2 299.5h0M1965.2 412.1h0M1962.9 290.3h0M2068 369.5h0M1969.7 277.8h0M1974.8 319.5h0M2044.8 327.7h0M2037.3 267.8h0M1969.4 341.9h0M2025.7 387.8h0M1977.1 341.5h0M1979.7 303.8h0M1981.4 326.7h0M2031.9 286.1h0M1966.5 328.8h0M2005.2 315.2h0M2016.5 310.4h0M1968.1 363.6h0M2042.2 315.3h0M1974.6 263.6h0M1974.5 293.2h0M2067.9 362.6h0M2004.5 290.5h0M1972.1 390.1h0M1995.2 263.1h0M2009.6 387.4h0M1962.3 238.6h0M1976.2 353.8h0M2037.9 296.2h0M2065.9 369h0M1968.3 382.1h0M2049.7 346.5h0M2047 342.6h0M1973.4 386.2h0M1976.9 330.7h0M2098.4 337.9h0M2063.2 348h0M2019.8 247.5h0M1962.4 376.3h0M1978.7 323.8h0M2030 358.5h0M2032.9 309.5h0M2021.6 336.9h0M2002.3 350.9h0M1965.2 356h0M2076.6 338.5h0M1962.6 249.8h0M2052.7 349.5h0M1966 296.4h0M1996 292.1h0M2001.8 302.4h0M2077.2 341.7h0M1985.9 356.1h0M2021 323.7h0M2001.8 343.4h0M1968.6 345.5h0M1984.8 380h0M2045.8 354.6h0M1990.4 286.2h0M2029.7 276.5h0M2033.5 321.7h0M2099.8 332.4h0M1965.9 370.2h0M1964.5 328.5h0M1983.9 299.5h0M1971.1 347.8h0M2078.6 359.7h0M2013 273.9h0M2048.1 371h0M1987.6 344.3h0M1966 373.8h0M1992.6 236.2h0M1982.8 256.5h0M1962 264.3h0M2108.4 378.4h0M2017.7 330.7h0M1964.7 367.1h0M1969.5 363.1h0M2035.6 339.7h0M1965.8 302.3h0M2007.1 295.9h0M2025.9 297.7h0M1987.3 280.5h0M1981.7 337.4h0M1999.5 300.3h0M2023.4 343h0M1966.5 302.1h0M1967.8 333.7h0M2062.4 363.8h0M1968.7 320.6h0M2014.4 263.6h0M2068.8 345.4h0M2032.8 246.9h0M1973.8 255h0M1970.4 332.6h0M1978.4 303.8h0M1969.4 244.9h0M1963.2 267.2h0M1989.8 257.5h0M2068.3 347.2h0M1969.1 391.5h0M2016.1 358.5h0M1961.9 238.6h0M2066.1 338.9h0M2045.2 331.8h0M1980.8 397h0M1971.1 267.8h0M2041.8 282h0M1990.9 307.5h0M2018.3 294h0M1985.8 296.9h0M2079.2 351.9h0M1970.3 260.2h0M2060.6 339.7h0M2006.2 255.7h0M1992.7 253.4h0M1962.9 335.3h0M1986.3 253.2h0M1992.1 249.4h0M1968.6 245.1h0M2009.3 391.2h0M1985.3 262.9h0M1970.6 335.6h0M1974.4 291.8h0M1972.4 349.9h0M1991.5 252.7h0M1964.6 284.1h0M1973.2 330.6h0M1965.1 323.3h0M1963.2 286.1h0M1987.1 289.1h0M1964.3 355h0M1967.5 264h0M1966.2 357.3h0M1978.2 286.9h0M2033 390h0M2024.5 351.1h0M1976.4 316.6h0M2072.4 367.8h0M1972.5 316.7h0M1994.2 241.5h0M1963.2 374.3h0M2065.3 354.2h0M2042.3 359.2h0M1975.5 253.6h0M2060.2 389.4h0M1963.2 347.7h0M1962.7 246.9h0M2021.2 329.6h0M1963.5 366.1h0M2050.2 324.9h0M1974.6 379h0M1973.3 371.7h0M1965 376.3h0M1965.4 247.1h0M1982 344.9h0M2036.5 273.8h0M2023.3 239.3h0M2082.1 352.9h0M1984.7 399.4h0M2067.3 361h0M1963.5 268.8h0M1990.9 348.2h0M1962.4 322.1h0M1966.6 385.6h0M1981.8 289.8h0M2016.2 249.8h0M1968.1 311.4h0M2009.6 303h0M1965.2 331.2h0M2044.3 354.9h0M2025.9 339.6h0M1977.9 314.3h0M1964.3 379.4h0M2001.8 335.9h0M2077.9 374h0M1976.3 369.2h0M1962.7 250.1h0M2026.8 334.7h0M2004.5 332.4h0M2041 398.3h0M2004.2 395h0M1997.5 337.8h0M1964.3 381.8h0M1971.7 368.2h0M2068.3 372h0M2052.2 263.6h0M2004.6 331.2h0M2007.2 297h0M1991.3 252h0M1969.2 368.7h0M2010.6 309.9h0M1999.3 286.9h0M1987.7 389.8h0M1965.9 267.8h0M1972.7 326.2h0M1968.1 272.3h0M1963.8 375.9h0M1965.7 286.1h0M1996.8 245.9h0M1964.3 361.8h0M2048 327.8h0M2102.4 68.7h0M1988 122.1h0M2013.7 118.5h0M1995.5 148.2h0M2015.7 147.2h0M2059 153.1h0M2075 153.4h0M1978.6 171.3h0M2007.6 169.4h0M2017 175.6h0M2087.4 172h0M2076 180.8h0M2011.5 180.8h0M2010.2 182.7h0M1969.8 187.3h0M1971.7 189.9h0M1983.8 191.2h0M1993.9 189.6h0M2030.4 187.9h0M2122.9 195.8h0M1975.9 199.7h0M1997.5 199.7h0M2013.1 197.4h0M2043.4 198.7h0M1977.6 206.2h0M1998.1 207.2h0M2016.7 205.5h0M2011.5 209.5h0M2015.4 209.5h0M1993.9 212.1h0M2033 210.8h0M2034.3 212.1h0M2015.1 216.3h0M2022.5 217.6h0M2052.5 219.9h0M2064.6 217.3h0M2066.2 224.4h0M1988.3 221.8h0M1989.3 227.4h0M2111.8 343.4h0M2117 343.4h0M2139.9 353.2h0M2135.9 361h0M2134 364.6h0M2120 364.9h0M2109.9 366.8h0M2139.2 373h0M2140.5 374h0M2145.7 377.6h0M2168.5 369.1h0M2112.5 406.9h0M2129.1 414.7h0M2066.2 417h0M2074.4 415.1h0M2051.9 402.4h0M2050.6 408.9h0M2017.3 410.5h0M2021.2 410.2h0M2017 418.7h0M1991.9 411.5h0M1992.9 420.6h0M1996.8 405.6h0M2076 271.4h0M2062 276.9h0M2062.6 291.9h0M2077.6 302h0M2062 303.3h0M2059.4 306.2h0M2048 307.9h0M2039.2 294.8h0M2040.1 299.4h0M2051.9 319.6h0M2077 318h0M2091 317.3h0M2042.1 336.5h0M2068.2 337.2h0M2043.1 284.1h0" fill="none" stroke="#ff0000" stroke-width="5.4" stroke-linecap="round"/>
<rect x="1616.4" y="47.6" width="618.3" height="470.9" fill="none" stroke="#6c6c6c" stroke-width="1.4"/>
<path d="M1750.3 518.5v4.9M1925.5 518.5v4.9M2100.6 518.5v4.9M1616.4 497.3h-4.9M1616.4 383.1h-4.9M1616.4 268.9h-4.9M1616.4 154.7h-4.9" stroke="#1a1a1a" stroke-width="1.4" fill="none"/>
<g font-weight="bold" font-size="19" fill="#000">
<text transform="translate(1750.3 540.5) scale(1 1.02)" text-anchor="middle">-5</text>
<text transform="translate(1925.5 540.5) scale(1 1.02)" text-anchor="middle">0</text>
<text transform="translate(2100.6 540.5) scale(1 1.02)" text-anchor="middle">5</text>
<text transform="translate(1607.8 504.1) scale(1 1.02)" text-anchor="end">0</text>
<text transform="translate(1607.8 389.9) scale(1 1.02)" text-anchor="end">2</text>
<text transform="translate(1607.8 275.6) scale(1 1.02)" text-anchor="end">4</text>
<text transform="translate(1607.8 161.4) scale(1 1.02)" text-anchor="end">6</text>
</g>
<text x="1925.5" y="565.5" text-anchor="middle" font-weight="bold" font-size="24">log2 (fold change)</text>
<text transform="translate(1587.8 283.1) rotate(-90)" text-anchor="middle" font-weight="bold" font-size="24">-log10 (p-value)</text>
</g>
<g id="pieD" stroke="#fff" stroke-width="1.4" stroke-linejoin="round">
<path d="M401.00 939.40L401.00 686.30A253.10 253.10 0 0 1 413.47 686.61Z" fill="#ffff33"/>
<path d="M401.00 939.40L413.47 686.61A253.10 253.10 0 0 1 474.75 697.28Z" fill="#ff7f00"/>
<path d="M401.00 939.40L474.75 697.28A253.10 253.10 0 0 1 576.07 756.61Z" fill="#984ea3"/>
<path d="M401.00 939.40L576.07 756.61A253.10 253.10 0 0 1 653.86 928.49Z" fill="#4daf4a"/>
<path d="M401.00 939.40L653.86 928.49A253.10 253.10 0 0 1 267.76 1154.59Z" fill="#377eb8"/>
<path d="M401.00 939.40L267.76 1154.59A253.10 253.10 0 0 1 401.00 686.30Z" fill="#e41a1c"/>
</g>
<g font-size="23.6" fill="#000" stroke="#000" stroke-width="0.25" text-anchor="middle">
<text transform="translate(192.8 906.3) scale(1 1.035)">105</text>
<text transform="translate(517 1108) scale(1 1.035)">88</text>
<text transform="translate(571 878) scale(1 1.035)">31</text>
<text transform="translate(517 759) scale(1 1.035)">19</text>
<text transform="translate(422.6 761.3) scale(1 1.035)">10</text>
<text transform="translate(392.3 747.7) scale(1 1.035)">2</text>
</g>
<g id="pieE" stroke="#fff" stroke-width="1.4" stroke-linejoin="round">
<path d="M1158.05 963.00L1158.05 706.20A256.80 256.80 0 0 1 1163.08 706.25Z" fill="#ffff33"/>
<path d="M1158.05 963.00L1163.08 706.25A256.80 256.80 0 0 1 1204.70 710.47Z" fill="#ff7f00"/>
<path d="M1158.05 963.00L1204.70 710.47A256.80 256.80 0 0 1 1304.49 752.04Z" fill="#984ea3"/>
<path d="M1158.05 963.00L1304.49 752.04A256.80 256.80 0 0 1 1414.85 963.42Z" fill="#4daf4a"/>
<path d="M1158.05 963.00L1414.85 963.42A256.80 256.80 0 0 1 1060.84 1200.69Z" fill="#377eb8"/>
<path d="M1158.05 963.00L1060.84 1200.69A256.80 256.80 0 0 1 1158.05 706.20Z" fill="#e41a1c"/>
</g>
<g font-size="23.6" fill="#000" stroke="#000" stroke-width="0.25" text-anchor="middle">
<text transform="translate(942 947) scale(1 1.035)">422</text>
<text transform="translate(1286 1128) scale(1 1.035)">300</text>
<text transform="translate(1355 862) scale(1 1.035)">148</text>
<text transform="translate(1231 801) scale(1 1.035)">65</text>
<text transform="translate(1198 773) scale(1 1.035)">25</text>
<text transform="translate(1148 761) scale(1 1.035)">3</text>
</g>
<g id="pieF" stroke="#fff" stroke-width="1.4" stroke-linejoin="round">
<path d="M1914.30 970.90L1914.30 718.50A252.40 252.40 0 0 1 1915.97 718.51Z" fill="#ffff33"/>
<path d="M1914.30 970.90L1915.97 718.51A252.40 252.40 0 0 1 1962.46 723.14Z" fill="#ff7f00"/>
<path d="M1914.30 970.90L1962.46 723.14A252.40 252.40 0 0 1 2066.82 769.79Z" fill="#984ea3"/>
<path d="M1914.30 970.90L2066.82 769.79A252.40 252.40 0 0 1 2166.60 963.80Z" fill="#4daf4a"/>
<path d="M1914.30 970.90L2166.60 963.80A252.40 252.40 0 0 1 1817.42 1203.97Z" fill="#377eb8"/>
<path d="M1914.30 970.90L1817.42 1203.97A252.40 252.40 0 0 1 1914.30 718.50Z" fill="#e41a1c"/>
</g>
<g font-size="23.6" fill="#000" stroke="#000" stroke-width="0.25" text-anchor="middle">
<text transform="translate(1702 954) scale(1 1.035)">415</text>
<text transform="translate(2042 1132) scale(1 1.035)">301</text>
<text transform="translate(2080 902) scale(1 1.035)">135</text>
<text transform="translate(1986 812) scale(1 1.035)">69</text>
<text transform="translate(1953 785) scale(1 1.035)">28</text>
<text transform="translate(1902 773) scale(1 1.035)">1</text>
</g>
<g id="legend1">
<circle cx="2262.5" cy="87.1" r="3.1" fill="#0000ff"/>
<circle cx="2262.5" cy="117.6" r="3.1" fill="#bebebe"/>
<circle cx="2262.5" cy="148.4" r="3.1" fill="#ff0000"/>
<g font-size="26.15" fill="#000">
<text x="2279.6" y="92.8">Down-regulated</text>
<text x="2279.6" y="130.7">No-significant</text>
<text x="2279.6" y="168">Up-regulated</text>
</g></g>
<g id="legend2">
<rect x="2255.8" y="739.6" width="30.3" height="30.2" fill="#e41a1c"/>
<rect x="2255.8" y="774.8" width="30.3" height="30.2" fill="#377eb8"/>
<rect x="2255.8" y="810" width="30.3" height="30.2" fill="#4daf4a"/>
<rect x="2255.8" y="845.2" width="30.3" height="30.2" fill="#984ea3"/>
<rect x="2255.8" y="880.4" width="30.3" height="30.2" fill="#ff7f00"/>
<rect x="2255.8" y="915.6" width="30.3" height="30.2" fill="#ffff33"/>
<g font-size="26.35" fill="#000">
<text x="2299.0" y="756.2">Cytoplasm</text>
<text x="2299.0" y="793.9">Secreted</text>
<text x="2299.0" y="831.6">Inner membrane</text>
<text x="2299.0" y="869.3">Periplasm</text>
<text x="2299.0" y="907">Outer membrane</text>
<text x="2299.0" y="944.7">Fimbrium</text>
</g></g>
</svg></body></html>
